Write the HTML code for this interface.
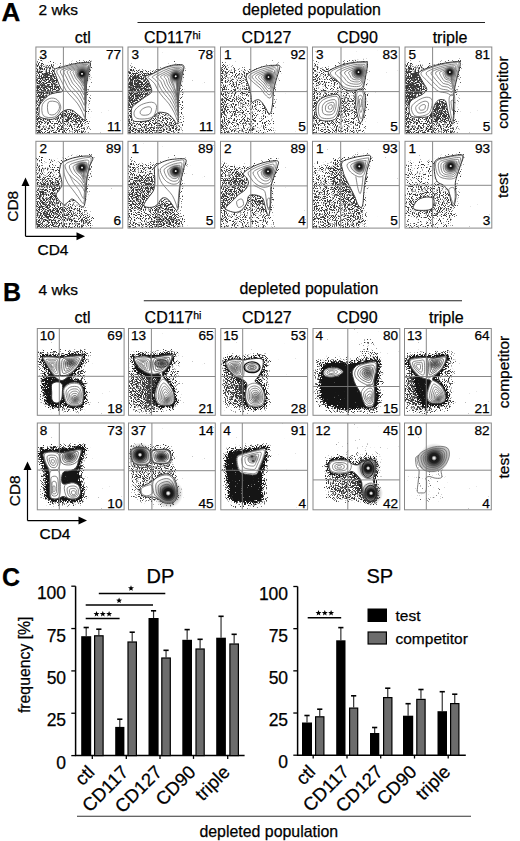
<!DOCTYPE html>
<html><head><meta charset="utf-8"><style>
html,body{margin:0;padding:0;background:#fff;width:520px;height:841px;overflow:hidden}
svg{display:block}
text{font-family:"Liberation Sans",sans-serif;stroke:#000;stroke-width:0.25px}
</style></head><body>
<svg width="520" height="841" viewBox="0 0 520 841">
<defs>
<filter id="st0" x="0" y="0" width="100%" height="100%" filterUnits="userSpaceOnUse" color-interpolation-filters="sRGB">
<feGaussianBlur in="SourceAlpha" stdDeviation="2.4" result="b0"/>
<feComponentTransfer in="b0" result="b"><feFuncA type="table" tableValues="0.05 0.35 0.42 0.49 0.53 0.58 0.63 0.69 0.76 0.86 1"/></feComponentTransfer>
<feTurbulence type="fractalNoise" baseFrequency="1.1" numOctaves="1" seed="3" result="n"/>
<feColorMatrix in="n" type="matrix" values="0 0 0 0 0  0 0 0 0 0  0 0 0 0 0  1.6 0 0 0 -0.3" result="na"/>
<feComposite in="b" in2="na" operator="arithmetic" k2="1" k3="-1" k4="0" result="d"/>
<feComponentTransfer in="d" result="t"><feFuncA type="linear" slope="6" intercept="0"/></feComponentTransfer>
<feFlood flood-color="#3a3a3a"/>
<feComposite in2="t" operator="in"/>
<feGaussianBlur stdDeviation="0.75"/>
</filter>
<filter id="sd0" x="0" y="0" width="100%" height="100%" filterUnits="userSpaceOnUse" color-interpolation-filters="sRGB">
<feGaussianBlur in="SourceAlpha" stdDeviation="1.4" result="b0"/>
<feComponentTransfer in="b0" result="b"><feFuncA type="table" tableValues="0.05 0.35 0.42 0.49 0.53 0.58 0.63 0.69 0.76 0.86 1"/></feComponentTransfer>
<feTurbulence type="fractalNoise" baseFrequency="1.3" numOctaves="1" seed="3" result="n"/>
<feColorMatrix in="n" type="matrix" values="0 0 0 0 0  0 0 0 0 0  0 0 0 0 0  1.6 0 0 0 -0.3" result="na"/>
<feComposite in="b" in2="na" operator="arithmetic" k2="1" k3="-1" k4="0" result="d"/>
<feComponentTransfer in="d" result="t"><feFuncA type="linear" slope="6" intercept="0"/></feComponentTransfer>
<feFlood flood-color="#151515"/>
<feComposite in2="t" operator="in"/>
<feGaussianBlur stdDeviation="0.4"/>
</filter>
<filter id="st1" x="0" y="0" width="100%" height="100%" filterUnits="userSpaceOnUse" color-interpolation-filters="sRGB">
<feGaussianBlur in="SourceAlpha" stdDeviation="2.4" result="b0"/>
<feComponentTransfer in="b0" result="b"><feFuncA type="table" tableValues="0.05 0.35 0.42 0.49 0.53 0.58 0.63 0.69 0.76 0.86 1"/></feComponentTransfer>
<feTurbulence type="fractalNoise" baseFrequency="1.1" numOctaves="1" seed="10" result="n"/>
<feColorMatrix in="n" type="matrix" values="0 0 0 0 0  0 0 0 0 0  0 0 0 0 0  1.6 0 0 0 -0.3" result="na"/>
<feComposite in="b" in2="na" operator="arithmetic" k2="1" k3="-1" k4="0" result="d"/>
<feComponentTransfer in="d" result="t"><feFuncA type="linear" slope="6" intercept="0"/></feComponentTransfer>
<feFlood flood-color="#3a3a3a"/>
<feComposite in2="t" operator="in"/>
<feGaussianBlur stdDeviation="0.75"/>
</filter>
<filter id="sd1" x="0" y="0" width="100%" height="100%" filterUnits="userSpaceOnUse" color-interpolation-filters="sRGB">
<feGaussianBlur in="SourceAlpha" stdDeviation="1.4" result="b0"/>
<feComponentTransfer in="b0" result="b"><feFuncA type="table" tableValues="0.05 0.35 0.42 0.49 0.53 0.58 0.63 0.69 0.76 0.86 1"/></feComponentTransfer>
<feTurbulence type="fractalNoise" baseFrequency="1.3" numOctaves="1" seed="10" result="n"/>
<feColorMatrix in="n" type="matrix" values="0 0 0 0 0  0 0 0 0 0  0 0 0 0 0  1.6 0 0 0 -0.3" result="na"/>
<feComposite in="b" in2="na" operator="arithmetic" k2="1" k3="-1" k4="0" result="d"/>
<feComponentTransfer in="d" result="t"><feFuncA type="linear" slope="6" intercept="0"/></feComponentTransfer>
<feFlood flood-color="#151515"/>
<feComposite in2="t" operator="in"/>
<feGaussianBlur stdDeviation="0.4"/>
</filter>
<filter id="st2" x="0" y="0" width="100%" height="100%" filterUnits="userSpaceOnUse" color-interpolation-filters="sRGB">
<feGaussianBlur in="SourceAlpha" stdDeviation="2.4" result="b0"/>
<feComponentTransfer in="b0" result="b"><feFuncA type="table" tableValues="0.05 0.35 0.42 0.49 0.53 0.58 0.63 0.69 0.76 0.86 1"/></feComponentTransfer>
<feTurbulence type="fractalNoise" baseFrequency="1.1" numOctaves="1" seed="17" result="n"/>
<feColorMatrix in="n" type="matrix" values="0 0 0 0 0  0 0 0 0 0  0 0 0 0 0  1.6 0 0 0 -0.3" result="na"/>
<feComposite in="b" in2="na" operator="arithmetic" k2="1" k3="-1" k4="0" result="d"/>
<feComponentTransfer in="d" result="t"><feFuncA type="linear" slope="6" intercept="0"/></feComponentTransfer>
<feFlood flood-color="#3a3a3a"/>
<feComposite in2="t" operator="in"/>
<feGaussianBlur stdDeviation="0.75"/>
</filter>
<filter id="sd2" x="0" y="0" width="100%" height="100%" filterUnits="userSpaceOnUse" color-interpolation-filters="sRGB">
<feGaussianBlur in="SourceAlpha" stdDeviation="1.4" result="b0"/>
<feComponentTransfer in="b0" result="b"><feFuncA type="table" tableValues="0.05 0.35 0.42 0.49 0.53 0.58 0.63 0.69 0.76 0.86 1"/></feComponentTransfer>
<feTurbulence type="fractalNoise" baseFrequency="1.3" numOctaves="1" seed="17" result="n"/>
<feColorMatrix in="n" type="matrix" values="0 0 0 0 0  0 0 0 0 0  0 0 0 0 0  1.6 0 0 0 -0.3" result="na"/>
<feComposite in="b" in2="na" operator="arithmetic" k2="1" k3="-1" k4="0" result="d"/>
<feComponentTransfer in="d" result="t"><feFuncA type="linear" slope="6" intercept="0"/></feComponentTransfer>
<feFlood flood-color="#151515"/>
<feComposite in2="t" operator="in"/>
<feGaussianBlur stdDeviation="0.4"/>
</filter>
<filter id="st3" x="0" y="0" width="100%" height="100%" filterUnits="userSpaceOnUse" color-interpolation-filters="sRGB">
<feGaussianBlur in="SourceAlpha" stdDeviation="2.4" result="b0"/>
<feComponentTransfer in="b0" result="b"><feFuncA type="table" tableValues="0.05 0.35 0.42 0.49 0.53 0.58 0.63 0.69 0.76 0.86 1"/></feComponentTransfer>
<feTurbulence type="fractalNoise" baseFrequency="1.1" numOctaves="1" seed="24" result="n"/>
<feColorMatrix in="n" type="matrix" values="0 0 0 0 0  0 0 0 0 0  0 0 0 0 0  1.6 0 0 0 -0.3" result="na"/>
<feComposite in="b" in2="na" operator="arithmetic" k2="1" k3="-1" k4="0" result="d"/>
<feComponentTransfer in="d" result="t"><feFuncA type="linear" slope="6" intercept="0"/></feComponentTransfer>
<feFlood flood-color="#3a3a3a"/>
<feComposite in2="t" operator="in"/>
<feGaussianBlur stdDeviation="0.75"/>
</filter>
<filter id="sd3" x="0" y="0" width="100%" height="100%" filterUnits="userSpaceOnUse" color-interpolation-filters="sRGB">
<feGaussianBlur in="SourceAlpha" stdDeviation="1.4" result="b0"/>
<feComponentTransfer in="b0" result="b"><feFuncA type="table" tableValues="0.05 0.35 0.42 0.49 0.53 0.58 0.63 0.69 0.76 0.86 1"/></feComponentTransfer>
<feTurbulence type="fractalNoise" baseFrequency="1.3" numOctaves="1" seed="24" result="n"/>
<feColorMatrix in="n" type="matrix" values="0 0 0 0 0  0 0 0 0 0  0 0 0 0 0  1.6 0 0 0 -0.3" result="na"/>
<feComposite in="b" in2="na" operator="arithmetic" k2="1" k3="-1" k4="0" result="d"/>
<feComponentTransfer in="d" result="t"><feFuncA type="linear" slope="6" intercept="0"/></feComponentTransfer>
<feFlood flood-color="#151515"/>
<feComposite in2="t" operator="in"/>
<feGaussianBlur stdDeviation="0.4"/>
</filter>
<radialGradient id="rg"><stop offset="0" stop-color="#111"/><stop offset="0.5" stop-color="#333" stop-opacity="0.8"/><stop offset="1" stop-color="#666" stop-opacity="0"/></radialGradient><radialGradient id="rw"><stop offset="0" stop-color="#fff"/><stop offset="0.07" stop-color="#ddd"/><stop offset="0.18" stop-color="#111"/><stop offset="0.32" stop-color="#1a1a1a"/><stop offset="0.5" stop-color="#444" stop-opacity="0.8"/><stop offset="0.75" stop-color="#777" stop-opacity="0.35"/><stop offset="1" stop-color="#999" stop-opacity="0"/></radialGradient>
<clipPath id="boxclip"><rect x="0" y="0" width="86.8" height="86.8"/></clipPath>
</defs>
<text x="1.5" y="21.1" font-size="26" text-anchor="start" font-weight="bold" fill="#000">A</text>
<text x="38.5" y="14.6" font-size="15.5" text-anchor="start" fill="#000">2 wks</text>
<text x="3" y="301.3" font-size="25" text-anchor="start" font-weight="bold" fill="#000">B</text>
<text x="38.5" y="294.5" font-size="15.5" text-anchor="start" fill="#000">4 wks</text>
<text x="2" y="586.3" font-size="25" text-anchor="start" font-weight="bold" fill="#000">C</text>
<line x1="137.5" y1="22.5" x2="485" y2="22.5" stroke="#222" stroke-width="1.1"/>
<text x="311.6" y="15.4" font-size="15.9" text-anchor="middle" fill="#000">depleted population</text>
<line x1="143.8" y1="300.8" x2="462" y2="300.8" stroke="#222" stroke-width="1.1"/>
<text x="308.9" y="294.3" font-size="15.9" text-anchor="middle" fill="#000">depleted population</text>
<text x="82.75" y="43.2" font-size="16" text-anchor="middle" fill="#000">ctl</text>
<text x="172.3" y="43.2" font-size="16" text-anchor="middle" fill="#000">CD117<tspan font-size="10.5" dy="-4.2">hi</tspan></text>
<text x="266.5" y="43.2" font-size="16" text-anchor="middle" fill="#000">CD127</text>
<text x="357.4" y="43.2" font-size="16" text-anchor="middle" fill="#000">CD90</text>
<text x="450" y="43.2" font-size="16" text-anchor="middle" fill="#000">triple</text>
<text x="82.5" y="322.7" font-size="16" text-anchor="middle" fill="#000">ctl</text>
<text x="173" y="322.7" font-size="16" text-anchor="middle" fill="#000">CD117<tspan font-size="10.5" dy="-4.2">hi</tspan></text>
<text x="266.8" y="322.7" font-size="16" text-anchor="middle" fill="#000">CD127</text>
<text x="357.1" y="322.7" font-size="16" text-anchor="middle" fill="#000">CD90</text>
<text x="446.3" y="322.7" font-size="16" text-anchor="middle" fill="#000">triple</text>
<text x="508.3" y="92.6" font-size="15.5" text-anchor="middle" fill="#000" transform="rotate(-90 508.3 92.6)">competitor</text>
<text x="508" y="185.4" font-size="15.5" text-anchor="middle" fill="#000" transform="rotate(-90 508 185.4)">test</text>
<text x="508.8" y="372" font-size="15.5" text-anchor="middle" fill="#000" transform="rotate(-90 508.8 372)">competitor</text>
<text x="508.8" y="466" font-size="15.5" text-anchor="middle" fill="#000" transform="rotate(-90 508.8 466)">test</text>
<line x1="25.5" y1="184.6" x2="25.5" y2="236.3" stroke="#000" stroke-width="1.2"/>
<line x1="25.5" y1="236.3" x2="78" y2="236.3" stroke="#000" stroke-width="1.2"/>
<path d="M25.5 177.6 L21.5 186.1 L29.5 186.1Z" fill="#000"/>
<path d="M85 236.3 L76.5 232.3 L76.5 240.3Z" fill="#000"/>
<text x="18.0" y="206.3" font-size="15.5" text-anchor="middle" fill="#000" transform="rotate(-90 18.0 206.3)">CD8</text>
<text x="53.0" y="254.6" font-size="15.5" text-anchor="middle" fill="#000">CD4</text>
<line x1="27.5" y1="468.4" x2="27.5" y2="520.6" stroke="#000" stroke-width="1.2"/>
<line x1="27.5" y1="520.6" x2="80" y2="520.6" stroke="#000" stroke-width="1.2"/>
<path d="M27.5 461.4 L23.5 469.9 L31.5 469.9Z" fill="#000"/>
<path d="M87 520.6 L78.5 516.6 L78.5 524.6Z" fill="#000"/>
<text x="20.0" y="490.8" font-size="15.5" text-anchor="middle" fill="#000" transform="rotate(-90 20.0 490.8)">CD8</text>
<text x="55.0" y="538.7" font-size="15.5" text-anchor="middle" fill="#000">CD4</text>
<g transform="translate(35.9,47)">
<g clip-path="url(#boxclip)"><g transform="translate(0.1,0)"><g filter="url(#st0)">
<path d="M0.0 17.6 C1.7 5.9 7.0 16.7 10.0 16.7 C13.1 16.7 15.9 17.2 18.4 17.6 C20.9 17.9 25.1 17.9 25.1 18.7 C25.1 19.6 19.3 21.0 18.4 22.6 C17.5 24.2 19.2 26.5 19.7 28.4 C20.3 30.4 21.0 32.3 21.8 34.3 C22.5 36.3 23.5 38.5 24.3 40.2 C25.0 41.8 27.2 43.4 26.4 44.3 C25.7 45.3 22.1 45.2 19.7 45.8 C17.4 46.5 15.0 46.4 12.4 48.4 C9.7 50.3 5.4 55.0 3.8 57.6 C2.3 60.1 3.3 61.5 3.3 63.6 C3.3 65.6 1.9 68.5 3.8 69.9 C5.8 71.4 12.0 72.4 14.9 72.4 C17.8 72.4 19.2 71.2 21.1 69.9 C22.9 68.7 24.1 66.1 25.9 64.9 C27.8 63.7 30.3 62.8 32.1 62.6 C34.0 62.4 35.1 62.7 37.0 63.7 C38.8 64.8 41.2 67.1 43.2 68.8 C45.1 70.4 47.3 72.0 48.5 73.6 C49.7 75.3 49.9 76.4 50.2 78.6 C50.5 80.9 58.6 85.6 50.2 87.0 C41.8 88.4 8.4 98.6 0.0 87.0 C-8.4 75.4 -1.7 29.3 0.0 17.6Z" fill="#000" fill-opacity="0.360"/>
<path d="M3.3 23.4 C5.6 18.1 14.0 22.6 16.7 23.4 C19.5 24.3 18.9 26.6 19.7 28.4 C20.6 30.3 21.0 32.3 21.8 34.3 C22.5 36.3 23.7 38.6 24.3 40.2 C24.8 41.7 26.4 42.7 25.1 43.8 C23.8 45.0 19.8 45.2 16.7 46.8 C13.7 48.5 8.9 52.1 6.7 53.5 C4.5 54.9 3.9 60.2 3.3 55.2 C2.8 50.2 1.1 28.7 3.3 23.4Z" fill="#000" fill-opacity="0.446"/>
<path d="M0.0 20.9 C0.6 9.9 3.1 9.9 3.7 20.9 C4.3 31.9 4.3 76.0 3.7 87.0 C3.1 98.0 0.6 98.0 0.0 87.0 C-0.6 76.0 -0.6 31.9 0.0 20.9Z" fill="#000" fill-opacity="0.590"/>
<path d="M26.8 64.4 C27.9 63.1 31.0 62.0 33.5 62.2 C36.0 62.5 39.3 64.3 41.8 66.1 C44.3 67.8 47.7 70.7 48.5 72.8 C49.4 74.9 49.4 78.5 46.8 78.6 C44.3 78.8 36.8 75.0 33.5 73.6 C30.1 72.2 27.9 71.8 26.8 70.3 C25.7 68.7 25.7 65.8 26.8 64.4Z" fill="#000" fill-opacity="0.396"/>
<path d="M49.4 41.8 C50.1 36.0 52.8 36.0 53.5 41.8 C54.2 47.7 54.2 71.1 53.5 77.0 C52.8 82.8 50.1 82.8 49.4 77.0 C48.7 71.1 48.7 47.7 49.4 41.8Z" fill="#000" fill-opacity="0.086"/>
<path d="M18.4 22.6 C19.6 21.1 23.4 20.7 26.8 19.7 C30.1 18.8 34.6 17.5 38.5 16.7 C42.4 16.0 47.5 15.4 50.2 15.4 C52.8 15.4 53.9 15.4 54.4 16.7 C54.9 18.1 53.8 20.6 53.2 23.4 C52.6 26.2 51.5 30.1 51.0 33.5 C50.5 36.8 50.4 39.9 50.2 43.5 C50.0 47.1 50.0 51.3 49.9 55.2 C49.7 59.1 49.6 64.0 49.4 66.9 C49.1 69.9 49.6 72.5 48.5 72.8 C47.5 73.1 45.1 70.3 43.2 68.8 C41.2 67.3 38.8 64.8 37.0 63.7 C35.1 62.7 34.0 62.4 32.1 62.6 C30.3 62.8 27.8 63.7 25.9 64.9 C24.1 66.1 22.9 68.7 21.1 69.9 C19.2 71.2 17.8 72.4 14.9 72.4 C12.0 72.4 5.8 71.4 3.8 69.9 C1.9 68.5 3.3 65.6 3.3 63.6 C3.3 61.5 2.3 60.1 3.8 57.6 C5.4 55.0 9.7 50.3 12.4 48.4 C15.0 46.4 17.4 46.5 19.7 45.8 C22.1 45.2 25.7 45.3 26.4 44.3 C27.2 43.4 25.0 41.8 24.3 40.2 C23.5 38.5 22.5 36.3 21.8 34.3 C21.0 32.3 20.3 30.4 19.7 28.4 C19.2 26.5 17.2 24.0 18.4 22.6Z" fill="none" stroke="#000" stroke-width="3.0" stroke-opacity="0.3"/>
</g>
<path d="M18.4 22.6 C19.6 21.1 23.4 20.7 26.8 19.7 C30.1 18.8 34.6 17.5 38.5 16.7 C42.4 16.0 47.5 15.4 50.2 15.4 C52.8 15.4 53.9 15.4 54.4 16.7 C54.9 18.1 53.8 20.6 53.2 23.4 C52.6 26.2 51.5 30.1 51.0 33.5 C50.5 36.8 50.4 39.9 50.2 43.5 C50.0 47.1 50.0 51.3 49.9 55.2 C49.7 59.1 49.6 64.0 49.4 66.9 C49.1 69.9 49.6 72.5 48.5 72.8 C47.5 73.1 45.1 70.3 43.2 68.8 C41.2 67.3 38.8 64.8 37.0 63.7 C35.1 62.7 34.0 62.4 32.1 62.6 C30.3 62.8 27.8 63.7 25.9 64.9 C24.1 66.1 22.9 68.7 21.1 69.9 C19.2 71.2 17.8 72.4 14.9 72.4 C12.0 72.4 5.8 71.4 3.8 69.9 C1.9 68.5 3.3 65.6 3.3 63.6 C3.3 61.5 2.3 60.1 3.8 57.6 C5.4 55.0 9.7 50.3 12.4 48.4 C15.0 46.4 17.4 46.5 19.7 45.8 C22.1 45.2 25.7 45.3 26.4 44.3 C27.2 43.4 25.0 41.8 24.3 40.2 C23.5 38.5 22.5 36.3 21.8 34.3 C21.0 32.3 20.3 30.4 19.7 28.4 C19.2 26.5 17.2 24.0 18.4 22.6Z" fill="#fff" stroke="#333" stroke-width="1.0"/>
<path d="M20.9 23.4 C22.0 21.7 26.9 20.7 30.1 19.7 C33.3 18.7 36.8 18.0 40.2 17.4 C43.5 16.8 48.0 16.1 50.2 16.1 C52.4 16.1 52.9 15.9 53.2 17.4 C53.5 18.9 52.6 22.1 52.2 25.1 C51.8 28.1 50.9 31.5 50.5 35.1 C50.1 38.8 50.0 42.9 49.9 46.8 C49.7 50.8 49.7 54.7 49.5 58.6 C49.4 62.5 49.6 69.3 49.0 70.3 C48.4 71.2 47.2 66.6 46.0 64.4 C44.8 62.2 43.5 59.3 41.8 56.9 C40.2 54.5 37.9 52.4 36.0 50.2 C34.0 48.0 31.6 45.7 30.1 43.5 C28.6 41.3 27.9 39.0 26.8 36.8 C25.7 34.6 24.4 32.3 23.4 30.1 C22.4 27.9 19.8 25.2 20.9 23.4Z" fill="none" stroke="#555" stroke-width="0.7"/>
<path d="M24.5 23.7 C25.5 22.2 29.8 21.3 32.6 20.4 C35.4 19.5 38.4 18.9 41.3 18.4 C44.2 17.9 48.1 17.4 50.0 17.4 C51.8 17.5 52.3 17.4 52.5 18.7 C52.8 20.1 52.0 22.8 51.6 25.4 C51.3 27.9 50.5 30.9 50.2 34.0 C49.8 37.1 49.7 40.7 49.6 44.1 C49.4 47.4 49.4 50.7 49.2 54.1 C49.1 57.4 49.3 63.3 48.8 64.1 C48.3 65.0 47.2 61.0 46.1 59.1 C45.1 57.2 44.0 54.6 42.5 52.6 C41.1 50.5 39.1 48.6 37.5 46.7 C35.8 44.8 33.7 42.8 32.4 40.9 C31.1 39.0 30.5 37.1 29.5 35.2 C28.6 33.3 27.5 31.4 26.7 29.4 C25.8 27.5 23.6 25.2 24.5 23.7Z" fill="none" stroke="#555" stroke-width="0.7"/>
<path d="M28.0 24.0 C28.9 22.7 32.5 21.8 34.9 21.1 C37.3 20.3 40.0 19.7 42.4 19.4 C44.9 19.0 48.2 18.6 49.8 18.7 C51.3 18.8 51.7 18.9 51.9 20.0 C52.1 21.2 51.4 23.5 51.1 25.6 C50.8 27.8 50.2 30.3 49.9 33.0 C49.6 35.6 49.5 38.6 49.3 41.4 C49.2 44.2 49.1 47.0 49.0 49.8 C48.8 52.6 49.0 57.6 48.5 58.3 C48.1 59.0 47.2 55.7 46.3 54.1 C45.4 52.4 44.4 50.2 43.2 48.4 C42.0 46.7 40.3 45.0 38.9 43.4 C37.4 41.7 35.7 40.1 34.6 38.5 C33.5 36.9 32.9 35.3 32.1 33.6 C31.3 32.0 30.4 30.4 29.7 28.8 C29.1 27.2 27.1 25.3 28.0 24.0Z" fill="none" stroke="#555" stroke-width="0.7"/>
<path d="M31.3 24.2 C32.0 23.1 35.1 22.3 37.1 21.7 C39.2 21.0 41.4 20.5 43.5 20.3 C45.6 20.0 48.3 19.8 49.6 20.0 C50.9 20.1 51.1 20.2 51.3 21.2 C51.5 22.2 50.9 24.1 50.6 25.9 C50.3 27.7 49.8 29.8 49.6 32.0 C49.3 34.1 49.2 36.6 49.1 38.9 C48.9 41.2 48.9 43.5 48.7 45.8 C48.6 48.1 48.7 52.2 48.3 52.8 C47.9 53.3 47.2 50.7 46.4 49.3 C45.7 47.9 44.9 46.1 43.8 44.6 C42.8 43.0 41.4 41.6 40.2 40.2 C39.0 38.9 37.6 37.5 36.6 36.2 C35.7 34.8 35.2 33.5 34.6 32.2 C33.9 30.9 33.2 29.5 32.7 28.2 C32.1 26.9 30.5 25.3 31.3 24.2Z" fill="none" stroke="#555" stroke-width="0.7"/>
<path d="M34.3 24.5 C34.9 23.5 37.5 22.8 39.2 22.2 C40.9 21.7 42.8 21.3 44.5 21.1 C46.2 20.9 48.3 20.9 49.4 21.1 C50.4 21.3 50.6 21.5 50.7 22.3 C50.9 23.2 50.4 24.7 50.1 26.1 C49.9 27.6 49.5 29.3 49.3 31.0 C49.1 32.8 49.0 34.7 48.8 36.6 C48.7 38.4 48.6 40.3 48.5 42.1 C48.4 44.0 48.4 47.2 48.1 47.7 C47.8 48.1 47.1 46.0 46.5 44.9 C45.9 43.8 45.2 42.2 44.4 41.0 C43.5 39.7 42.4 38.5 41.4 37.3 C40.4 36.2 39.3 35.1 38.5 34.0 C37.8 33.0 37.4 31.9 36.8 30.8 C36.3 29.8 35.8 28.7 35.3 27.6 C34.9 26.6 33.6 25.4 34.3 24.5Z" fill="none" stroke="#555" stroke-width="0.7"/>
<path d="M37.0 24.7 C37.5 23.9 39.6 23.2 41.0 22.7 C42.4 22.2 44.0 22.0 45.4 21.9 C46.7 21.8 48.4 21.9 49.2 22.1 C50.0 22.4 50.1 22.6 50.2 23.3 C50.3 24.0 49.9 25.2 49.7 26.3 C49.5 27.5 49.2 28.8 49.0 30.2 C48.9 31.5 48.7 33.0 48.6 34.5 C48.5 35.9 48.4 37.3 48.3 38.8 C48.2 40.2 48.2 42.7 47.9 43.1 C47.6 43.4 47.1 41.8 46.6 40.9 C46.1 40.0 45.6 38.7 44.9 37.7 C44.2 36.7 43.3 35.7 42.5 34.7 C41.8 33.8 40.9 33.0 40.3 32.1 C39.7 31.3 39.3 30.5 38.9 29.6 C38.5 28.8 38.1 28.0 37.8 27.1 C37.5 26.3 36.5 25.4 37.0 24.7Z" fill="none" stroke="#555" stroke-width="0.7"/>
<path d="M39.3 24.8 C39.8 24.2 41.5 23.5 42.6 23.1 C43.7 22.8 45.0 22.5 46.1 22.5 C47.2 22.5 48.4 22.7 49.1 23.0 C49.7 23.3 49.8 23.6 49.8 24.2 C49.9 24.8 49.5 25.6 49.4 26.5 C49.2 27.4 49.0 28.4 48.8 29.5 C48.7 30.5 48.6 31.6 48.4 32.7 C48.3 33.8 48.2 34.8 48.1 35.9 C48.0 37.0 48.0 38.8 47.7 39.1 C47.5 39.4 47.1 38.2 46.7 37.5 C46.3 36.8 45.9 35.8 45.4 34.9 C44.8 34.1 44.1 33.2 43.5 32.5 C42.9 31.7 42.2 31.1 41.7 30.5 C41.3 29.8 41.0 29.2 40.7 28.6 C40.3 28.0 40.1 27.3 39.9 26.7 C39.6 26.1 38.9 25.4 39.3 24.8Z" fill="none" stroke="#555" stroke-width="0.7"/>
<path d="M40.9 25.0 C41.3 24.5 42.7 23.8 43.7 23.4 C44.6 23.1 45.7 22.9 46.6 22.9 C47.5 23.0 48.5 23.3 49.0 23.6 C49.4 23.9 49.5 24.3 49.5 24.8 C49.5 25.3 49.3 25.9 49.1 26.6 C49.0 27.3 48.8 28.2 48.7 29.0 C48.5 29.8 48.4 30.6 48.3 31.5 C48.2 32.3 48.1 33.1 48.0 33.9 C47.9 34.8 47.8 36.2 47.6 36.4 C47.4 36.6 47.1 35.7 46.8 35.2 C46.5 34.6 46.1 33.7 45.7 33.0 C45.2 32.3 44.6 31.6 44.1 31.0 C43.6 30.3 43.1 29.9 42.7 29.3 C42.4 28.8 42.1 28.4 41.9 27.9 C41.6 27.4 41.4 26.9 41.3 26.4 C41.1 25.9 40.5 25.5 40.9 25.0Z" fill="none" stroke="#555" stroke-width="0.7"/>
<path d="M6.4 57.6 C7.4 54.7 11.1 52.3 13.6 51.5 C16.0 50.7 19.2 51.1 21.1 52.7 C22.9 54.3 25.2 58.4 24.8 61.2 C24.3 64.1 21.4 68.7 18.6 69.9 C15.7 71.2 9.6 70.8 7.5 68.8 C5.5 66.7 5.4 60.4 6.4 57.6Z" fill="none" stroke="#555" stroke-width="0.7"/>
<path d="M12.4 55.2 C13.8 53.4 19.2 54.2 21.1 55.2 C22.9 56.2 23.8 59.2 23.4 61.2 C23.0 63.3 20.4 66.6 18.6 67.4 C16.7 68.3 13.4 68.3 12.4 66.3 C11.3 64.2 10.9 57.1 12.4 55.2Z" fill="none" stroke="#555" stroke-width="0.7"/>
<ellipse cx="47.7" cy="27.6" rx="7.5" ry="11.7" fill="url(#rg)" fill-opacity="0.45"/>
<circle cx="46.0" cy="26.8" r="7.7" fill="url(#rw)" fill-opacity="1"/></g></g>
<line x1="27.5" y1="0" x2="27.5" y2="86.8" stroke="#7a7a7a" stroke-width="0.9"/>
<line x1="0" y1="44.4" x2="86.8" y2="44.4" stroke="#7a7a7a" stroke-width="0.9"/>
<rect x="0" y="0" width="86.8" height="86.8" fill="none" stroke="#888" stroke-width="1"/>
<text x="3.6" y="12.2" font-size="13.6" text-anchor="start" fill="#000">3</text>
<text x="85.2" y="12.2" font-size="13.6" text-anchor="end" fill="#000">77</text>
<text x="85.2" y="84.0" font-size="13.6" text-anchor="end" fill="#000">11</text>
</g>
<g transform="translate(128,47)">
<g clip-path="url(#boxclip)"><g transform="translate(0,0)"><g filter="url(#st1)">
<path d="M0.0 25.1 C1.7 14.5 6.7 23.4 10.0 23.4 C13.4 23.4 17.3 24.6 20.1 25.1 C22.9 25.6 26.8 25.3 26.8 26.4 C26.8 27.6 20.8 29.6 20.1 31.8 C19.4 33.9 22.0 37.1 22.6 39.3 C23.1 41.5 24.4 43.4 23.4 45.2 C22.4 47.0 19.0 48.5 16.7 50.2 C14.5 51.9 12.1 53.5 10.0 55.2 C7.9 56.9 5.3 58.3 4.2 60.2 C3.1 62.2 3.2 64.7 3.3 66.9 C3.5 69.2 3.6 72.4 5.0 73.6 C6.4 74.9 9.2 74.5 11.7 74.5 C14.2 74.5 17.8 74.3 20.1 73.6 C22.3 72.9 23.6 71.5 25.1 70.3 C26.6 69.0 27.9 66.9 29.3 66.1 C30.7 65.3 31.6 65.1 33.5 65.3 C35.3 65.4 38.2 65.8 40.2 66.9 C42.1 68.0 43.6 70.3 45.2 71.9 C46.7 73.6 48.5 74.5 49.4 77.0 C50.2 79.5 58.4 85.3 50.2 87.0 C42.0 88.7 8.4 97.3 0.0 87.0 C-8.4 76.7 -1.7 35.7 0.0 25.1Z" fill="#000" fill-opacity="0.432"/>
<path d="M0.0 27.6 C1.7 22.3 7.0 26.5 10.0 26.8 C13.1 27.0 16.5 27.3 18.4 29.3 C20.4 31.2 21.5 35.6 21.8 38.5 C22.0 41.4 22.0 44.3 20.1 46.8 C18.1 49.4 12.8 51.6 10.0 53.5 C7.3 55.5 5.0 57.7 3.3 58.6 C1.7 59.4 0.6 63.7 0.0 58.6 C-0.6 53.4 -1.7 32.9 0.0 27.6Z" fill="#000" fill-opacity="0.562"/>
<path d="M0.0 26.8 C0.5 16.7 2.5 16.7 3.0 26.8 C3.5 36.8 3.5 77.0 3.0 87.0 C2.5 97.0 0.5 97.0 0.0 87.0 C-0.5 77.0 -0.5 36.8 0.0 26.8Z" fill="#000" fill-opacity="0.590"/>
<path d="M49.4 43.5 C50.2 37.6 53.5 37.6 54.4 43.5 C55.2 49.4 55.2 72.8 54.4 78.6 C53.5 84.5 50.2 84.5 49.4 78.6 C48.5 72.8 48.5 49.4 49.4 43.5Z" fill="#000" fill-opacity="0.108"/>
<path d="M17.6 29.3 C18.4 28.1 22.4 27.7 25.1 26.4 C27.7 25.2 30.4 23.1 33.5 21.8 C36.5 20.4 40.3 19.1 43.5 18.4 C46.7 17.7 50.6 17.3 52.7 17.6 C54.8 17.8 55.8 18.2 56.0 19.7 C56.3 21.3 54.9 24.2 54.4 26.8 C53.8 29.3 53.3 32.1 52.7 35.1 C52.1 38.2 51.4 41.8 51.0 45.2 C50.6 48.5 50.3 51.6 50.2 55.2 C50.1 58.8 50.3 63.3 50.2 66.9 C50.1 70.5 50.2 76.1 49.4 77.0 C48.5 77.8 46.7 73.6 45.2 71.9 C43.6 70.3 42.1 68.0 40.2 66.9 C38.2 65.8 35.3 65.4 33.5 65.3 C31.6 65.1 30.7 65.3 29.3 66.1 C27.9 66.9 26.6 69.0 25.1 70.3 C23.6 71.5 22.3 72.9 20.1 73.6 C17.8 74.3 14.2 74.5 11.7 74.5 C9.2 74.5 6.4 74.9 5.0 73.6 C3.6 72.4 3.5 69.2 3.3 66.9 C3.2 64.7 3.1 62.2 4.2 60.2 C5.3 58.3 7.9 56.9 10.0 55.2 C12.1 53.5 14.5 51.9 16.7 50.2 C19.0 48.5 22.4 47.0 23.4 45.2 C24.4 43.4 23.1 41.3 22.6 39.3 C22.0 37.4 20.9 35.1 20.1 33.5 C19.2 31.8 16.7 30.5 17.6 29.3Z" fill="none" stroke="#000" stroke-width="3.0" stroke-opacity="0.3"/>
</g>
<path d="M17.6 29.3 C18.4 28.1 22.4 27.7 25.1 26.4 C27.7 25.2 30.4 23.1 33.5 21.8 C36.5 20.4 40.3 19.1 43.5 18.4 C46.7 17.7 50.6 17.3 52.7 17.6 C54.8 17.8 55.8 18.2 56.0 19.7 C56.3 21.3 54.9 24.2 54.4 26.8 C53.8 29.3 53.3 32.1 52.7 35.1 C52.1 38.2 51.4 41.8 51.0 45.2 C50.6 48.5 50.3 51.6 50.2 55.2 C50.1 58.8 50.3 63.3 50.2 66.9 C50.1 70.5 50.2 76.1 49.4 77.0 C48.5 77.8 46.7 73.6 45.2 71.9 C43.6 70.3 42.1 68.0 40.2 66.9 C38.2 65.8 35.3 65.4 33.5 65.3 C31.6 65.1 30.7 65.3 29.3 66.1 C27.9 66.9 26.6 69.0 25.1 70.3 C23.6 71.5 22.3 72.9 20.1 73.6 C17.8 74.3 14.2 74.5 11.7 74.5 C9.2 74.5 6.4 74.9 5.0 73.6 C3.6 72.4 3.5 69.2 3.3 66.9 C3.2 64.7 3.1 62.2 4.2 60.2 C5.3 58.3 7.9 56.9 10.0 55.2 C12.1 53.5 14.5 51.9 16.7 50.2 C19.0 48.5 22.4 47.0 23.4 45.2 C24.4 43.4 23.1 41.3 22.6 39.3 C22.0 37.4 20.9 35.1 20.1 33.5 C19.2 31.8 16.7 30.5 17.6 29.3Z" fill="#fff" stroke="#333" stroke-width="1.0"/>
<path d="M20.1 29.8 C21.1 28.5 25.4 26.7 28.4 25.1 C31.5 23.5 34.9 21.5 38.5 20.4 C42.1 19.3 47.4 18.5 50.2 18.4 C53.0 18.3 54.7 18.4 55.2 20.1 C55.8 21.8 54.1 25.4 53.5 28.4 C53.0 31.5 52.3 34.9 51.9 38.5 C51.4 42.1 51.0 46.3 50.7 50.2 C50.4 54.1 50.3 58.0 50.2 61.9 C50.1 65.8 50.6 73.1 49.9 73.6 C49.2 74.2 47.5 68.0 46.0 65.3 C44.5 62.5 42.8 59.4 41.0 56.9 C39.2 54.4 36.9 52.4 35.1 50.2 C33.3 48.0 31.5 45.7 30.1 43.5 C28.7 41.3 28.0 38.6 26.8 36.8 C25.5 35.0 23.7 33.8 22.6 32.6 C21.5 31.5 19.1 31.0 20.1 29.8Z" fill="none" stroke="#555" stroke-width="0.7"/>
<path d="M24.4 29.7 C25.3 28.6 28.9 27.1 31.5 25.7 C34.1 24.4 36.9 22.7 40.0 21.8 C43.0 20.8 47.5 20.1 49.9 20.1 C52.2 20.0 53.6 20.1 54.1 21.5 C54.6 22.9 53.2 26.0 52.7 28.6 C52.2 31.2 51.7 34.0 51.3 37.2 C50.9 40.3 50.6 44.0 50.4 47.5 C50.1 50.9 50.1 54.5 50.0 58.1 C49.8 61.7 50.3 68.5 49.7 69.0 C49.1 69.5 47.6 63.8 46.3 61.2 C45.0 58.6 43.4 55.8 41.9 53.5 C40.3 51.2 38.4 49.4 36.8 47.5 C35.3 45.5 33.8 43.5 32.6 41.5 C31.5 39.6 30.9 37.3 29.9 35.7 C28.9 34.1 27.4 33.1 26.5 32.1 C25.5 31.1 23.6 30.8 24.4 29.7Z" fill="none" stroke="#555" stroke-width="0.7"/>
<path d="M28.6 29.6 C29.3 28.8 32.3 27.5 34.4 26.4 C36.6 25.3 38.9 23.9 41.4 23.1 C43.9 22.3 47.6 21.7 49.6 21.7 C51.5 21.7 52.7 21.7 53.1 22.9 C53.5 24.0 52.3 26.5 51.9 28.7 C51.5 30.9 51.1 33.2 50.8 35.9 C50.5 38.6 50.2 41.8 50.1 44.9 C49.9 47.9 49.8 51.1 49.7 54.4 C49.6 57.7 50.1 64.2 49.5 64.7 C49.0 65.1 47.6 59.7 46.5 57.3 C45.4 54.9 44.1 52.3 42.7 50.3 C41.4 48.2 39.8 46.6 38.5 44.9 C37.2 43.1 35.9 41.4 35.0 39.7 C34.1 38.0 33.7 36.0 32.9 34.7 C32.1 33.3 30.9 32.5 30.1 31.6 C29.4 30.8 27.8 30.5 28.6 29.6Z" fill="none" stroke="#555" stroke-width="0.7"/>
<path d="M32.5 29.6 C33.0 28.9 35.4 27.8 37.2 26.9 C38.9 26.1 40.7 25.0 42.8 24.3 C44.8 23.7 47.7 23.2 49.3 23.2 C50.9 23.2 51.8 23.2 52.1 24.1 C52.4 25.1 51.5 27.1 51.2 28.8 C50.9 30.6 50.6 32.4 50.4 34.7 C50.1 37.0 49.9 39.7 49.8 42.4 C49.6 45.1 49.6 48.0 49.5 51.0 C49.5 54.0 49.8 60.1 49.4 60.6 C48.9 61.0 47.7 55.9 46.7 53.7 C45.7 51.4 44.6 49.1 43.5 47.2 C42.4 45.3 41.0 44.0 40.0 42.4 C39.0 40.8 38.0 39.3 37.2 37.9 C36.5 36.4 36.3 34.8 35.7 33.7 C35.1 32.6 34.2 31.9 33.6 31.2 C33.1 30.5 31.9 30.3 32.5 29.6Z" fill="none" stroke="#555" stroke-width="0.7"/>
<path d="M36.1 29.5 C36.5 28.9 38.4 28.2 39.7 27.5 C41.0 26.8 42.5 26.0 44.0 25.5 C45.6 25.0 47.8 24.6 49.0 24.6 C50.2 24.6 51.0 24.6 51.2 25.3 C51.4 26.0 50.7 27.5 50.5 28.9 C50.3 30.3 50.1 31.7 49.9 33.6 C49.7 35.5 49.6 37.8 49.5 40.1 C49.4 42.5 49.4 45.1 49.3 47.8 C49.3 50.6 49.6 56.3 49.2 56.7 C48.8 57.1 47.7 52.3 46.9 50.3 C46.1 48.2 45.2 46.1 44.2 44.4 C43.3 42.7 42.2 41.5 41.4 40.1 C40.6 38.8 39.8 37.5 39.3 36.3 C38.8 35.0 38.7 33.7 38.3 32.8 C37.9 31.8 37.2 31.3 36.8 30.8 C36.5 30.2 35.6 30.0 36.1 29.5Z" fill="none" stroke="#555" stroke-width="0.7"/>
<path d="M39.3 29.4 C39.7 29.0 41.0 28.5 42.0 28.0 C43.0 27.5 44.0 26.9 45.1 26.5 C46.3 26.2 47.9 25.9 48.8 25.9 C49.7 25.9 50.2 25.9 50.4 26.4 C50.6 26.9 50.0 28.0 49.9 29.0 C49.7 30.0 49.6 31.1 49.5 32.6 C49.4 34.1 49.3 36.0 49.2 38.1 C49.2 40.1 49.2 42.4 49.2 45.0 C49.1 47.5 49.4 52.9 49.1 53.3 C48.7 53.7 47.8 49.1 47.1 47.2 C46.4 45.3 45.6 43.4 44.9 41.9 C44.2 40.3 43.3 39.3 42.7 38.1 C42.1 36.9 41.5 35.8 41.2 34.8 C40.9 33.7 40.9 32.7 40.7 31.9 C40.4 31.2 40.0 30.8 39.7 30.4 C39.5 30.0 38.9 29.8 39.3 29.4Z" fill="none" stroke="#555" stroke-width="0.7"/>
<path d="M42.1 29.4 C42.4 29.1 43.3 28.7 44.0 28.4 C44.6 28.1 45.3 27.6 46.1 27.4 C46.9 27.2 48.0 27.0 48.6 27.0 C49.2 26.9 49.6 27.0 49.7 27.3 C49.8 27.7 49.4 28.4 49.3 29.1 C49.2 29.8 49.2 30.5 49.2 31.7 C49.1 32.9 49.1 34.5 49.0 36.3 C49.0 38.1 49.0 40.2 49.0 42.5 C49.0 44.9 49.3 50.0 49.0 50.4 C48.7 50.7 47.8 46.4 47.3 44.6 C46.7 42.8 46.1 41.1 45.5 39.7 C44.9 38.3 44.2 37.4 43.8 36.3 C43.3 35.3 43.0 34.4 42.8 33.5 C42.6 32.7 42.8 31.8 42.7 31.2 C42.6 30.6 42.3 30.4 42.2 30.1 C42.1 29.8 41.8 29.7 42.1 29.4Z" fill="none" stroke="#555" stroke-width="0.7"/>
<path d="M44.0 29.4 C44.3 29.2 44.9 28.9 45.3 28.7 C45.8 28.4 46.3 28.2 46.8 28.0 C47.3 27.8 48.1 27.7 48.5 27.7 C48.9 27.7 49.1 27.7 49.2 27.9 C49.3 28.2 49.0 28.6 49.0 29.2 C48.9 29.7 48.9 30.2 48.9 31.2 C48.9 32.2 48.9 33.5 48.9 35.1 C48.9 36.7 48.9 38.6 48.9 40.9 C48.9 43.1 49.2 48.0 48.9 48.3 C48.6 48.7 47.9 44.5 47.4 42.8 C46.9 41.1 46.3 39.5 45.9 38.2 C45.4 36.9 44.9 36.0 44.5 35.1 C44.2 34.2 44.0 33.4 43.9 32.6 C43.8 31.9 44.0 31.2 44.0 30.7 C44.0 30.3 43.9 30.1 43.9 29.8 C43.9 29.6 43.8 29.5 44.0 29.4Z" fill="none" stroke="#555" stroke-width="0.7"/>
<path d="M6.7 63.6 C7.8 61.6 10.6 59.1 13.4 57.7 C16.2 56.3 20.9 55.1 23.4 55.2 C25.9 55.4 27.9 56.6 28.4 58.6 C29.0 60.5 27.9 64.8 26.8 66.9 C25.7 69.0 24.3 70.3 21.8 71.1 C19.2 71.9 14.2 72.2 11.7 71.9 C9.2 71.7 7.5 70.8 6.7 69.4 C5.9 68.0 5.6 65.5 6.7 63.6Z" fill="none" stroke="#555" stroke-width="0.7"/>
<path d="M12.5 64.0 C13.1 63.0 14.5 61.8 15.9 61.1 C17.3 60.4 19.7 59.7 20.9 59.8 C22.2 59.9 23.1 60.5 23.4 61.5 C23.7 62.5 23.1 64.6 22.6 65.7 C22.0 66.7 21.3 67.3 20.1 67.8 C18.8 68.2 16.3 68.3 15.1 68.2 C13.8 68.0 13.0 67.6 12.5 66.9 C12.1 66.2 12.0 65.0 12.5 64.0Z" fill="none" stroke="#555" stroke-width="0.7"/>
<ellipse cx="48.9" cy="30.1" rx="7.5" ry="11.7" fill="url(#rg)" fill-opacity="0.45"/>
<circle cx="47.7" cy="29.3" r="7.7" fill="url(#rw)" fill-opacity="1"/></g></g>
<line x1="29.8" y1="0" x2="29.8" y2="86.8" stroke="#7a7a7a" stroke-width="0.9"/>
<line x1="0" y1="44.8" x2="86.8" y2="44.8" stroke="#7a7a7a" stroke-width="0.9"/>
<rect x="0" y="0" width="86.8" height="86.8" fill="none" stroke="#888" stroke-width="1"/>
<text x="3.6" y="12.2" font-size="13.6" text-anchor="start" fill="#000">3</text>
<text x="85.2" y="12.2" font-size="13.6" text-anchor="end" fill="#000">78</text>
<text x="85.2" y="84.0" font-size="13.6" text-anchor="end" fill="#000">11</text>
</g>
<g transform="translate(220.5,47)">
<g clip-path="url(#boxclip)"><g transform="translate(-0.5,0)"><g filter="url(#st2)">
<path d="M0.0 21.8 C2.2 10.6 8.9 19.8 13.4 20.1 C17.8 20.4 23.7 22.2 26.8 23.4 C29.8 24.7 31.2 25.4 31.8 27.6 C32.3 29.8 30.1 33.3 30.1 36.8 C30.1 40.3 31.5 45.5 31.8 48.5 C32.1 51.6 32.6 52.1 31.8 55.2 C31.0 58.3 26.8 63.3 26.8 66.9 C26.8 70.5 31.2 73.6 31.8 77.0 C32.3 80.3 35.4 85.3 30.1 87.0 C24.8 88.7 5.0 97.9 0.0 87.0 C-5.0 76.1 -2.2 32.9 0.0 21.8Z" fill="#000" fill-opacity="0.302"/>
<path d="M0.0 23.4 C0.5 12.8 2.5 12.8 3.0 23.4 C3.5 34.0 3.5 76.4 3.0 87.0 C2.5 97.6 0.5 97.6 0.0 87.0 C-0.5 76.4 -0.5 34.0 0.0 23.4Z" fill="#000" fill-opacity="0.432"/>
<path d="M31.0 55.2 C32.3 49.5 36.4 52.7 38.5 52.7 C40.6 52.7 41.8 53.1 43.5 55.2 C45.2 57.3 47.1 62.7 48.5 65.3 C49.9 67.8 51.3 66.6 51.9 70.3 C52.4 73.9 55.5 84.2 51.9 87.0 C48.2 89.8 33.6 92.3 30.1 87.0 C26.6 81.7 29.6 60.9 31.0 55.2Z" fill="#000" fill-opacity="0.216"/>
<path d="M26.8 27.6 C28.2 25.8 32.1 24.0 35.1 22.6 C38.2 21.2 41.3 19.9 45.2 19.2 C49.1 18.5 56.2 18.0 58.6 18.4 C60.9 18.8 59.8 19.2 59.4 21.8 C59.0 24.3 57.0 29.8 56.0 33.5 C55.1 37.1 54.1 39.9 53.5 43.5 C53.0 47.1 53.1 51.6 52.7 55.2 C52.3 58.8 51.7 63.4 51.0 65.3 C50.3 67.1 49.5 66.9 48.5 66.1 C47.5 65.3 46.3 62.0 45.2 60.2 C44.1 58.4 42.9 56.5 41.8 55.2 C40.7 54.0 39.6 53.0 38.5 52.7 C37.4 52.4 36.3 53.1 35.1 53.5 C34.0 54.0 32.5 56.0 31.8 55.2 C31.1 54.4 31.4 51.0 31.0 48.5 C30.5 46.0 30.0 42.7 29.3 40.2 C28.6 37.6 27.2 35.6 26.8 33.5 C26.4 31.4 25.4 29.4 26.8 27.6Z" fill="none" stroke="#000" stroke-width="3.0" stroke-opacity="0.3"/>
</g>
<path d="M26.8 27.6 C28.2 25.8 32.1 24.0 35.1 22.6 C38.2 21.2 41.3 19.9 45.2 19.2 C49.1 18.5 56.2 18.0 58.6 18.4 C60.9 18.8 59.8 19.2 59.4 21.8 C59.0 24.3 57.0 29.8 56.0 33.5 C55.1 37.1 54.1 39.9 53.5 43.5 C53.0 47.1 53.1 51.6 52.7 55.2 C52.3 58.8 51.7 63.4 51.0 65.3 C50.3 67.1 49.5 66.9 48.5 66.1 C47.5 65.3 46.3 62.0 45.2 60.2 C44.1 58.4 42.9 56.5 41.8 55.2 C40.7 54.0 39.6 53.0 38.5 52.7 C37.4 52.4 36.3 53.1 35.1 53.5 C34.0 54.0 32.5 56.0 31.8 55.2 C31.1 54.4 31.4 51.0 31.0 48.5 C30.5 46.0 30.0 42.7 29.3 40.2 C28.6 37.6 27.2 35.6 26.8 33.5 C26.4 31.4 25.4 29.4 26.8 27.6Z" fill="#fff" stroke="#333" stroke-width="1.0"/>
<path d="M28.8 29.1 C29.6 27.1 34.9 24.9 38.5 23.4 C42.1 21.9 47.0 20.7 50.2 20.1 C53.4 19.5 56.9 17.5 57.7 19.7 C58.6 22.0 56.0 29.5 55.2 33.5 C54.5 37.4 54.0 40.6 53.2 43.5 C52.4 46.4 51.5 50.3 50.2 51.0 C48.9 51.7 46.8 49.4 45.2 47.7 C43.5 46.0 42.1 43.0 40.2 41.0 C38.2 39.0 35.4 37.4 33.5 35.5 C31.6 33.5 27.9 31.1 28.8 29.1Z" fill="none" stroke="#555" stroke-width="0.7"/>
<path d="M32.3 29.3 C33.0 27.6 37.3 25.8 40.3 24.6 C43.2 23.4 47.3 22.4 49.9 21.8 C52.5 21.3 55.4 19.7 56.1 21.6 C56.8 23.4 54.7 29.6 54.1 32.9 C53.4 36.2 53.1 38.8 52.4 41.3 C51.8 43.8 51.1 47.2 49.9 47.8 C48.8 48.4 47.1 46.3 45.7 44.9 C44.3 43.5 43.2 40.9 41.5 39.2 C39.9 37.5 37.6 36.2 36.0 34.6 C34.5 32.9 31.6 30.9 32.3 29.3Z" fill="none" stroke="#555" stroke-width="0.7"/>
<path d="M35.5 29.5 C36.1 28.1 39.6 26.7 41.9 25.7 C44.3 24.7 47.5 23.9 49.6 23.5 C51.7 23.1 54.0 21.8 54.6 23.3 C55.1 24.8 53.4 29.7 53.0 32.3 C52.5 35.0 52.3 37.2 51.7 39.2 C51.2 41.3 50.6 44.2 49.7 44.7 C48.8 45.2 47.3 43.4 46.2 42.2 C45.1 41.0 44.1 38.9 42.8 37.5 C41.6 36.1 39.7 35.0 38.5 33.7 C37.3 32.4 35.0 30.8 35.5 29.5Z" fill="none" stroke="#555" stroke-width="0.7"/>
<path d="M38.6 29.6 C39.0 28.6 41.7 27.5 43.5 26.7 C45.3 26.0 47.7 25.4 49.4 25.1 C51.0 24.8 52.7 23.8 53.2 24.9 C53.6 26.0 52.3 29.8 51.9 31.8 C51.6 33.9 51.5 35.7 51.0 37.3 C50.6 39.0 50.2 41.4 49.5 41.8 C48.7 42.2 47.6 40.8 46.7 39.8 C45.8 38.8 45.1 37.1 44.1 35.9 C43.1 34.8 41.6 33.9 40.7 32.9 C39.8 31.8 38.1 30.6 38.6 29.6Z" fill="none" stroke="#555" stroke-width="0.7"/>
<path d="M41.3 29.7 C41.7 29.0 43.6 28.2 44.9 27.7 C46.2 27.1 48.0 26.7 49.1 26.5 C50.3 26.2 51.6 25.5 51.9 26.3 C52.2 27.2 51.3 29.8 51.0 31.4 C50.8 32.9 50.7 34.3 50.4 35.6 C50.1 36.9 49.8 38.9 49.2 39.2 C48.7 39.6 47.8 38.4 47.1 37.6 C46.4 36.8 45.9 35.4 45.2 34.5 C44.4 33.6 43.4 33.0 42.8 32.2 C42.1 31.4 41.0 30.5 41.3 29.7Z" fill="none" stroke="#555" stroke-width="0.7"/>
<path d="M43.7 29.9 C43.9 29.4 45.2 28.8 46.1 28.5 C46.9 28.1 48.1 27.8 48.9 27.7 C49.7 27.5 50.6 27.0 50.8 27.6 C51.0 28.1 50.4 29.9 50.3 31.0 C50.1 32.1 50.1 33.1 49.9 34.1 C49.7 35.1 49.5 36.8 49.1 37.0 C48.7 37.3 48.0 36.3 47.5 35.7 C47.0 35.1 46.6 34.0 46.1 33.3 C45.6 32.6 44.9 32.1 44.5 31.5 C44.1 31.0 43.4 30.4 43.7 29.9Z" fill="none" stroke="#555" stroke-width="0.7"/>
<path d="M45.3 30.0 C45.5 29.6 46.3 29.3 46.9 29.0 C47.5 28.8 48.3 28.6 48.8 28.5 C49.3 28.4 49.9 28.0 50.0 28.4 C50.2 28.8 49.8 29.9 49.7 30.7 C49.6 31.5 49.7 32.3 49.6 33.1 C49.4 33.9 49.3 35.3 49.0 35.5 C48.6 35.7 48.1 34.9 47.7 34.4 C47.3 33.9 47.1 33.0 46.7 32.4 C46.4 31.9 45.9 31.5 45.7 31.1 C45.4 30.7 45.1 30.3 45.3 30.0Z" fill="none" stroke="#555" stroke-width="0.7"/>
<ellipse cx="49.4" cy="31.0" rx="6.7" ry="8.4" fill="url(#rg)" fill-opacity="0.4"/>
<circle cx="48.5" cy="30.1" r="7.2" fill="url(#rw)" fill-opacity="1"/></g></g>
<line x1="30.3" y1="0" x2="30.3" y2="86.8" stroke="#7a7a7a" stroke-width="0.9"/>
<line x1="0" y1="44.6" x2="86.8" y2="44.6" stroke="#7a7a7a" stroke-width="0.9"/>
<rect x="0" y="0" width="86.8" height="86.8" fill="none" stroke="#888" stroke-width="1"/>
<text x="3.6" y="12.2" font-size="13.6" text-anchor="start" fill="#000">1</text>
<text x="85.2" y="12.2" font-size="13.6" text-anchor="end" fill="#000">92</text>
<text x="85.2" y="84.0" font-size="13.6" text-anchor="end" fill="#000">5</text>
</g>
<g transform="translate(312.5,47)">
<g clip-path="url(#boxclip)"><g transform="translate(-0.5,0)"><g filter="url(#st3)">
<path d="M1.7 18.4 C3.3 18.4 7.3 17.6 10.0 18.4 C12.8 19.2 15.9 21.2 18.4 23.4 C20.9 25.7 23.3 29.3 25.1 31.8 C26.9 34.3 28.6 36.0 29.3 38.5 C30.0 41.0 26.9 45.5 29.3 46.8 C31.6 48.2 40.9 45.5 43.5 46.8 C46.1 48.2 44.3 51.3 45.2 55.2 C46.0 59.1 47.7 65.0 48.5 70.3 C49.4 75.6 58.3 84.2 50.2 87.0 C42.1 89.8 8.4 98.4 0.0 87.0 C-8.4 75.6 -0.3 29.8 0.0 18.4 C0.3 7.0 0.0 18.4 1.7 18.4Z" fill="#000" fill-opacity="0.274"/>
<path d="M0.0 21.8 C0.6 10.9 2.8 10.9 3.3 21.8 C3.9 32.6 3.9 76.1 3.3 87.0 C2.8 97.9 0.6 97.9 0.0 87.0 C-0.6 76.1 -0.6 32.6 0.0 21.8Z" fill="#000" fill-opacity="0.432"/>
<path d="M16.7 24.3 C17.8 22.7 21.8 21.1 25.1 19.7 C28.4 18.4 32.3 17.1 36.8 16.2 C41.3 15.4 48.7 14.6 51.9 14.7 C55.0 14.8 55.2 14.6 55.5 16.7 C55.9 18.9 54.5 24.0 53.9 27.6 C53.3 31.2 52.5 36.1 51.9 38.5 C51.3 40.9 51.4 41.0 50.2 41.8 C48.9 42.7 46.3 43.2 44.3 43.5 C42.4 43.8 40.6 44.1 38.5 43.8 C36.4 43.6 33.5 43.0 31.8 41.8 C30.1 40.7 29.8 38.3 28.4 36.8 C27.0 35.3 25.1 33.9 23.4 32.6 C21.8 31.4 19.5 30.7 18.4 29.3 C17.3 27.9 15.6 25.8 16.7 24.3Z" fill="none" stroke="#000" stroke-width="3.0" stroke-opacity="0.3"/>
<path d="M43.8 44.3 C45.0 42.2 48.6 41.7 50.2 42.7 C51.8 43.6 53.1 46.7 53.5 50.2 C54.0 53.7 53.3 59.7 52.7 63.6 C52.1 67.5 51.0 71.7 50.2 73.6 C49.4 75.6 48.5 76.4 47.7 75.3 C46.8 74.2 45.9 70.3 45.2 66.9 C44.5 63.6 43.7 59.0 43.5 55.2 C43.3 51.4 42.7 46.4 43.8 44.3Z" fill="none" stroke="#000" stroke-width="3.0" stroke-opacity="0.3"/>
<path d="M4.7 56.9 C5.6 54.2 7.8 52.5 10.0 51.0 C12.3 49.6 15.8 48.7 18.4 48.2 C21.1 47.6 24.3 46.8 25.9 47.7 C27.6 48.6 28.2 50.9 28.4 53.5 C28.6 56.2 27.9 60.6 27.1 63.6 C26.3 66.6 25.5 69.9 23.8 71.6 C22.0 73.3 19.3 73.7 16.7 74.0 C14.2 74.2 10.4 74.1 8.4 72.9 C6.3 71.8 5.0 69.6 4.4 66.9 C3.7 64.2 3.7 59.5 4.7 56.9Z" fill="none" stroke="#000" stroke-width="3.0" stroke-opacity="0.3"/>
<path d="M33.5 50.2 C34.0 49.8 35.7 51.0 36.0 51.9 C36.3 52.7 35.7 54.8 35.1 55.2 C34.6 55.6 32.9 55.2 32.6 54.4 C32.3 53.5 32.9 50.6 33.5 50.2Z" fill="none" stroke="#000" stroke-width="3.0" stroke-opacity="0.3"/>
<path d="M33.5 60.2 C33.9 60.0 35.2 61.0 35.5 61.6 C35.7 62.1 35.2 63.4 34.8 63.6 C34.4 63.8 33.0 63.3 32.8 62.7 C32.6 62.2 33.0 60.4 33.5 60.2Z" fill="none" stroke="#000" stroke-width="3.0" stroke-opacity="0.3"/>
</g>
<path d="M16.7 24.3 C17.8 22.7 21.8 21.1 25.1 19.7 C28.4 18.4 32.3 17.1 36.8 16.2 C41.3 15.4 48.7 14.6 51.9 14.7 C55.0 14.8 55.2 14.6 55.5 16.7 C55.9 18.9 54.5 24.0 53.9 27.6 C53.3 31.2 52.5 36.1 51.9 38.5 C51.3 40.9 51.4 41.0 50.2 41.8 C48.9 42.7 46.3 43.2 44.3 43.5 C42.4 43.8 40.6 44.1 38.5 43.8 C36.4 43.6 33.5 43.0 31.8 41.8 C30.1 40.7 29.8 38.3 28.4 36.8 C27.0 35.3 25.1 33.9 23.4 32.6 C21.8 31.4 19.5 30.7 18.4 29.3 C17.3 27.9 15.6 25.8 16.7 24.3Z" fill="#fff" stroke="#333" stroke-width="1.0"/>
<path d="M18.7 25.1 C20.7 22.4 31.3 18.7 36.8 17.1 C42.3 15.5 48.9 15.5 51.9 15.6 C54.8 15.6 54.2 15.4 54.4 17.6 C54.5 19.7 53.4 24.7 52.7 28.4 C52.0 32.2 52.0 37.9 50.2 40.2 C48.4 42.4 44.9 42.2 41.8 42.2 C38.8 42.1 34.6 41.3 31.8 39.8 C29.0 38.3 27.3 35.6 25.1 33.1 C22.9 30.7 16.8 27.8 18.7 25.1Z" fill="none" stroke="#555" stroke-width="0.7"/>
<path d="M23.7 25.1 C25.4 22.9 34.0 19.8 38.6 18.5 C43.1 17.2 48.5 17.2 50.9 17.3 C53.3 17.3 52.8 17.2 53.0 18.9 C53.1 20.7 52.2 24.7 51.6 27.9 C51.1 31.0 51.1 35.9 49.6 37.8 C48.1 39.8 45.1 39.6 42.5 39.6 C39.9 39.5 36.4 38.8 34.1 37.5 C31.8 36.2 30.4 33.9 28.7 31.8 C26.9 29.7 22.1 27.3 23.7 25.1Z" fill="none" stroke="#555" stroke-width="0.7"/>
<path d="M28.5 25.1 C29.8 23.3 36.6 20.9 40.2 19.9 C43.8 18.8 48.1 18.8 50.0 18.9 C51.9 19.0 51.5 18.8 51.6 20.2 C51.7 21.6 51.0 24.7 50.6 27.3 C50.2 29.9 50.3 34.0 49.1 35.7 C47.9 37.3 45.3 37.2 43.2 37.2 C41.0 37.1 38.1 36.5 36.2 35.4 C34.3 34.3 33.3 32.3 32.0 30.5 C30.7 28.8 27.1 26.9 28.5 25.1Z" fill="none" stroke="#555" stroke-width="0.7"/>
<path d="M32.8 25.1 C33.9 23.7 39.0 21.9 41.7 21.1 C44.5 20.4 47.7 20.4 49.1 20.4 C50.6 20.4 50.3 20.3 50.4 21.4 C50.5 22.5 50.0 24.8 49.7 26.8 C49.4 28.8 49.6 32.3 48.6 33.6 C47.6 35.0 45.5 35.0 43.8 34.9 C42.1 34.9 39.6 34.3 38.2 33.4 C36.7 32.5 36.0 30.8 35.1 29.4 C34.2 28.0 31.7 26.5 32.8 25.1Z" fill="none" stroke="#555" stroke-width="0.7"/>
<path d="M36.8 25.1 C37.7 24.1 41.2 22.8 43.1 22.3 C45.0 21.7 47.4 21.7 48.4 21.8 C49.4 21.8 49.2 21.7 49.3 22.5 C49.3 23.2 49.0 24.8 48.8 26.3 C48.6 27.9 48.9 30.7 48.2 31.8 C47.4 32.9 45.7 32.9 44.4 32.9 C43.0 32.9 41.1 32.4 40.0 31.6 C38.9 30.9 38.5 29.4 37.9 28.3 C37.4 27.2 35.9 26.1 36.8 25.1Z" fill="none" stroke="#555" stroke-width="0.7"/>
<path d="M40.2 25.1 C40.8 24.4 43.0 23.6 44.3 23.3 C45.6 22.9 47.1 22.9 47.7 22.9 C48.4 22.9 48.2 22.9 48.3 23.4 C48.4 23.9 48.2 24.8 48.1 25.9 C48.0 27.1 48.3 29.4 47.8 30.2 C47.2 31.1 45.9 31.2 44.8 31.2 C43.8 31.2 42.3 30.7 41.5 30.1 C40.8 29.5 40.6 28.2 40.3 27.4 C40.1 26.6 39.5 25.8 40.2 25.1Z" fill="none" stroke="#555" stroke-width="0.7"/>
<path d="M42.5 25.1 C43.0 24.6 44.3 24.2 45.1 23.9 C45.9 23.7 46.9 23.7 47.3 23.7 C47.7 23.7 47.6 23.7 47.7 24.0 C47.7 24.3 47.6 24.8 47.6 25.7 C47.6 26.5 47.9 28.5 47.5 29.2 C47.1 29.9 46.0 30.0 45.2 30.0 C44.3 30.0 43.1 29.6 42.6 29.0 C42.0 28.5 42.0 27.5 42.0 26.8 C42.0 26.1 42.0 25.6 42.5 25.1Z" fill="none" stroke="#555" stroke-width="0.7"/>
<ellipse cx="46.8" cy="25.1" rx="9.2" ry="8.0" fill="url(#rg)" fill-opacity="0.55"/>
<circle cx="46.5" cy="25.1" r="7.2" fill="url(#rw)" fill-opacity="1"/>
<path d="M43.8 44.3 C45.0 42.2 48.6 41.7 50.2 42.7 C51.8 43.6 53.1 46.7 53.5 50.2 C54.0 53.7 53.3 59.7 52.7 63.6 C52.1 67.5 51.0 71.7 50.2 73.6 C49.4 75.6 48.5 76.4 47.7 75.3 C46.8 74.2 45.9 70.3 45.2 66.9 C44.5 63.6 43.7 59.0 43.5 55.2 C43.3 51.4 42.7 46.4 43.8 44.3Z" fill="#fff" stroke="#333" stroke-width="1.0"/>
<path d="M44.8 46.8 C45.5 43.6 49.0 43.2 50.2 44.3 C51.4 45.5 52.1 49.8 52.2 53.5 C52.3 57.3 51.6 63.9 51.0 66.9 C50.5 70.0 49.6 72.5 48.9 71.9 C48.1 71.4 47.2 67.8 46.5 63.6 C45.8 59.4 44.2 50.1 44.8 46.8Z" fill="none" stroke="#555" stroke-width="0.7"/>
<path d="M46.3 50.1 C46.6 48.1 48.8 47.9 49.5 48.6 C50.3 49.2 50.7 51.9 50.8 54.2 C50.9 56.5 50.4 60.5 50.1 62.4 C49.7 64.3 49.2 65.8 48.7 65.4 C48.3 65.1 47.7 62.9 47.3 60.3 C46.9 57.8 45.9 52.1 46.3 50.1Z" fill="none" stroke="#555" stroke-width="0.7"/>
<path d="M47.4 52.7 C47.6 51.7 48.7 51.6 49.0 51.9 C49.4 52.3 49.6 53.6 49.6 54.7 C49.7 55.8 49.4 57.8 49.3 58.7 C49.1 59.6 48.8 60.4 48.6 60.2 C48.4 60.1 48.1 59.0 47.9 57.7 C47.7 56.5 47.2 53.7 47.4 52.7Z" fill="none" stroke="#555" stroke-width="0.7"/>
<path d="M4.7 56.9 C5.6 54.2 7.8 52.5 10.0 51.0 C12.3 49.6 15.8 48.7 18.4 48.2 C21.1 47.6 24.3 46.8 25.9 47.7 C27.6 48.6 28.2 50.9 28.4 53.5 C28.6 56.2 27.9 60.6 27.1 63.6 C26.3 66.6 25.5 69.9 23.8 71.6 C22.0 73.3 19.3 73.7 16.7 74.0 C14.2 74.2 10.4 74.1 8.4 72.9 C6.3 71.8 5.0 69.6 4.4 66.9 C3.7 64.2 3.7 59.5 4.7 56.9Z" fill="#fff" stroke="#333" stroke-width="1.0"/>
<path d="M7.0 57.7 C7.9 55.4 9.8 53.8 11.7 52.5 C13.7 51.2 16.5 50.3 18.7 49.9 C21.0 49.4 23.8 48.9 25.1 49.7 C26.4 50.5 26.7 52.5 26.8 54.9 C26.8 57.2 26.2 61.4 25.4 63.9 C24.7 66.4 23.6 68.7 22.1 69.9 C20.5 71.2 18.2 71.5 16.1 71.6 C13.9 71.7 10.9 71.5 9.4 70.6 C7.8 69.7 7.1 68.4 6.7 66.3 C6.3 64.1 6.2 60.0 7.0 57.7Z" fill="none" stroke="#555" stroke-width="0.7"/>
<path d="M10.7 58.4 C11.3 56.8 12.6 55.7 13.9 54.8 C15.3 54.0 17.2 53.3 18.7 53.0 C20.3 52.7 22.2 52.3 23.1 52.9 C24.0 53.5 24.2 54.8 24.2 56.5 C24.3 58.1 23.9 60.9 23.3 62.6 C22.8 64.4 22.1 65.9 21.0 66.8 C20.0 67.7 18.4 67.8 16.9 67.9 C15.5 68.0 13.4 67.8 12.3 67.2 C11.2 66.6 10.7 65.7 10.5 64.3 C10.2 62.8 10.1 60.0 10.7 58.4Z" fill="none" stroke="#555" stroke-width="0.7"/>
<path d="M13.7 59.0 C14.0 58.0 14.8 57.3 15.7 56.7 C16.5 56.1 17.8 55.8 18.7 55.5 C19.7 55.3 20.9 55.1 21.5 55.5 C22.1 55.8 22.2 56.7 22.2 57.7 C22.2 58.7 22.0 60.5 21.6 61.6 C21.3 62.7 20.9 63.7 20.2 64.2 C19.5 64.8 18.5 64.9 17.6 65.0 C16.7 65.0 15.4 64.9 14.7 64.5 C14.0 64.1 13.7 63.6 13.5 62.7 C13.4 61.7 13.3 59.9 13.7 59.0Z" fill="none" stroke="#555" stroke-width="0.7"/>
<path d="M16.4 59.5 C16.6 59.0 16.9 58.7 17.3 58.4 C17.7 58.2 18.3 58.0 18.7 57.9 C19.2 57.8 19.7 57.7 20.0 57.9 C20.3 58.0 20.3 58.4 20.3 58.9 C20.4 59.4 20.2 60.2 20.1 60.7 C19.9 61.2 19.7 61.6 19.4 61.9 C19.1 62.2 18.6 62.2 18.2 62.2 C17.8 62.3 17.2 62.2 16.9 62.0 C16.6 61.9 16.4 61.6 16.3 61.2 C16.3 60.7 16.2 59.9 16.4 59.5Z" fill="none" stroke="#555" stroke-width="0.7"/>
<path d="M33.5 50.2 C34.0 49.8 35.7 51.0 36.0 51.9 C36.3 52.7 35.7 54.8 35.1 55.2 C34.6 55.6 32.9 55.2 32.6 54.4 C32.3 53.5 32.9 50.6 33.5 50.2Z" fill="#fff" stroke="#333" stroke-width="1.0"/>
<path d="M33.5 60.2 C33.9 60.0 35.2 61.0 35.5 61.6 C35.7 62.1 35.2 63.4 34.8 63.6 C34.4 63.8 33.0 63.3 32.8 62.7 C32.6 62.2 33.0 60.4 33.5 60.2Z" fill="#fff" stroke="#333" stroke-width="1.0"/></g></g>
<line x1="28.5" y1="0" x2="28.5" y2="86.8" stroke="#7a7a7a" stroke-width="0.9"/>
<line x1="0" y1="44.6" x2="86.8" y2="44.6" stroke="#7a7a7a" stroke-width="0.9"/>
<rect x="0" y="0" width="86.8" height="86.8" fill="none" stroke="#888" stroke-width="1"/>
<text x="3.6" y="12.2" font-size="13.6" text-anchor="start" fill="#000">3</text>
<text x="85.2" y="12.2" font-size="13.6" text-anchor="end" fill="#000">83</text>
<text x="85.2" y="84.0" font-size="13.6" text-anchor="end" fill="#000">5</text>
</g>
<g transform="translate(405,47)">
<g clip-path="url(#boxclip)"><g transform="translate(0,0)"><g filter="url(#st0)">
<path d="M0.0 20.9 C2.2 9.7 9.5 20.1 13.4 19.7 C17.3 19.4 20.1 19.0 23.4 18.7 C26.8 18.5 34.0 17.0 33.5 18.1 C32.9 19.1 22.6 22.0 20.1 25.1 C17.6 28.2 18.1 33.7 18.4 36.8 C18.7 39.9 22.3 41.5 21.8 43.5 C21.2 45.5 17.6 46.8 15.1 48.5 C12.5 50.2 8.5 51.0 6.7 53.5 C4.9 56.0 4.2 60.8 4.2 63.6 C4.2 66.4 3.5 69.3 6.7 70.3 C9.9 71.2 19.5 71.7 23.4 69.4 C27.3 67.2 28.2 59.6 30.1 56.9 C32.1 54.2 33.3 53.5 35.1 53.2 C36.9 52.9 39.6 52.9 41.0 55.2 C42.4 57.5 42.4 63.3 43.5 66.9 C44.6 70.5 46.6 73.6 47.7 77.0 C48.8 80.3 58.1 85.3 50.2 87.0 C42.2 88.7 8.4 98.0 0.0 87.0 C-8.4 76.0 -2.2 32.1 0.0 20.9Z" fill="#000" fill-opacity="0.432"/>
<path d="M0.0 23.4 C2.5 18.4 12.0 22.9 15.1 25.1 C18.1 27.3 17.4 33.7 18.4 36.8 C19.4 39.9 22.3 41.3 20.9 43.5 C19.5 45.7 13.0 48.2 10.0 50.2 C7.1 52.1 5.0 54.4 3.3 55.2 C1.7 56.0 0.6 60.5 0.0 55.2 C-0.6 49.9 -2.5 28.4 0.0 23.4Z" fill="#000" fill-opacity="0.590"/>
<path d="M0.0 22.6 C0.6 11.9 2.8 11.9 3.3 22.6 C3.9 33.3 3.9 76.3 3.3 87.0 C2.8 97.7 0.6 97.7 0.0 87.0 C-0.6 76.3 -0.6 33.3 0.0 22.6Z" fill="#000" fill-opacity="0.605"/>
<path d="M29.3 55.2 C30.5 52.6 33.2 53.2 35.1 53.2 C37.1 53.2 39.5 52.4 41.0 55.2 C42.4 58.1 45.1 67.2 43.8 70.3 C42.6 73.3 36.2 73.9 33.5 73.6 C30.8 73.3 28.3 71.7 27.6 68.6 C26.9 65.5 28.0 57.8 29.3 55.2Z" fill="#000" fill-opacity="0.576"/>
<path d="M49.4 41.8 C50.1 36.0 52.8 36.0 53.5 41.8 C54.2 47.7 54.2 71.1 53.5 77.0 C52.8 82.8 50.1 82.8 49.4 77.0 C48.7 71.1 48.7 47.7 49.4 41.8Z" fill="#000" fill-opacity="0.086"/>
<path d="M14.2 25.1 C15.9 23.4 21.3 21.5 25.1 20.1 C28.9 18.7 32.6 17.6 36.8 16.7 C41.0 15.8 47.1 14.9 50.2 14.7 C53.3 14.6 54.7 14.2 55.2 15.9 C55.8 17.6 54.2 21.9 53.5 25.1 C52.8 28.3 51.7 32.1 51.0 35.1 C50.3 38.2 49.8 40.2 49.4 43.5 C48.9 46.8 48.7 51.3 48.5 55.2 C48.4 59.1 48.7 63.3 48.5 66.9 C48.4 70.5 48.2 76.1 47.7 77.0 C47.1 77.8 46.0 74.2 45.2 71.9 C44.3 69.7 43.4 66.4 42.7 63.6 C42.0 60.8 41.7 57.0 41.0 55.2 C40.3 53.4 39.7 53.0 38.5 52.7 C37.2 52.4 34.9 52.5 33.5 53.2 C32.1 53.9 31.1 55.2 30.1 56.9 C29.1 58.6 28.7 61.5 27.6 63.6 C26.5 65.7 25.5 68.3 23.4 69.4 C21.3 70.5 17.8 70.3 15.1 70.3 C12.3 70.3 8.5 70.5 6.7 69.4 C4.9 68.3 4.5 65.9 4.2 63.6 C3.9 61.2 4.0 57.3 5.0 55.2 C6.0 53.1 8.1 52.3 10.0 51.0 C12.0 49.8 14.8 49.1 16.7 47.7 C18.7 46.3 21.5 44.6 21.8 42.7 C22.0 40.7 19.5 38.1 18.4 36.0 C17.3 33.9 15.8 31.9 15.1 30.1 C14.4 28.3 12.5 26.8 14.2 25.1Z" fill="none" stroke="#000" stroke-width="3.0" stroke-opacity="0.3"/>
</g>
<path d="M14.2 25.1 C15.9 23.4 21.3 21.5 25.1 20.1 C28.9 18.7 32.6 17.6 36.8 16.7 C41.0 15.8 47.1 14.9 50.2 14.7 C53.3 14.6 54.7 14.2 55.2 15.9 C55.8 17.6 54.2 21.9 53.5 25.1 C52.8 28.3 51.7 32.1 51.0 35.1 C50.3 38.2 49.8 40.2 49.4 43.5 C48.9 46.8 48.7 51.3 48.5 55.2 C48.4 59.1 48.7 63.3 48.5 66.9 C48.4 70.5 48.2 76.1 47.7 77.0 C47.1 77.8 46.0 74.2 45.2 71.9 C44.3 69.7 43.4 66.4 42.7 63.6 C42.0 60.8 41.7 57.0 41.0 55.2 C40.3 53.4 39.7 53.0 38.5 52.7 C37.2 52.4 34.9 52.5 33.5 53.2 C32.1 53.9 31.1 55.2 30.1 56.9 C29.1 58.6 28.7 61.5 27.6 63.6 C26.5 65.7 25.5 68.3 23.4 69.4 C21.3 70.5 17.8 70.3 15.1 70.3 C12.3 70.3 8.5 70.5 6.7 69.4 C4.9 68.3 4.5 65.9 4.2 63.6 C3.9 61.2 4.0 57.3 5.0 55.2 C6.0 53.1 8.1 52.3 10.0 51.0 C12.0 49.8 14.8 49.1 16.7 47.7 C18.7 46.3 21.5 44.6 21.8 42.7 C22.0 40.7 19.5 38.1 18.4 36.0 C17.3 33.9 15.8 31.9 15.1 30.1 C14.4 28.3 12.5 26.8 14.2 25.1Z" fill="#fff" stroke="#333" stroke-width="1.0"/>
<path d="M16.4 25.4 C18.3 22.9 27.8 20.1 33.5 18.4 C39.1 16.7 46.8 15.7 50.2 15.4 C53.6 15.1 53.6 14.6 53.9 16.7 C54.2 18.9 52.6 24.5 51.9 28.4 C51.1 32.3 50.1 36.8 49.4 40.2 C48.7 43.5 48.9 47.5 47.7 48.5 C46.4 49.5 44.2 46.7 41.8 46.0 C39.5 45.3 36.0 45.6 33.5 44.3 C31.0 43.1 28.7 40.3 26.8 38.5 C24.8 36.7 23.5 35.6 21.8 33.5 C20.0 31.3 14.4 27.9 16.4 25.4Z" fill="none" stroke="#555" stroke-width="0.7"/>
<path d="M21.5 25.4 C23.2 23.3 30.9 21.0 35.5 19.6 C40.1 18.2 46.4 17.4 49.2 17.1 C52.0 16.9 52.0 16.5 52.2 18.2 C52.5 20.0 51.2 24.6 50.6 27.9 C50.0 31.1 49.2 34.9 48.7 37.8 C48.1 40.7 48.3 44.4 47.3 45.2 C46.2 46.1 44.3 43.6 42.3 43.0 C40.2 42.4 37.2 42.6 35.1 41.5 C33.0 40.4 31.2 37.9 29.6 36.4 C28.0 34.8 26.9 33.9 25.6 32.1 C24.2 30.2 19.9 27.4 21.5 25.4Z" fill="none" stroke="#555" stroke-width="0.7"/>
<path d="M26.3 25.3 C27.7 23.6 33.8 21.8 37.4 20.7 C41.1 19.7 46.1 19.0 48.3 18.8 C50.5 18.6 50.5 18.2 50.7 19.7 C50.9 21.1 49.9 24.6 49.5 27.3 C49.0 30.0 48.4 33.2 48.0 35.6 C47.6 38.1 47.8 41.4 46.9 42.1 C46.0 42.9 44.4 40.7 42.7 40.1 C41.0 39.6 38.4 39.8 36.7 38.8 C35.0 37.9 33.5 35.7 32.3 34.4 C31.0 33.0 30.2 32.3 29.2 30.8 C28.2 29.3 25.0 27.0 26.3 25.3Z" fill="none" stroke="#555" stroke-width="0.7"/>
<path d="M30.8 25.3 C31.9 24.0 36.5 22.6 39.2 21.8 C42.0 21.0 45.8 20.5 47.5 20.3 C49.1 20.2 49.1 19.9 49.3 21.0 C49.4 22.1 48.7 24.7 48.4 26.8 C48.1 28.9 47.7 31.5 47.4 33.6 C47.1 35.7 47.3 38.6 46.6 39.3 C45.8 39.9 44.4 38.0 43.1 37.5 C41.7 37.0 39.6 37.2 38.2 36.4 C36.8 35.5 35.7 33.7 34.8 32.5 C33.8 31.4 33.2 30.8 32.5 29.6 C31.9 28.3 29.7 26.6 30.8 25.3Z" fill="none" stroke="#555" stroke-width="0.7"/>
<path d="M34.8 25.2 C35.7 24.3 38.9 23.3 40.9 22.8 C42.8 22.2 45.5 21.8 46.7 21.7 C47.9 21.6 47.9 21.4 48.0 22.2 C48.1 22.9 47.6 24.7 47.4 26.3 C47.2 27.9 47.0 30.0 46.8 31.8 C46.6 33.5 46.8 36.1 46.2 36.7 C45.7 37.2 44.5 35.5 43.4 35.1 C42.3 34.7 40.6 34.8 39.5 34.1 C38.4 33.4 37.7 31.8 37.0 30.9 C36.4 29.9 35.9 29.4 35.6 28.5 C35.2 27.5 33.9 26.2 34.8 25.2Z" fill="none" stroke="#555" stroke-width="0.7"/>
<path d="M38.3 25.2 C39.0 24.5 40.9 24.0 42.2 23.6 C43.5 23.2 45.3 22.9 46.1 22.9 C46.8 22.8 46.8 22.7 46.9 23.2 C47.0 23.7 46.7 24.8 46.6 25.9 C46.5 27.1 46.5 28.8 46.4 30.2 C46.3 31.6 46.4 34.0 46.0 34.5 C45.5 34.9 44.6 33.4 43.7 33.1 C42.8 32.7 41.4 32.8 40.6 32.2 C39.8 31.6 39.4 30.2 38.9 29.5 C38.5 28.7 38.3 28.2 38.2 27.5 C38.0 26.8 37.6 25.8 38.3 25.2Z" fill="none" stroke="#555" stroke-width="0.7"/>
<path d="M40.6 25.1 C41.2 24.7 42.4 24.4 43.2 24.1 C44.0 23.9 45.1 23.7 45.6 23.7 C46.1 23.6 46.1 23.6 46.1 23.9 C46.2 24.2 46.1 24.8 46.0 25.7 C46.0 26.5 46.1 27.9 46.0 29.1 C46.0 30.3 46.2 32.5 45.8 32.9 C45.4 33.4 44.6 32.0 43.9 31.7 C43.2 31.3 42.0 31.4 41.4 30.9 C40.8 30.4 40.5 29.2 40.3 28.5 C40.0 27.8 39.9 27.4 39.9 26.9 C40.0 26.3 40.1 25.6 40.6 25.1Z" fill="none" stroke="#555" stroke-width="0.7"/>
<path d="M6.4 60.2 C6.9 57.6 10.8 54.9 13.4 53.2 C16.0 51.5 19.5 50.2 21.8 50.2 C24.0 50.2 26.5 50.9 27.1 53.2 C27.7 55.5 26.6 61.4 25.4 63.9 C24.3 66.4 22.6 67.4 20.1 68.3 C17.5 69.1 12.3 70.3 10.0 68.9 C7.8 67.6 5.8 62.9 6.4 60.2Z" fill="none" stroke="#555" stroke-width="0.7"/>
<path d="M10.7 60.4 C11.1 58.8 13.4 57.1 15.0 56.1 C16.6 55.0 18.7 54.2 20.1 54.2 C21.5 54.2 23.0 54.7 23.4 56.1 C23.8 57.5 23.1 61.1 22.4 62.6 C21.7 64.1 20.7 64.8 19.1 65.3 C17.5 65.8 14.4 66.5 13.0 65.7 C11.6 64.9 10.4 62.0 10.7 60.4Z" fill="none" stroke="#555" stroke-width="0.7"/>
<path d="M14.2 60.5 C14.4 59.7 15.5 58.9 16.3 58.4 C17.1 57.9 18.1 57.5 18.8 57.5 C19.5 57.5 20.2 57.7 20.4 58.4 C20.6 59.0 20.3 60.8 19.9 61.6 C19.6 62.3 19.1 62.6 18.3 62.9 C17.6 63.1 16.0 63.5 15.3 63.1 C14.6 62.7 14.0 61.3 14.2 60.5Z" fill="none" stroke="#555" stroke-width="0.7"/>
<path d="M44.3 50.2 C45.0 47.7 48.5 45.7 49.4 48.5 C50.2 51.3 49.6 62.7 49.4 66.9 C49.1 71.1 48.4 74.2 47.7 73.6 C47.0 73.1 45.7 67.5 45.2 63.6 C44.6 59.7 43.6 52.7 44.3 50.2Z" fill="none" stroke="#555" stroke-width="0.7"/>
<path d="M46.1 54.2 C46.4 53.2 47.8 52.4 48.2 53.5 C48.5 54.7 48.3 59.2 48.2 60.9 C48.0 62.6 47.8 63.8 47.5 63.6 C47.2 63.4 46.7 61.1 46.5 59.6 C46.3 58.0 45.9 55.2 46.1 54.2Z" fill="none" stroke="#555" stroke-width="0.7"/>
<ellipse cx="46.0" cy="25.9" rx="7.5" ry="7.5" fill="url(#rg)" fill-opacity="0.4"/>
<circle cx="44.8" cy="25.1" r="7.2" fill="url(#rw)" fill-opacity="1"/></g></g>
<line x1="27.6" y1="0" x2="27.6" y2="86.8" stroke="#7a7a7a" stroke-width="0.9"/>
<line x1="0" y1="44.6" x2="86.8" y2="44.6" stroke="#7a7a7a" stroke-width="0.9"/>
<rect x="0" y="0" width="86.8" height="86.8" fill="none" stroke="#888" stroke-width="1"/>
<text x="3.6" y="12.2" font-size="13.6" text-anchor="start" fill="#000">5</text>
<text x="85.2" y="12.2" font-size="13.6" text-anchor="end" fill="#000">81</text>
<text x="85.2" y="84.0" font-size="13.6" text-anchor="end" fill="#000">5</text>
</g>
<g transform="translate(35.9,141.3)">
<g clip-path="url(#boxclip)"><g transform="translate(0.1,0)"><g filter="url(#st0)">
<path d="M0.0 19.2 C2.2 7.9 8.9 18.6 13.4 18.7 C17.8 18.9 25.0 19.0 26.8 20.1 C28.6 21.1 24.8 23.3 24.3 25.1 C23.7 26.9 23.3 29.0 23.4 31.0 C23.6 32.9 24.7 34.7 25.1 36.8 C25.5 38.9 26.2 41.5 25.9 43.5 C25.7 45.5 24.4 46.8 23.4 48.5 C22.4 50.2 20.2 51.9 20.1 53.5 C19.9 55.2 21.5 57.0 22.6 58.6 C23.7 60.1 25.8 61.9 26.8 62.7 C27.7 63.6 27.5 64.0 28.4 63.6 C29.4 63.2 31.4 61.2 32.6 60.2 C33.9 59.3 34.7 57.7 36.0 57.7 C37.2 57.7 38.9 59.3 40.2 60.2 C41.4 61.2 42.2 62.7 43.5 63.6 C44.8 64.4 46.6 63.9 47.7 65.3 C48.8 66.6 49.8 68.3 50.2 71.9 C50.6 75.6 58.6 84.5 50.2 87.0 C41.8 89.5 8.4 98.3 0.0 87.0 C-8.4 75.7 -2.2 30.6 0.0 19.2Z" fill="#000" fill-opacity="0.216"/>
<path d="M3.3 38.5 C7.0 32.9 21.8 38.2 25.1 40.2 C28.4 42.1 24.1 47.7 23.4 50.2 C22.7 52.7 20.9 53.0 20.9 55.2 C20.9 57.4 22.4 61.9 23.4 63.6 C24.4 65.3 27.0 63.6 26.8 65.3 C26.5 66.9 25.7 72.2 21.8 73.6 C17.8 75.0 6.4 79.5 3.3 73.6 C0.3 67.8 -0.3 44.1 3.3 38.5Z" fill="#000" fill-opacity="0.432"/>
<path d="M0.0 70.3 C8.4 67.5 41.8 67.5 50.2 70.3 C58.6 73.1 58.6 84.2 50.2 87.0 C41.8 89.8 8.4 89.8 0.0 87.0 C-8.4 84.2 -8.4 73.1 0.0 70.3Z" fill="#000" fill-opacity="0.302"/>
<path d="M0.0 23.4 C0.4 12.8 2.1 12.8 2.5 23.4 C2.9 34.0 2.9 76.4 2.5 87.0 C2.1 97.6 0.4 97.6 0.0 87.0 C-0.4 76.4 -0.4 34.0 0.0 23.4Z" fill="#000" fill-opacity="0.360"/>
<path d="M26.8 20.9 C28.9 19.5 32.9 17.8 36.8 16.7 C40.7 15.7 46.8 14.7 50.2 14.7 C53.5 14.7 56.3 15.0 56.9 16.7 C57.4 18.5 54.5 21.8 53.5 25.1 C52.6 28.4 51.6 32.9 51.0 36.8 C50.5 40.7 50.5 44.9 50.2 48.5 C49.9 52.1 49.8 55.8 49.4 58.6 C48.9 61.3 48.7 64.4 47.7 65.3 C46.7 66.1 44.8 64.4 43.5 63.6 C42.2 62.7 41.4 61.2 40.2 60.2 C38.9 59.3 37.2 57.7 36.0 57.7 C34.7 57.7 33.9 59.3 32.6 60.2 C31.4 61.2 29.4 63.2 28.4 63.6 C27.5 64.0 27.7 63.6 26.8 62.7 C25.8 61.9 23.7 60.1 22.6 58.6 C21.5 57.0 19.9 55.2 20.1 53.5 C20.2 51.9 22.4 50.2 23.4 48.5 C24.4 46.8 25.7 45.5 25.9 43.5 C26.2 41.5 25.5 38.9 25.1 36.8 C24.7 34.7 23.6 32.9 23.4 31.0 C23.3 29.0 23.7 26.8 24.3 25.1 C24.8 23.4 24.7 22.3 26.8 20.9Z" fill="none" stroke="#000" stroke-width="3.0" stroke-opacity="0.3"/>
</g>
<path d="M26.8 20.9 C28.9 19.5 32.9 17.8 36.8 16.7 C40.7 15.7 46.8 14.7 50.2 14.7 C53.5 14.7 56.3 15.0 56.9 16.7 C57.4 18.5 54.5 21.8 53.5 25.1 C52.6 28.4 51.6 32.9 51.0 36.8 C50.5 40.7 50.5 44.9 50.2 48.5 C49.9 52.1 49.8 55.8 49.4 58.6 C48.9 61.3 48.7 64.4 47.7 65.3 C46.7 66.1 44.8 64.4 43.5 63.6 C42.2 62.7 41.4 61.2 40.2 60.2 C38.9 59.3 37.2 57.7 36.0 57.7 C34.7 57.7 33.9 59.3 32.6 60.2 C31.4 61.2 29.4 63.2 28.4 63.6 C27.5 64.0 27.7 63.6 26.8 62.7 C25.8 61.9 23.7 60.1 22.6 58.6 C21.5 57.0 19.9 55.2 20.1 53.5 C20.2 51.9 22.4 50.2 23.4 48.5 C24.4 46.8 25.7 45.5 25.9 43.5 C26.2 41.5 25.5 38.9 25.1 36.8 C24.7 34.7 23.6 32.9 23.4 31.0 C23.3 29.0 23.7 26.8 24.3 25.1 C24.8 23.4 24.7 22.3 26.8 20.9Z" fill="#fff" stroke="#333" stroke-width="1.0"/>
<path d="M29.3 23.4 C30.4 21.1 35.6 19.9 39.3 18.7 C43.1 17.5 49.2 16.3 51.9 16.2 C54.5 16.2 55.1 16.4 55.2 18.4 C55.4 20.4 53.5 24.8 52.7 28.4 C51.9 32.1 50.8 36.5 50.2 40.2 C49.6 43.8 49.4 49.1 48.9 50.2 C48.3 51.3 47.9 48.2 46.8 46.8 C45.8 45.5 44.2 43.4 42.7 41.8 C41.1 40.3 39.3 39.2 37.6 37.6 C36.0 36.1 34.0 35.0 32.6 32.6 C31.2 30.3 28.2 25.7 29.3 23.4Z" fill="none" stroke="#555" stroke-width="0.7"/>
<path d="M33.5 24.2 C34.4 22.4 38.2 21.6 41.0 20.7 C43.8 19.8 48.4 18.8 50.4 18.8 C52.4 18.8 52.8 18.9 52.9 20.4 C53.0 22.0 51.7 25.2 51.0 27.9 C50.4 30.7 49.7 34.2 49.3 37.2 C48.8 40.1 48.7 44.7 48.3 45.6 C47.9 46.5 47.5 43.9 46.7 42.7 C45.9 41.6 44.6 39.8 43.4 38.5 C42.2 37.3 40.8 36.4 39.5 35.1 C38.3 33.9 36.8 33.0 35.8 31.2 C34.8 29.3 32.6 25.9 33.5 24.2Z" fill="none" stroke="#555" stroke-width="0.7"/>
<path d="M37.3 24.9 C37.9 23.6 40.6 23.1 42.5 22.4 C44.5 21.8 47.7 21.2 49.1 21.1 C50.4 21.1 50.7 21.2 50.8 22.3 C50.9 23.3 49.9 25.5 49.6 27.5 C49.2 29.5 48.8 32.1 48.5 34.5 C48.2 36.8 48.1 40.7 47.8 41.5 C47.5 42.2 47.2 40.0 46.5 39.0 C45.9 38.1 44.9 36.6 44.0 35.6 C43.1 34.5 42.1 33.8 41.2 32.9 C40.3 31.9 39.3 31.2 38.7 29.8 C38.0 28.5 36.7 26.1 37.3 24.9Z" fill="none" stroke="#555" stroke-width="0.7"/>
<path d="M40.6 25.5 C41.0 24.7 42.6 24.3 43.8 23.9 C45.1 23.5 47.1 23.1 47.9 23.1 C48.8 23.1 48.9 23.2 49.0 23.8 C49.1 24.5 48.5 25.7 48.3 27.1 C48.1 28.5 47.9 30.4 47.8 32.2 C47.6 34.0 47.6 37.3 47.4 37.9 C47.2 38.6 46.9 36.7 46.4 35.9 C45.9 35.0 45.2 33.9 44.6 33.0 C44.0 32.2 43.2 31.6 42.7 30.9 C42.1 30.2 41.4 29.6 41.1 28.7 C40.7 27.8 40.1 26.3 40.6 25.5Z" fill="none" stroke="#555" stroke-width="0.7"/>
<path d="M42.8 25.9 C43.1 25.4 44.0 25.2 44.7 25.0 C45.4 24.7 46.6 24.5 47.1 24.5 C47.6 24.5 47.7 24.5 47.8 24.9 C47.8 25.3 47.5 25.9 47.4 26.9 C47.3 27.8 47.3 29.1 47.3 30.6 C47.2 32.0 47.3 35.0 47.1 35.5 C46.9 36.0 46.7 34.4 46.3 33.7 C45.9 33.0 45.4 32.0 45.0 31.3 C44.5 30.6 44.0 30.2 43.6 29.6 C43.3 29.0 42.9 28.6 42.8 27.9 C42.6 27.3 42.5 26.4 42.8 25.9Z" fill="none" stroke="#555" stroke-width="0.7"/>
<path d="M27.6 23.4 C27.7 25.1 27.7 30.4 28.4 33.5 C29.1 36.5 30.4 39.3 31.8 41.8 C33.2 44.3 35.1 46.3 36.8 48.5 C38.5 50.8 40.3 53.1 41.8 55.2 C43.4 57.3 45.0 60.0 46.0 61.1 C47.0 62.2 47.2 63.2 47.7 61.9 C48.2 60.6 48.5 56.6 48.9 53.5 C49.2 50.5 49.5 46.8 49.9 43.5 C50.2 40.2 51.0 35.1 51.2 33.5" fill="none" stroke="#555" stroke-width="0.7"/>
<path d="M33.5 33.5 C34.2 34.9 36.1 39.3 37.6 41.8 C39.2 44.3 41.3 46.3 42.7 48.5 C44.1 50.8 45.2 53.8 46.0 55.2 C46.8 56.6 47.3 57.7 47.7 56.9 C48.1 56.0 48.2 52.7 48.5 50.2 C48.8 47.7 49.2 43.2 49.4 41.8" fill="none" stroke="#666" stroke-width="0.7"/>
<ellipse cx="46.0" cy="26.4" rx="8.4" ry="7.5" fill="url(#rg)" fill-opacity="0.55"/>
<circle cx="46.0" cy="26.3" r="7.7" fill="url(#rw)" fill-opacity="1"/></g></g>
<line x1="27.4" y1="0" x2="27.4" y2="86.8" stroke="#7a7a7a" stroke-width="0.9"/>
<line x1="0" y1="44.6" x2="86.8" y2="44.6" stroke="#7a7a7a" stroke-width="0.9"/>
<rect x="0" y="0" width="86.8" height="86.8" fill="none" stroke="#888" stroke-width="1"/>
<text x="3.6" y="12.2" font-size="13.6" text-anchor="start" fill="#000">2</text>
<text x="85.2" y="12.2" font-size="13.6" text-anchor="end" fill="#000">89</text>
<text x="85.2" y="84.0" font-size="13.6" text-anchor="end" fill="#000">6</text>
</g>
<g transform="translate(128,141.3)">
<g clip-path="url(#boxclip)"><g transform="translate(0,-0.3)"><g filter="url(#st1)">
<path d="M0.0 25.1 C2.2 14.5 8.8 23.6 13.4 23.4 C18.0 23.2 25.4 22.6 27.6 23.8 C29.8 24.9 26.6 27.9 26.4 30.1 C26.3 32.3 26.7 34.6 26.8 36.8 C26.8 39.0 27.0 41.3 26.8 43.5 C26.5 45.7 26.2 48.0 25.1 50.2 C24.0 52.4 21.6 54.7 20.1 56.9 C18.5 59.1 16.2 62.0 15.9 63.6 C15.6 65.1 16.9 65.7 18.4 66.1 C19.9 66.5 23.1 66.6 25.1 66.1 C27.0 65.5 28.7 64.1 30.1 62.7 C31.5 61.3 32.2 58.7 33.5 57.7 C34.7 56.7 36.3 56.5 37.6 56.9 C39.0 57.3 40.6 58.8 41.8 60.2 C43.1 61.6 44.1 63.7 45.2 65.3 C46.3 66.8 47.4 68.0 48.5 69.4 C49.6 70.8 51.0 70.7 51.9 73.6 C52.7 76.5 62.2 84.8 53.5 87.0 C44.9 89.2 8.9 97.3 0.0 87.0 C-8.9 76.7 -2.2 35.7 0.0 25.1Z" fill="#000" fill-opacity="0.288"/>
<path d="M5.0 38.5 C8.6 33.5 23.3 34.9 26.8 36.8 C30.3 38.8 27.3 46.3 25.9 50.2 C24.5 54.1 21.1 57.4 18.4 60.2 C15.8 63.0 12.3 65.8 10.0 66.9 C7.8 68.0 5.9 71.7 5.0 66.9 C4.2 62.2 1.4 43.5 5.0 38.5Z" fill="#000" fill-opacity="0.432"/>
<path d="M26.8 63.6 C28.2 58.8 31.2 59.1 33.5 58.6 C35.7 58.0 37.9 58.6 40.2 60.2 C42.4 61.9 45.2 66.1 46.8 68.6 C48.5 71.1 49.6 72.2 50.2 75.3 C50.8 78.4 54.4 85.0 50.2 87.0 C46.0 89.0 29.0 90.9 25.1 87.0 C21.2 83.1 25.4 68.3 26.8 63.6Z" fill="#000" fill-opacity="0.360"/>
<path d="M0.0 23.4 C0.4 12.8 2.1 12.8 2.5 23.4 C2.9 34.0 2.9 76.4 2.5 87.0 C2.1 97.6 0.4 97.6 0.0 87.0 C-0.4 76.4 -0.4 34.0 0.0 23.4Z" fill="#000" fill-opacity="0.396"/>
<path d="M27.6 25.1 C29.3 23.4 33.6 21.2 36.8 20.1 C40.0 18.9 43.4 18.3 46.8 18.1 C50.3 17.8 56.2 17.0 57.7 18.4 C59.3 19.9 56.7 23.7 56.0 26.8 C55.4 29.8 54.2 33.5 53.5 36.8 C52.8 40.2 52.3 43.5 51.9 46.8 C51.4 50.2 51.3 53.5 51.0 56.9 C50.8 60.2 50.6 64.8 50.2 66.9 C49.8 69.0 49.4 69.7 48.5 69.4 C47.7 69.2 46.3 66.8 45.2 65.3 C44.1 63.7 43.1 61.6 41.8 60.2 C40.6 58.8 39.0 57.3 37.6 56.9 C36.3 56.5 34.7 56.7 33.5 57.7 C32.2 58.7 31.5 61.3 30.1 62.7 C28.7 64.1 27.0 65.5 25.1 66.1 C23.1 66.6 19.9 66.5 18.4 66.1 C16.9 65.7 15.6 65.1 15.9 63.6 C16.2 62.0 18.5 59.1 20.1 56.9 C21.6 54.7 24.0 52.4 25.1 50.2 C26.2 48.0 26.5 45.7 26.8 43.5 C27.0 41.3 26.8 39.0 26.8 36.8 C26.7 34.6 26.3 32.1 26.4 30.1 C26.6 28.2 25.9 26.8 27.6 25.1Z" fill="none" stroke="#000" stroke-width="3.0" stroke-opacity="0.3"/>
</g>
<path d="M27.6 25.1 C29.3 23.4 33.6 21.2 36.8 20.1 C40.0 18.9 43.4 18.3 46.8 18.1 C50.3 17.8 56.2 17.0 57.7 18.4 C59.3 19.9 56.7 23.7 56.0 26.8 C55.4 29.8 54.2 33.5 53.5 36.8 C52.8 40.2 52.3 43.5 51.9 46.8 C51.4 50.2 51.3 53.5 51.0 56.9 C50.8 60.2 50.6 64.8 50.2 66.9 C49.8 69.0 49.4 69.7 48.5 69.4 C47.7 69.2 46.3 66.8 45.2 65.3 C44.1 63.7 43.1 61.6 41.8 60.2 C40.6 58.8 39.0 57.3 37.6 56.9 C36.3 56.5 34.7 56.7 33.5 57.7 C32.2 58.7 31.5 61.3 30.1 62.7 C28.7 64.1 27.0 65.5 25.1 66.1 C23.1 66.6 19.9 66.5 18.4 66.1 C16.9 65.7 15.6 65.1 15.9 63.6 C16.2 62.0 18.5 59.1 20.1 56.9 C21.6 54.7 24.0 52.4 25.1 50.2 C26.2 48.0 26.5 45.7 26.8 43.5 C27.0 41.3 26.8 39.0 26.8 36.8 C26.7 34.6 26.3 32.1 26.4 30.1 C26.6 28.2 25.9 26.8 27.6 25.1Z" fill="#fff" stroke="#333" stroke-width="1.0"/>
<path d="M32.6 27.6 C33.9 25.4 38.6 23.1 41.8 21.8 C45.0 20.4 49.5 19.5 51.9 19.2 C54.2 19.0 55.7 18.1 56.0 20.1 C56.4 22.0 54.7 27.5 53.9 31.0 C53.0 34.4 52.5 39.0 51.0 41.0 C49.6 43.0 47.3 43.2 45.2 43.2 C43.1 43.1 40.3 41.8 38.5 40.5 C36.7 39.2 35.3 37.3 34.3 35.1 C33.3 33.0 31.4 29.8 32.6 27.6Z" fill="none" stroke="#555" stroke-width="0.7"/>
<path d="M36.4 28.2 C37.4 26.6 40.9 24.9 43.3 23.9 C45.7 22.8 49.0 22.2 50.8 22.0 C52.6 21.8 53.7 21.1 53.9 22.6 C54.2 24.1 52.9 28.1 52.3 30.7 C51.7 33.4 51.4 36.9 50.3 38.5 C49.2 40.1 47.3 40.3 45.7 40.3 C44.1 40.2 42.0 39.2 40.6 38.1 C39.2 37.1 38.2 35.6 37.5 33.9 C36.8 32.3 35.5 29.9 36.4 28.2Z" fill="none" stroke="#555" stroke-width="0.7"/>
<path d="M39.8 28.8 C40.5 27.6 43.0 26.5 44.6 25.8 C46.3 25.0 48.6 24.6 49.9 24.5 C51.1 24.3 51.9 23.9 52.0 24.9 C52.2 25.9 51.3 28.7 50.9 30.6 C50.5 32.5 50.4 35.1 49.6 36.3 C48.8 37.5 47.4 37.7 46.2 37.6 C45.1 37.6 43.4 36.8 42.5 36.0 C41.5 35.2 40.9 34.0 40.4 32.8 C40.0 31.6 39.1 30.0 39.8 28.8Z" fill="none" stroke="#555" stroke-width="0.7"/>
<path d="M42.8 29.3 C43.3 28.5 44.7 27.8 45.8 27.4 C46.8 26.9 48.3 26.7 49.0 26.6 C49.8 26.5 50.3 26.2 50.4 26.8 C50.5 27.5 50.0 29.1 49.7 30.4 C49.5 31.6 49.5 33.5 49.0 34.4 C48.5 35.2 47.5 35.4 46.7 35.4 C45.9 35.4 44.7 34.7 44.1 34.1 C43.5 33.6 43.1 32.7 42.9 31.9 C42.7 31.1 42.3 30.1 42.8 29.3Z" fill="none" stroke="#555" stroke-width="0.7"/>
<path d="M44.8 29.6 C45.1 29.2 45.9 28.8 46.6 28.5 C47.2 28.2 48.0 28.1 48.5 28.0 C48.9 28.0 49.2 27.8 49.3 28.2 C49.4 28.6 49.0 29.5 48.9 30.3 C48.8 31.1 48.9 32.5 48.6 33.1 C48.3 33.7 47.5 33.9 47.0 33.9 C46.4 33.8 45.6 33.3 45.2 32.9 C44.8 32.5 44.7 31.8 44.6 31.3 C44.5 30.7 44.5 30.1 44.8 29.6Z" fill="none" stroke="#555" stroke-width="0.7"/>
<path d="M30.5 27.6 C30.6 29.0 30.5 33.5 31.1 36.0 C31.8 38.5 32.9 40.6 34.3 42.7 C35.7 44.8 37.6 46.6 39.3 48.5 C41.0 50.5 42.9 52.1 44.3 54.4 C45.7 56.6 46.8 59.8 47.7 61.9 C48.5 64.0 48.9 67.2 49.4 66.9 C49.8 66.6 49.9 63.0 50.2 60.2 C50.5 57.4 50.7 53.5 51.0 50.2 C51.4 46.8 52.0 41.8 52.2 40.2" fill="none" stroke="#555" stroke-width="0.7"/>
<ellipse cx="47.7" cy="30.5" rx="8.4" ry="7.5" fill="url(#rg)" fill-opacity="0.55"/>
<circle cx="47.7" cy="30.1" r="7.7" fill="url(#rw)" fill-opacity="1"/></g></g>
<line x1="29.8" y1="0" x2="29.8" y2="86.8" stroke="#7a7a7a" stroke-width="0.9"/>
<line x1="0" y1="44.5" x2="86.8" y2="44.5" stroke="#7a7a7a" stroke-width="0.9"/>
<rect x="0" y="0" width="86.8" height="86.8" fill="none" stroke="#888" stroke-width="1"/>
<text x="3.6" y="12.2" font-size="13.6" text-anchor="start" fill="#000">1</text>
<text x="85.2" y="12.2" font-size="13.6" text-anchor="end" fill="#000">89</text>
<text x="85.2" y="84.0" font-size="13.6" text-anchor="end" fill="#000">5</text>
</g>
<g transform="translate(220.5,141.3)">
<g clip-path="url(#boxclip)"><g transform="translate(-0.5,0)"><g filter="url(#st2)">
<path d="M0.0 27.6 C2.2 17.3 9.2 25.5 13.4 25.1 C17.6 24.7 22.3 24.5 25.1 25.1 C27.9 25.7 30.4 27.3 30.1 28.4 C29.8 29.6 24.0 30.4 23.4 31.8 C22.9 33.2 25.9 35.1 26.8 36.8 C27.6 38.5 28.7 39.9 28.4 41.8 C28.2 43.8 26.8 46.6 25.1 48.5 C23.4 50.5 20.6 51.6 18.4 53.5 C16.2 55.5 13.8 58.1 11.7 60.2 C9.6 62.3 6.7 64.7 5.9 66.1 C5.0 67.5 5.2 67.8 6.7 68.6 C8.2 69.4 12.5 71.1 15.1 71.1 C17.6 71.1 19.8 70.1 21.8 68.6 C23.7 67.1 25.7 64.1 26.8 61.9 C27.9 59.7 27.6 56.6 28.4 55.2 C29.3 53.8 30.1 53.7 31.8 53.5 C33.5 53.4 36.7 53.8 38.5 54.4 C40.3 54.9 41.7 55.6 42.7 56.9 C43.6 58.1 43.8 60.0 44.3 61.9 C44.9 63.9 45.3 66.5 46.0 68.6 C46.7 70.7 47.5 72.5 48.5 74.5 C49.5 76.4 51.6 78.2 51.9 80.3 C52.1 82.4 58.8 85.9 50.2 87.0 C41.5 88.1 8.4 96.9 0.0 87.0 C-8.4 77.1 -2.2 37.9 0.0 27.6Z" fill="#000" fill-opacity="0.252"/>
<path d="M10.0 31.8 C13.4 28.4 20.5 29.0 23.4 30.1 C26.4 31.2 27.3 35.4 27.6 38.5 C27.9 41.5 26.9 45.7 25.1 48.5 C23.3 51.3 19.5 52.7 16.7 55.2 C13.9 57.7 10.6 62.2 8.4 63.6 C6.1 65.0 4.2 65.8 3.3 63.6 C2.5 61.3 2.2 55.5 3.3 50.2 C4.5 44.9 6.7 35.1 10.0 31.8Z" fill="#000" fill-opacity="0.432"/>
<path d="M28.4 51.9 C30.1 50.6 37.5 51.3 40.2 52.7 C42.8 54.1 43.2 57.3 44.3 60.2 C45.5 63.2 47.8 69.2 46.8 70.3 C45.9 71.4 41.3 68.6 38.5 66.9 C35.7 65.3 31.8 62.7 30.1 60.2 C28.4 57.7 26.8 53.1 28.4 51.9Z" fill="#000" fill-opacity="0.432"/>
<path d="M0.0 28.4 C0.4 18.7 2.1 18.7 2.5 28.4 C2.9 38.2 2.9 77.2 2.5 87.0 C2.1 96.8 0.4 96.8 0.0 87.0 C-0.4 77.2 -0.4 38.2 0.0 28.4Z" fill="#000" fill-opacity="0.432"/>
<path d="M23.4 31.8 C24.5 29.8 29.8 26.9 33.5 25.1 C37.1 23.3 41.1 21.8 45.2 20.9 C49.2 20.0 55.8 18.8 57.7 19.7 C59.7 20.7 57.6 23.9 56.9 26.8 C56.2 29.6 54.5 33.7 53.5 36.8 C52.6 39.9 51.4 42.1 51.0 45.2 C50.6 48.2 51.2 51.6 51.0 55.2 C50.9 58.8 50.6 63.7 50.2 66.9 C49.8 70.1 49.2 74.2 48.5 74.5 C47.8 74.7 46.7 70.7 46.0 68.6 C45.3 66.5 44.9 63.9 44.3 61.9 C43.8 60.0 43.6 58.1 42.7 56.9 C41.7 55.6 40.3 54.9 38.5 54.4 C36.7 53.8 33.5 53.4 31.8 53.5 C30.1 53.7 29.3 53.8 28.4 55.2 C27.6 56.6 27.9 59.7 26.8 61.9 C25.7 64.1 23.7 67.1 21.8 68.6 C19.8 70.1 17.6 71.1 15.1 71.1 C12.5 71.1 8.2 69.4 6.7 68.6 C5.2 67.8 5.0 67.5 5.9 66.1 C6.7 64.7 9.6 62.3 11.7 60.2 C13.8 58.1 16.2 55.5 18.4 53.5 C20.6 51.6 23.4 50.5 25.1 48.5 C26.8 46.6 28.2 43.8 28.4 41.8 C28.7 39.9 27.6 38.5 26.8 36.8 C25.9 35.1 22.3 33.7 23.4 31.8Z" fill="none" stroke="#000" stroke-width="3.0" stroke-opacity="0.3"/>
</g>
<path d="M23.4 31.8 C24.5 29.8 29.8 26.9 33.5 25.1 C37.1 23.3 41.1 21.8 45.2 20.9 C49.2 20.0 55.8 18.8 57.7 19.7 C59.7 20.7 57.6 23.9 56.9 26.8 C56.2 29.6 54.5 33.7 53.5 36.8 C52.6 39.9 51.4 42.1 51.0 45.2 C50.6 48.2 51.2 51.6 51.0 55.2 C50.9 58.8 50.6 63.7 50.2 66.9 C49.8 70.1 49.2 74.2 48.5 74.5 C47.8 74.7 46.7 70.7 46.0 68.6 C45.3 66.5 44.9 63.9 44.3 61.9 C43.8 60.0 43.6 58.1 42.7 56.9 C41.7 55.6 40.3 54.9 38.5 54.4 C36.7 53.8 33.5 53.4 31.8 53.5 C30.1 53.7 29.3 53.8 28.4 55.2 C27.6 56.6 27.9 59.7 26.8 61.9 C25.7 64.1 23.7 67.1 21.8 68.6 C19.8 70.1 17.6 71.1 15.1 71.1 C12.5 71.1 8.2 69.4 6.7 68.6 C5.2 67.8 5.0 67.5 5.9 66.1 C6.7 64.7 9.6 62.3 11.7 60.2 C13.8 58.1 16.2 55.5 18.4 53.5 C20.6 51.6 23.4 50.5 25.1 48.5 C26.8 46.6 28.2 43.8 28.4 41.8 C28.7 39.9 27.6 38.5 26.8 36.8 C25.9 35.1 22.3 33.7 23.4 31.8Z" fill="#fff" stroke="#333" stroke-width="1.0"/>
<path d="M28.4 31.0 C29.6 29.0 34.0 27.0 37.6 25.4 C41.3 23.8 47.1 22.1 50.2 21.4 C53.3 20.7 55.7 19.4 56.2 21.4 C56.8 23.4 54.4 29.8 53.5 33.5 C52.7 37.1 52.6 41.1 51.0 43.2 C49.4 45.3 46.3 46.1 43.8 46.0 C41.3 45.9 38.1 44.1 36.0 42.7 C33.8 41.2 32.2 39.1 31.0 37.1 C29.7 35.2 27.3 32.9 28.4 31.0Z" fill="none" stroke="#555" stroke-width="0.7"/>
<path d="M33.3 30.7 C34.2 29.3 37.5 27.8 40.3 26.6 C43.0 25.4 47.3 24.1 49.6 23.6 C52.0 23.1 53.7 22.1 54.1 23.6 C54.6 25.1 52.8 29.9 52.2 32.6 C51.6 35.4 51.6 38.7 50.4 40.4 C49.1 42.0 46.7 42.8 44.7 42.7 C42.7 42.6 40.2 41.1 38.6 39.9 C37.0 38.7 35.8 37.0 34.9 35.5 C34.0 34.0 32.4 32.2 33.3 30.7Z" fill="none" stroke="#555" stroke-width="0.7"/>
<path d="M37.7 30.6 C38.4 29.5 40.7 28.5 42.6 27.7 C44.5 26.8 47.5 25.9 49.1 25.6 C50.8 25.2 52.0 24.5 52.3 25.6 C52.6 26.6 51.4 29.9 51.0 31.9 C50.6 34.0 50.7 36.5 49.8 37.8 C48.9 39.1 47.0 39.8 45.5 39.7 C44.0 39.7 42.1 38.4 40.9 37.5 C39.8 36.5 39.0 35.2 38.5 34.0 C38.0 32.9 37.1 31.6 37.7 30.6Z" fill="none" stroke="#555" stroke-width="0.7"/>
<path d="M41.5 30.4 C42.0 29.7 43.4 29.1 44.6 28.6 C45.8 28.1 47.7 27.5 48.7 27.3 C49.7 27.1 50.5 26.6 50.7 27.3 C50.9 27.9 50.2 29.9 50.0 31.3 C49.7 32.7 49.9 34.7 49.3 35.6 C48.7 36.6 47.2 37.2 46.2 37.2 C45.1 37.1 43.7 36.1 43.0 35.4 C42.2 34.6 41.8 33.6 41.6 32.8 C41.3 31.9 41.0 31.1 41.5 30.4Z" fill="none" stroke="#555" stroke-width="0.7"/>
<path d="M44.1 30.3 C44.5 29.8 45.3 29.5 46.0 29.2 C46.7 28.9 47.8 28.6 48.4 28.4 C49.0 28.3 49.5 28.0 49.6 28.4 C49.7 28.8 49.4 29.9 49.2 30.9 C49.1 31.8 49.4 33.4 48.9 34.2 C48.5 34.9 47.4 35.5 46.6 35.4 C45.8 35.4 44.8 34.5 44.3 33.9 C43.9 33.4 43.7 32.5 43.7 31.9 C43.6 31.3 43.7 30.7 44.1 30.3Z" fill="none" stroke="#555" stroke-width="0.7"/>
<path d="M33.5 43.8 C34.6 44.4 38.3 46.1 40.2 47.2 C42.1 48.2 43.8 48.0 44.8 50.2 C45.9 52.4 45.9 57.2 46.5 60.2 C47.1 63.3 48.0 68.0 48.5 68.6 C49.1 69.2 49.5 65.8 49.9 63.6 C50.2 61.3 50.3 58.0 50.5 55.2 C50.7 52.4 50.9 48.2 51.0 46.8" fill="none" stroke="#555" stroke-width="0.7"/>
<path d="M47.2 58.6 C47.6 57.3 49.0 56.0 49.5 56.9 C50.1 57.7 50.6 61.9 50.5 63.6 C50.4 65.3 49.4 66.8 48.9 66.9 C48.3 67.1 47.5 65.8 47.2 64.4 C46.9 63.0 46.8 59.8 47.2 58.6Z" fill="none" stroke="#555" stroke-width="0.7"/>
<path d="M16.7 60.2 C17.3 58.8 20.6 57.2 21.8 57.7 C22.9 58.3 24.0 62.2 23.4 63.6 C22.9 65.0 19.5 66.6 18.4 66.1 C17.3 65.5 16.2 61.6 16.7 60.2Z" fill="none" stroke="#555" stroke-width="0.7"/>
<ellipse cx="48.0" cy="30.5" rx="8.0" ry="7.0" fill="url(#rg)" fill-opacity="0.55"/>
<circle cx="48.0" cy="30.1" r="7.2" fill="url(#rw)" fill-opacity="1"/></g></g>
<line x1="30.3" y1="0" x2="30.3" y2="86.8" stroke="#7a7a7a" stroke-width="0.9"/>
<line x1="0" y1="44.6" x2="86.8" y2="44.6" stroke="#7a7a7a" stroke-width="0.9"/>
<rect x="0" y="0" width="86.8" height="86.8" fill="none" stroke="#888" stroke-width="1"/>
<text x="3.6" y="12.2" font-size="13.6" text-anchor="start" fill="#000">2</text>
<text x="85.2" y="12.2" font-size="13.6" text-anchor="end" fill="#000">89</text>
<text x="85.2" y="84.0" font-size="13.6" text-anchor="end" fill="#000">4</text>
</g>
<g transform="translate(312.5,141.3)">
<g clip-path="url(#boxclip)"><g transform="translate(-0.5,0)"><g filter="url(#st3)">
<path d="M0.0 26.8 C2.8 15.8 11.7 22.3 16.7 20.9 C21.8 19.5 27.6 16.9 30.1 18.4 C32.6 19.9 30.7 25.9 31.8 30.1 C32.9 34.3 34.9 39.3 36.8 43.5 C38.8 47.7 41.5 51.9 43.5 55.2 C45.5 58.6 47.1 60.2 48.5 63.6 C49.9 66.9 51.6 71.4 51.9 75.3 C52.1 79.2 58.8 85.0 50.2 87.0 C41.5 89.0 8.4 97.0 0.0 87.0 C-8.4 77.0 -2.8 37.8 0.0 26.8Z" fill="#000" fill-opacity="0.216"/>
<path d="M18.4 21.8 C20.6 19.4 27.6 17.6 30.1 19.2 C32.6 20.9 32.1 27.5 33.5 31.8 C34.9 36.1 36.5 41.0 38.5 45.2 C40.4 49.4 43.2 53.3 45.2 56.9 C47.1 60.5 49.1 63.6 50.2 66.9 C51.3 70.3 52.1 74.7 51.9 77.0 C51.6 79.2 50.5 81.4 48.5 80.3 C46.6 79.2 43.2 73.9 40.2 70.3 C37.1 66.6 33.2 62.5 30.1 58.6 C27.0 54.7 24.0 51.0 21.8 46.8 C19.5 42.7 17.3 37.6 16.7 33.5 C16.2 29.3 16.2 24.1 18.4 21.8Z" fill="#000" fill-opacity="0.396"/>
<path d="M0.0 41.8 C3.9 34.6 17.8 40.4 23.4 43.5 C29.0 46.6 30.1 55.5 33.5 60.2 C36.8 65.0 41.3 67.5 43.5 71.9 C45.7 76.4 54.1 84.5 46.8 87.0 C39.6 89.5 7.8 94.5 0.0 87.0 C-7.8 79.5 -3.9 49.1 0.0 41.8Z" fill="#000" fill-opacity="0.216"/>
<path d="M30.1 20.9 C31.6 18.7 36.8 17.8 40.2 16.7 C43.5 15.7 47.1 15.1 50.2 14.7 C53.3 14.4 57.6 13.0 58.6 14.7 C59.5 16.5 56.9 21.4 56.0 25.1 C55.2 28.8 54.2 32.6 53.5 36.8 C52.8 41.0 52.3 46.0 51.9 50.2 C51.4 54.4 51.4 59.3 51.0 61.9 C50.6 64.6 50.2 65.8 49.4 66.1 C48.5 66.4 47.1 65.4 46.0 63.6 C44.9 61.8 43.9 58.0 42.7 55.2 C41.4 52.4 39.9 49.6 38.5 46.8 C37.1 44.1 35.6 41.3 34.3 38.5 C33.0 35.7 31.6 33.0 31.0 30.1 C30.3 27.2 28.6 23.1 30.1 20.9Z" fill="none" stroke="#000" stroke-width="3.0" stroke-opacity="0.3"/>
</g>
<path d="M30.1 20.9 C31.6 18.7 36.8 17.8 40.2 16.7 C43.5 15.7 47.1 15.1 50.2 14.7 C53.3 14.4 57.6 13.0 58.6 14.7 C59.5 16.5 56.9 21.4 56.0 25.1 C55.2 28.8 54.2 32.6 53.5 36.8 C52.8 41.0 52.3 46.0 51.9 50.2 C51.4 54.4 51.4 59.3 51.0 61.9 C50.6 64.6 50.2 65.8 49.4 66.1 C48.5 66.4 47.1 65.4 46.0 63.6 C44.9 61.8 43.9 58.0 42.7 55.2 C41.4 52.4 39.9 49.6 38.5 46.8 C37.1 44.1 35.6 41.3 34.3 38.5 C33.0 35.7 31.6 33.0 31.0 30.1 C30.3 27.2 28.6 23.1 30.1 20.9Z" fill="#fff" stroke="#333" stroke-width="1.0"/>
<path d="M43.8 35.1 C44.1 36.5 44.7 41.0 45.2 43.5 C45.7 46.0 46.3 48.8 46.8 50.2 C47.4 51.6 48.0 53.0 48.5 51.9 C49.1 50.8 49.8 46.3 50.2 43.5 C50.6 40.7 50.9 36.5 51.0 35.1" fill="none" stroke="#555" stroke-width="0.7"/>
<path d="M35.5 22.6 C36.7 21.0 41.0 19.7 44.3 18.7 C47.6 17.8 53.2 16.9 55.2 16.7 C57.2 16.6 56.8 15.9 56.6 17.7 C56.3 19.5 54.8 24.8 53.9 27.6 C53.0 30.4 52.4 33.0 51.2 34.3 C50.0 35.6 48.5 35.7 46.8 35.5 C45.1 35.2 42.7 33.8 41.0 32.6 C39.3 31.5 37.7 30.1 36.8 28.4 C35.9 26.8 34.2 24.2 35.5 22.6Z" fill="none" stroke="#555" stroke-width="0.7"/>
<path d="M39.0 23.4 C39.9 22.3 43.0 21.4 45.3 20.7 C47.6 20.0 51.6 19.4 53.0 19.3 C54.5 19.2 54.1 18.7 54.0 20.0 C53.8 21.3 52.7 25.0 52.1 27.0 C51.5 29.0 51.1 30.9 50.2 31.9 C49.4 32.8 48.3 32.9 47.1 32.7 C45.8 32.5 44.0 31.5 42.9 30.6 C41.7 29.8 40.6 28.8 39.9 27.6 C39.3 26.4 38.1 24.6 39.0 23.4Z" fill="none" stroke="#555" stroke-width="0.7"/>
<path d="M42.1 24.1 C42.7 23.4 44.6 22.8 46.1 22.4 C47.7 21.9 50.2 21.5 51.1 21.4 C52.1 21.4 51.8 21.1 51.7 21.9 C51.7 22.7 51.0 25.1 50.6 26.4 C50.2 27.8 50.0 29.1 49.4 29.8 C48.9 30.4 48.1 30.5 47.3 30.4 C46.4 30.3 45.2 29.5 44.4 28.9 C43.7 28.3 43.0 27.6 42.6 26.8 C42.2 26.0 41.5 24.9 42.1 24.1Z" fill="none" stroke="#555" stroke-width="0.7"/>
<path d="M44.2 24.6 C44.6 24.1 45.8 23.8 46.7 23.5 C47.7 23.2 49.3 23.0 49.8 22.9 C50.4 22.9 50.3 22.7 50.2 23.2 C50.2 23.7 49.8 25.2 49.5 26.1 C49.3 26.9 49.2 27.9 48.8 28.4 C48.5 28.8 48.0 28.9 47.4 28.8 C46.9 28.7 46.0 28.2 45.5 27.7 C45.0 27.3 44.6 26.9 44.4 26.3 C44.2 25.8 43.8 25.1 44.2 24.6Z" fill="none" stroke="#555" stroke-width="0.7"/>
<ellipse cx="47.7" cy="25.4" rx="8.0" ry="7.5" fill="url(#rg)" fill-opacity="0.55"/>
<circle cx="47.3" cy="25.1" r="7.7" fill="url(#rw)" fill-opacity="1"/></g></g>
<line x1="28.2" y1="0" x2="28.2" y2="86.8" stroke="#7a7a7a" stroke-width="0.9"/>
<line x1="0" y1="44.3" x2="86.8" y2="44.3" stroke="#7a7a7a" stroke-width="0.9"/>
<rect x="0" y="0" width="86.8" height="86.8" fill="none" stroke="#888" stroke-width="1"/>
<text x="3.6" y="12.2" font-size="13.6" text-anchor="start" fill="#000">1</text>
<text x="85.2" y="12.2" font-size="13.6" text-anchor="end" fill="#000">93</text>
<text x="85.2" y="84.0" font-size="13.6" text-anchor="end" fill="#000">5</text>
</g>
<g transform="translate(405,141.3)">
<g clip-path="url(#boxclip)"><g transform="translate(0,-0.3)"><g filter="url(#st0)">
<path d="M0.0 25.1 C2.2 13.9 8.6 21.2 13.4 20.1 C18.1 19.0 25.7 16.2 28.4 18.4 C31.2 20.6 29.3 28.7 30.1 33.5 C31.0 38.2 31.2 44.3 33.5 46.8 C35.7 49.4 40.7 45.7 43.5 48.5 C46.3 51.3 49.1 58.6 50.2 63.6 C51.3 68.6 51.6 74.7 50.2 78.6 C48.8 82.5 50.2 85.6 41.8 87.0 C33.5 88.4 7.0 97.3 0.0 87.0 C-7.0 76.7 -2.2 36.3 0.0 25.1Z" fill="#000" fill-opacity="0.158"/>
<path d="M3.3 45.2 C7.8 41.0 23.7 44.3 30.1 45.2 C36.5 46.0 38.8 47.1 41.8 50.2 C44.9 53.3 48.5 59.7 48.5 63.6 C48.5 67.5 47.1 71.9 41.8 73.6 C36.5 75.3 23.1 74.2 16.7 73.6 C10.3 73.1 5.6 75.0 3.3 70.3 C1.1 65.5 -1.1 49.4 3.3 45.2Z" fill="#000" fill-opacity="0.216"/>
<path d="M30.1 20.1 C32.1 17.1 37.6 17.0 41.8 15.9 C46.0 14.8 52.5 13.7 55.2 13.7 C57.9 13.7 58.2 14.0 58.2 15.9 C58.2 17.8 56.3 21.9 55.2 25.1 C54.2 28.3 52.7 32.1 51.9 35.1 C51.0 38.2 50.3 40.2 50.2 43.5 C50.1 46.8 51.3 51.6 51.0 55.2 C50.8 58.8 49.4 64.4 48.5 65.3 C47.7 66.1 46.8 62.7 46.0 60.2 C45.2 57.7 44.8 52.8 43.5 50.2 C42.2 47.5 40.3 45.9 38.5 44.3 C36.7 42.8 34.1 42.8 32.6 41.0 C31.2 39.2 30.2 36.9 29.8 33.5 C29.4 30.0 28.1 23.0 30.1 20.1Z" fill="none" stroke="#000" stroke-width="3.0" stroke-opacity="0.3"/>
<path d="M8.4 65.3 C8.9 63.6 11.2 60.1 13.4 58.6 C15.6 57.0 19.2 56.2 21.8 56.0 C24.3 55.9 27.3 56.3 28.4 57.7 C29.6 59.1 29.0 62.6 28.4 64.4 C27.9 66.2 27.0 67.8 25.1 68.6 C23.1 69.4 19.2 69.4 16.7 69.4 C14.2 69.4 11.4 69.3 10.0 68.6 C8.6 67.9 7.8 66.9 8.4 65.3Z" fill="none" stroke="#000" stroke-width="3.0" stroke-opacity="0.3"/>
</g>
<path d="M30.1 20.1 C32.1 17.1 37.6 17.0 41.8 15.9 C46.0 14.8 52.5 13.7 55.2 13.7 C57.9 13.7 58.2 14.0 58.2 15.9 C58.2 17.8 56.3 21.9 55.2 25.1 C54.2 28.3 52.7 32.1 51.9 35.1 C51.0 38.2 50.3 40.2 50.2 43.5 C50.1 46.8 51.3 51.6 51.0 55.2 C50.8 58.8 49.4 64.4 48.5 65.3 C47.7 66.1 46.8 62.7 46.0 60.2 C45.2 57.7 44.8 52.8 43.5 50.2 C42.2 47.5 40.3 45.9 38.5 44.3 C36.7 42.8 34.1 42.8 32.6 41.0 C31.2 39.2 30.2 36.9 29.8 33.5 C29.4 30.0 28.1 23.0 30.1 20.1Z" fill="#fff" stroke="#333" stroke-width="1.0"/>
<path d="M31.1 20.9 C32.7 18.0 38.6 17.5 42.7 16.4 C46.7 15.3 52.7 14.6 55.2 14.6 C57.7 14.6 57.7 14.4 57.6 16.4 C57.4 18.4 55.7 23.4 54.5 26.8 C53.4 30.1 52.6 34.6 50.5 36.5 C48.4 38.3 44.7 38.2 41.8 37.8 C38.9 37.4 34.9 36.9 33.1 34.1 C31.3 31.3 29.5 23.9 31.1 20.9Z" fill="none" stroke="#555" stroke-width="0.7"/>
<path d="M33.8 21.7 C35.1 19.3 40.0 18.9 43.3 18.0 C46.6 17.2 51.5 16.5 53.6 16.5 C55.6 16.5 55.6 16.4 55.5 18.0 C55.4 19.7 54.0 23.8 53.0 26.5 C52.1 29.3 51.5 33.1 49.8 34.7 C48.0 36.2 44.9 36.2 42.5 35.8 C40.1 35.5 36.7 35.0 35.3 32.7 C33.8 30.3 32.5 24.2 33.8 21.7Z" fill="none" stroke="#555" stroke-width="0.7"/>
<path d="M36.3 22.5 C37.4 20.5 41.2 20.2 43.8 19.6 C46.4 18.9 50.4 18.4 52.0 18.4 C53.6 18.4 53.6 18.2 53.5 19.6 C53.4 20.9 52.3 24.1 51.6 26.3 C50.9 28.5 50.5 31.7 49.1 33.0 C47.7 34.3 45.1 34.2 43.1 34.0 C41.2 33.7 38.4 33.2 37.3 31.3 C36.2 29.4 35.2 24.5 36.3 22.5Z" fill="none" stroke="#555" stroke-width="0.7"/>
<path d="M38.7 23.2 C39.5 21.7 42.4 21.5 44.4 21.0 C46.3 20.5 49.3 20.1 50.5 20.1 C51.8 20.1 51.7 20.0 51.7 21.0 C51.6 22.0 50.8 24.4 50.3 26.1 C49.7 27.8 49.6 30.4 48.5 31.4 C47.4 32.4 45.3 32.5 43.7 32.2 C42.2 32.0 40.0 31.6 39.2 30.1 C38.3 28.6 37.8 24.7 38.7 23.2Z" fill="none" stroke="#555" stroke-width="0.7"/>
<path d="M40.8 23.8 C41.5 22.7 43.4 22.6 44.8 22.3 C46.2 21.9 48.4 21.6 49.2 21.6 C50.1 21.6 50.1 21.6 50.0 22.3 C50.0 23.0 49.4 24.6 49.1 25.9 C48.7 27.2 48.7 29.2 47.9 30.0 C47.1 30.8 45.4 30.8 44.2 30.7 C43.1 30.5 41.4 30.1 40.8 28.9 C40.3 27.8 40.1 25.0 40.8 23.8Z" fill="none" stroke="#555" stroke-width="0.7"/>
<path d="M42.6 24.4 C43.1 23.6 44.3 23.6 45.2 23.4 C46.2 23.1 47.5 22.9 48.1 22.9 C48.7 22.9 48.7 22.9 48.6 23.4 C48.6 23.8 48.2 24.8 48.0 25.7 C47.8 26.7 47.9 28.2 47.4 28.8 C46.8 29.4 45.5 29.5 44.7 29.3 C43.8 29.2 42.6 28.8 42.3 27.9 C41.9 27.1 42.1 25.2 42.6 24.4Z" fill="none" stroke="#555" stroke-width="0.7"/>
<path d="M43.9 24.8 C44.2 24.3 44.9 24.3 45.5 24.1 C46.1 24.0 47.0 23.9 47.3 23.9 C47.7 23.9 47.7 23.8 47.7 24.1 C47.7 24.4 47.4 25.0 47.3 25.6 C47.2 26.3 47.4 27.5 47.0 28.0 C46.7 28.4 45.6 28.5 45.0 28.4 C44.4 28.3 43.5 27.9 43.3 27.3 C43.1 26.7 43.5 25.3 43.9 24.8Z" fill="none" stroke="#555" stroke-width="0.7"/>
<path d="M43.8 48.5 C44.3 46.8 47.8 45.7 48.9 46.8 C49.9 48.0 50.2 52.6 50.2 55.2 C50.1 57.9 49.2 62.5 48.5 62.7 C47.8 63.0 46.8 59.3 46.0 56.9 C45.2 54.5 43.4 50.2 43.8 48.5Z" fill="none" stroke="#555" stroke-width="0.7"/>
<path d="M8.4 65.3 C8.9 63.6 11.2 60.1 13.4 58.6 C15.6 57.0 19.2 56.2 21.8 56.0 C24.3 55.9 27.3 56.3 28.4 57.7 C29.6 59.1 29.0 62.6 28.4 64.4 C27.9 66.2 27.0 67.8 25.1 68.6 C23.1 69.4 19.2 69.4 16.7 69.4 C14.2 69.4 11.4 69.3 10.0 68.6 C8.6 67.9 7.8 66.9 8.4 65.3Z" fill="#fff" stroke="#333" stroke-width="1.0"/>
<ellipse cx="46.0" cy="25.4" rx="8.4" ry="7.5" fill="url(#rg)" fill-opacity="0.5"/>
<circle cx="45.7" cy="25.1" r="8.0" fill="url(#rw)" fill-opacity="1"/></g></g>
<line x1="27.6" y1="0" x2="27.6" y2="86.8" stroke="#7a7a7a" stroke-width="0.9"/>
<line x1="0" y1="44.0" x2="86.8" y2="44.0" stroke="#7a7a7a" stroke-width="0.9"/>
<rect x="0" y="0" width="86.8" height="86.8" fill="none" stroke="#888" stroke-width="1"/>
<text x="3.6" y="12.2" font-size="13.6" text-anchor="start" fill="#000">1</text>
<text x="85.2" y="12.2" font-size="13.6" text-anchor="end" fill="#000">93</text>
<text x="85.2" y="84.0" font-size="13.6" text-anchor="end" fill="#000">3</text>
</g>
<g transform="translate(37.3,328.5)">
<g clip-path="url(#boxclip)"><g transform="translate(-0.3,-0.5)"><g filter="url(#st0)">
<path d="M1.7 24.3 C4.3 22.6 12.0 23.5 16.7 23.4 C21.5 23.3 24.5 23.9 30.1 23.8 C35.7 23.6 46.7 21.5 50.2 22.6 C53.7 23.6 51.6 26.6 51.0 30.1 C50.5 33.6 47.1 39.3 46.8 43.5 C46.6 47.7 48.7 50.5 49.4 55.2 C50.1 60.0 51.2 67.6 51.0 71.9 C50.9 76.3 50.9 79.3 48.5 81.1 C46.1 83.0 40.7 82.7 36.8 82.8 C32.9 82.9 28.7 82.1 25.1 81.6 C21.5 81.2 18.1 81.1 15.1 80.3 C12.0 79.5 8.5 79.8 6.7 77.0 C4.9 74.2 4.5 68.0 4.2 63.6 C3.9 59.1 5.2 54.1 5.0 50.2 C4.9 46.3 4.0 42.9 3.3 40.2 C2.6 37.4 1.1 36.1 0.8 33.5 C0.6 30.8 -1.0 25.9 1.7 24.3Z" fill="#000" fill-opacity="0.357"/>
</g>
<g filter="url(#sd0)">
<path d="M22.6 48.9 C24.4 48.0 32.5 46.8 34.3 48.2 C36.1 49.5 34.4 54.5 33.5 56.9 C32.5 59.3 30.2 62.1 28.8 62.7 C27.4 63.4 26.0 62.1 25.1 60.6 C24.2 59.0 23.8 55.5 23.4 53.5 C23.0 51.6 20.8 49.7 22.6 48.9Z" fill="#000" fill-opacity="0.970"/>
<path d="M5.9 48.5 C7.4 46.0 14.3 44.2 15.9 48.5 C17.5 52.8 15.0 69.7 15.4 74.5 C15.8 79.2 17.1 76.8 18.4 77.0 C19.7 77.1 22.3 75.0 23.4 75.3 C24.5 75.6 26.2 77.9 25.1 78.6 C24.0 79.4 19.4 80.3 16.7 80.0 C14.1 79.7 10.9 79.7 9.2 77.0 C7.5 74.2 7.3 68.3 6.7 63.6 C6.1 58.8 4.3 51.0 5.9 48.5Z" fill="#000" fill-opacity="0.850"/>
<path d="M6.0 29.1 C7.3 27.9 14.0 28.7 16.7 28.8 C19.5 28.9 19.8 29.9 22.6 29.8 C25.4 29.7 29.6 28.4 33.5 28.1 C37.3 27.8 43.8 26.9 45.5 27.8 C47.2 28.7 44.6 31.7 43.8 33.5 C43.1 35.2 42.5 36.4 41.2 38.1 C39.8 39.9 37.7 42.3 36.0 43.8 C34.3 45.4 32.8 46.7 31.0 47.5 C29.1 48.3 27.3 48.5 25.1 48.5 C22.9 48.5 19.5 48.7 17.6 47.7 C15.6 46.7 14.8 44.6 13.4 42.7 C12.0 40.7 10.4 38.2 9.2 36.0 C8.0 33.7 4.8 30.3 6.0 29.1Z" fill="none" stroke="#000" stroke-width="4.5" stroke-opacity="0.97"/>
<path d="M18.1 47.9 C19.6 47.3 28.7 47.4 30.5 47.9 C32.2 48.3 29.7 49.7 28.8 50.5 C27.9 51.3 26.4 52.4 25.1 52.5 C23.8 52.6 22.3 52.0 21.1 51.2 C19.9 50.4 16.5 48.4 18.1 47.9Z" fill="none" stroke="#000" stroke-width="4.5" stroke-opacity="0.97"/>
<path d="M14.7 56.6 C15.6 54.8 18.0 54.0 19.7 53.9 C21.5 53.8 24.1 54.4 25.1 56.0 C26.0 57.7 25.6 60.9 25.4 63.6 C25.3 66.2 25.3 70.0 24.3 71.9 C23.2 73.8 20.8 75.0 19.2 75.0 C17.7 75.0 15.8 73.7 15.1 71.9 C14.3 70.2 14.8 67.0 14.7 64.4 C14.7 61.8 13.9 58.3 14.7 56.6Z" fill="none" stroke="#000" stroke-width="4.5" stroke-opacity="0.97"/>
<path d="M26.4 60.6 C27.4 58.3 30.1 55.8 32.6 54.9 C35.2 53.9 39.6 53.8 41.8 54.9 C44.1 55.9 45.4 58.5 46.2 61.1 C47.0 63.6 46.8 67.7 46.5 70.3 C46.2 72.9 46.0 75.3 44.3 76.6 C42.7 78.0 39.2 78.4 36.8 78.3 C34.4 78.2 31.5 77.7 29.8 76.1 C28.1 74.5 27.3 71.2 26.8 68.6 C26.2 66.0 25.5 62.9 26.4 60.6Z" fill="none" stroke="#000" stroke-width="4.5" stroke-opacity="0.97"/>
</g>
<path d="M6.0 29.1 C7.3 27.9 14.0 28.7 16.7 28.8 C19.5 28.9 19.8 29.9 22.6 29.8 C25.4 29.7 29.6 28.4 33.5 28.1 C37.3 27.8 43.8 26.9 45.5 27.8 C47.2 28.7 44.6 31.7 43.8 33.5 C43.1 35.2 42.5 36.4 41.2 38.1 C39.8 39.9 37.7 42.3 36.0 43.8 C34.3 45.4 32.8 46.7 31.0 47.5 C29.1 48.3 27.3 48.5 25.1 48.5 C22.9 48.5 19.5 48.7 17.6 47.7 C15.6 46.7 14.8 44.6 13.4 42.7 C12.0 40.7 10.4 38.2 9.2 36.0 C8.0 33.7 4.8 30.3 6.0 29.1Z" fill="#fff" stroke="#333" stroke-width="1.0"/>
<path d="M18.1 47.9 C19.6 47.3 28.7 47.4 30.5 47.9 C32.2 48.3 29.7 49.7 28.8 50.5 C27.9 51.3 26.4 52.4 25.1 52.5 C23.8 52.6 22.3 52.0 21.1 51.2 C19.9 50.4 16.5 48.4 18.1 47.9Z" fill="#fff" stroke="#333" stroke-width="1.0"/>
<path d="M23.1 30.5 C24.8 27.4 29.9 29.1 33.5 28.8 C37.0 28.4 42.9 27.6 44.5 28.4 C46.1 29.3 43.7 32.2 43.0 33.8 C42.3 35.4 41.7 36.6 40.5 38.1 C39.2 39.7 37.1 41.8 35.5 43.2 C33.8 44.6 32.5 45.8 30.5 46.5 C28.4 47.2 24.7 49.9 23.4 47.2 C22.2 44.5 21.4 33.5 23.1 30.5Z" fill="none" stroke="#333" stroke-width="0.7"/>
<path d="M25.4 31.6 C26.7 29.2 30.7 30.5 33.5 30.3 C36.2 30.0 40.8 29.4 42.0 30.0 C43.3 30.7 41.4 32.9 40.9 34.2 C40.3 35.4 39.9 36.3 38.9 37.5 C37.9 38.8 36.3 40.4 35.0 41.4 C33.7 42.5 32.7 43.5 31.1 44.0 C29.6 44.6 26.6 46.6 25.7 44.6 C24.7 42.5 24.1 34.0 25.4 31.6Z" fill="none" stroke="#333" stroke-width="0.7"/>
<path d="M27.3 32.5 C28.3 30.6 31.3 31.7 33.5 31.5 C35.6 31.3 39.1 30.8 40.0 31.3 C41.0 31.8 39.5 33.5 39.1 34.5 C38.7 35.4 38.4 36.1 37.7 37.1 C36.9 38.0 35.7 39.2 34.7 40.1 C33.7 40.9 32.9 41.7 31.7 42.1 C30.5 42.5 28.2 44.0 27.5 42.5 C26.7 40.9 26.3 34.3 27.3 32.5Z" fill="none" stroke="#333" stroke-width="0.7"/>
<path d="M29.0 33.3 C29.7 32.0 31.9 32.7 33.5 32.6 C35.0 32.4 37.5 32.1 38.2 32.4 C38.9 32.8 37.8 34.1 37.6 34.7 C37.3 35.4 37.0 35.9 36.5 36.6 C35.9 37.3 35.0 38.2 34.3 38.8 C33.6 39.4 33.0 39.9 32.2 40.2 C31.3 40.5 29.7 41.7 29.1 40.5 C28.6 39.4 28.3 34.6 29.0 33.3Z" fill="none" stroke="#333" stroke-width="0.7"/>
<path d="M30.6 34.1 C31.1 33.3 32.5 33.7 33.5 33.6 C34.4 33.6 36.0 33.3 36.5 33.6 C36.9 33.8 36.2 34.6 36.1 35.0 C35.9 35.5 35.7 35.8 35.4 36.2 C35.0 36.6 34.5 37.2 34.0 37.6 C33.6 37.9 33.2 38.3 32.6 38.5 C32.1 38.7 31.1 39.4 30.7 38.7 C30.4 37.9 30.2 34.9 30.6 34.1Z" fill="none" stroke="#333" stroke-width="0.7"/>
<path d="M32.2 34.9 C32.4 34.5 33.0 34.7 33.5 34.7 C33.9 34.6 34.6 34.5 34.8 34.6 C35.0 34.7 34.7 35.1 34.6 35.3 C34.5 35.5 34.5 35.6 34.3 35.8 C34.2 36.0 33.9 36.2 33.7 36.4 C33.5 36.6 33.3 36.7 33.1 36.8 C32.9 36.9 32.4 37.2 32.3 36.9 C32.1 36.6 32.0 35.2 32.2 34.9Z" fill="none" stroke="#333" stroke-width="0.7"/>
<path d="M7.0 29.8 C8.2 28.7 14.2 29.3 16.7 29.4 C19.3 29.6 21.3 27.5 22.3 30.5 C23.2 33.4 23.3 44.4 22.6 47.2 C21.8 49.9 19.2 47.7 17.7 46.8 C16.3 46.0 15.1 44.0 13.7 42.2 C12.4 40.3 10.8 37.9 9.7 35.8 C8.6 33.7 5.9 30.8 7.0 29.8Z" fill="none" stroke="#555" stroke-width="0.7"/>
<path d="M9.1 31.6 C10.0 30.8 14.5 31.3 16.4 31.3 C18.3 31.4 19.8 29.9 20.6 32.1 C21.3 34.3 21.4 42.6 20.8 44.7 C20.2 46.8 18.3 45.1 17.2 44.5 C16.0 43.8 15.1 42.3 14.1 40.9 C13.1 39.5 11.9 37.7 11.1 36.1 C10.3 34.6 8.2 32.4 9.1 31.6Z" fill="none" stroke="#555" stroke-width="0.7"/>
<path d="M10.7 33.0 C11.4 32.5 14.7 32.8 16.1 32.9 C17.5 32.9 18.7 31.8 19.2 33.4 C19.8 35.1 19.8 41.2 19.4 42.7 C19.0 44.2 17.5 43.0 16.7 42.5 C15.9 42.1 15.2 41.0 14.5 39.9 C13.7 38.9 12.8 37.5 12.2 36.4 C11.6 35.3 10.1 33.6 10.7 33.0Z" fill="none" stroke="#555" stroke-width="0.7"/>
<path d="M12.3 34.4 C12.7 34.0 14.9 34.2 15.9 34.3 C16.8 34.3 17.6 33.5 18.0 34.6 C18.3 35.7 18.4 39.9 18.1 40.9 C17.8 41.9 16.8 41.1 16.3 40.8 C15.7 40.5 15.3 39.7 14.8 39.0 C14.3 38.3 13.7 37.4 13.3 36.6 C12.9 35.9 11.8 34.8 12.3 34.4Z" fill="none" stroke="#555" stroke-width="0.7"/>
<path d="M13.7 35.7 C14.0 35.5 15.2 35.6 15.7 35.6 C16.2 35.6 16.6 35.2 16.8 35.8 C17.0 36.4 17.0 38.6 16.8 39.2 C16.7 39.7 16.2 39.3 15.9 39.1 C15.6 38.9 15.3 38.5 15.1 38.1 C14.8 37.8 14.5 37.3 14.3 36.9 C14.0 36.5 13.5 35.9 13.7 35.7Z" fill="none" stroke="#555" stroke-width="0.7"/>
<ellipse cx="33.5" cy="35.1" rx="8.4" ry="4.7" fill="url(#rg)" fill-opacity="0.6"/>
<path d="M14.7 56.6 C15.6 54.8 18.0 54.0 19.7 53.9 C21.5 53.8 24.1 54.4 25.1 56.0 C26.0 57.7 25.6 60.9 25.4 63.6 C25.3 66.2 25.3 70.0 24.3 71.9 C23.2 73.8 20.8 75.0 19.2 75.0 C17.7 75.0 15.8 73.7 15.1 71.9 C14.3 70.2 14.8 67.0 14.7 64.4 C14.7 61.8 13.9 58.3 14.7 56.6Z" fill="#fff" stroke="#333" stroke-width="1.0"/>
<path d="M26.4 60.6 C27.4 58.3 30.1 55.8 32.6 54.9 C35.2 53.9 39.6 53.8 41.8 54.9 C44.1 55.9 45.4 58.5 46.2 61.1 C47.0 63.6 46.8 67.7 46.5 70.3 C46.2 72.9 46.0 75.3 44.3 76.6 C42.7 78.0 39.2 78.4 36.8 78.3 C34.4 78.2 31.5 77.7 29.8 76.1 C28.1 74.5 27.3 71.2 26.8 68.6 C26.2 66.0 25.5 62.9 26.4 60.6Z" fill="#fff" stroke="#333" stroke-width="1.0"/>
<path d="M27.1 60.9 C28.0 58.8 30.4 56.7 32.8 55.9 C35.2 55.0 39.4 55.0 41.5 55.9 C43.6 56.8 44.6 58.8 45.3 61.2 C46.0 63.6 46.0 67.8 45.7 70.3 C45.4 72.7 45.0 74.6 43.5 75.8 C42.0 77.0 39.0 77.4 36.8 77.3 C34.6 77.2 32.0 76.7 30.5 75.3 C28.9 73.8 28.2 71.0 27.6 68.6 C27.0 66.2 26.2 63.0 27.1 60.9Z" fill="none" stroke="#555" stroke-width="0.7"/>
<path d="M29.3 62.9 C30.0 61.2 31.9 59.5 33.8 58.9 C35.8 58.2 39.2 58.2 40.8 58.9 C42.5 59.6 43.4 61.2 43.9 63.2 C44.5 65.1 44.4 68.5 44.2 70.4 C44.0 72.4 43.6 73.9 42.4 74.9 C41.3 75.8 38.8 76.1 37.1 76.1 C35.3 76.0 33.2 75.6 32.0 74.5 C30.7 73.3 30.1 71.0 29.7 69.1 C29.2 67.2 28.6 64.6 29.3 62.9Z" fill="none" stroke="#555" stroke-width="0.7"/>
<path d="M31.0 64.5 C31.6 63.1 33.1 61.8 34.7 61.3 C36.2 60.7 39.0 60.7 40.3 61.3 C41.7 61.8 42.3 63.2 42.8 64.7 C43.2 66.3 43.2 69.0 43.0 70.6 C42.8 72.1 42.6 73.4 41.6 74.1 C40.7 74.9 38.7 75.2 37.3 75.1 C35.9 75.1 34.2 74.7 33.2 73.8 C32.2 72.9 31.7 71.0 31.3 69.5 C31.0 67.9 30.5 65.9 31.0 64.5Z" fill="none" stroke="#555" stroke-width="0.7"/>
<path d="M32.6 66.0 C33.1 64.9 34.3 63.9 35.5 63.5 C36.7 63.1 38.8 63.0 39.8 63.5 C40.9 63.9 41.4 65.0 41.7 66.2 C42.1 67.4 42.1 69.5 41.9 70.7 C41.8 71.9 41.6 72.9 40.8 73.5 C40.1 74.0 38.6 74.2 37.5 74.2 C36.4 74.2 35.1 73.9 34.3 73.2 C33.5 72.5 33.1 71.1 32.9 69.8 C32.6 68.6 32.2 67.1 32.6 66.0Z" fill="none" stroke="#555" stroke-width="0.7"/>
<path d="M34.1 67.4 C34.5 66.6 35.3 65.9 36.2 65.6 C37.1 65.3 38.6 65.3 39.4 65.6 C40.1 65.9 40.5 66.7 40.8 67.5 C41.0 68.4 41.0 69.9 40.9 70.8 C40.8 71.7 40.6 72.4 40.1 72.8 C39.6 73.2 38.4 73.4 37.7 73.3 C36.9 73.3 35.9 73.1 35.4 72.6 C34.8 72.1 34.5 71.1 34.3 70.2 C34.1 69.3 33.8 68.2 34.1 67.4Z" fill="none" stroke="#555" stroke-width="0.7"/>
<path d="M35.6 68.8 C35.8 68.3 36.4 67.8 36.9 67.6 C37.5 67.4 38.4 67.4 38.9 67.6 C39.4 67.8 39.6 68.3 39.8 68.8 C40.0 69.4 39.9 70.4 39.9 70.9 C39.8 71.5 39.7 71.9 39.4 72.2 C39.0 72.4 38.3 72.5 37.8 72.5 C37.3 72.5 36.7 72.4 36.4 72.1 C36.0 71.7 35.9 71.1 35.7 70.5 C35.6 70.0 35.4 69.3 35.6 68.8Z" fill="none" stroke="#555" stroke-width="0.7"/>
<path d="M37.0 70.1 C37.1 69.9 37.4 69.7 37.6 69.6 C37.9 69.5 38.3 69.5 38.5 69.6 C38.7 69.7 38.8 69.9 38.9 70.1 C38.9 70.4 38.9 70.8 38.9 71.0 C38.9 71.3 38.8 71.5 38.7 71.6 C38.5 71.7 38.2 71.7 38.0 71.7 C37.8 71.7 37.5 71.7 37.4 71.5 C37.2 71.4 37.1 71.1 37.1 70.9 C37.0 70.6 37.0 70.3 37.0 70.1Z" fill="none" stroke="#555" stroke-width="0.7"/>
<ellipse cx="38.1" cy="71.1" rx="5.0" ry="5.0" fill="url(#rg)" fill-opacity="0.4"/></g></g>
<line x1="22" y1="0" x2="22" y2="86.8" stroke="#7a7a7a" stroke-width="0.9"/>
<line x1="0" y1="47.8" x2="86.8" y2="47.8" stroke="#7a7a7a" stroke-width="0.9"/>
<rect x="0" y="0" width="86.8" height="86.8" fill="none" stroke="#888" stroke-width="1"/>
<text x="2.4" y="11.6" font-size="13.6" text-anchor="start" fill="#000">10</text>
<text x="85.2" y="11.6" font-size="13.6" text-anchor="end" fill="#000">69</text>
<text x="85.2" y="84.8" font-size="13.6" text-anchor="end" fill="#000">18</text>
</g>
<g transform="translate(128.5,328.5)">
<g clip-path="url(#boxclip)"><g transform="translate(-0.5,-0.5)"><g filter="url(#st1)">
<path d="M2.5 25.1 C6.1 21.9 15.8 24.5 23.4 24.3 C31.1 24.0 44.1 20.2 48.5 23.4 C53.0 26.6 49.9 37.6 50.2 43.5 C50.5 49.4 50.1 52.7 50.2 58.6 C50.3 64.4 53.0 74.7 51.0 78.6 C49.1 82.6 44.2 81.7 38.5 82.3 C32.8 82.9 22.7 82.7 16.7 82.3 C10.7 82.0 5.2 83.4 2.5 80.3 C-0.1 77.2 1.0 69.7 0.8 63.6 C0.7 57.4 1.4 49.9 1.7 43.5 C2.0 37.1 -1.1 28.3 2.5 25.1Z" fill="#000" fill-opacity="0.255"/>
<path d="M2.5 45.2 C6.1 42.2 19.1 45.2 23.4 46.0 C27.7 46.8 27.7 44.5 28.4 50.2 C29.1 55.9 31.2 75.3 27.6 80.3 C24.0 85.3 11.0 82.8 6.7 80.0 C2.4 77.2 2.4 69.4 1.7 63.6 C1.0 57.8 -1.1 48.1 2.5 45.2Z" fill="#000" fill-opacity="0.425"/>
<path d="M16.7 47.7 C19.5 46.4 31.1 46.1 33.5 47.7 C35.8 49.2 31.8 53.7 31.0 56.9 C30.1 60.1 28.3 63.5 28.1 66.9 C27.9 70.3 30.8 75.3 29.8 77.3 C28.7 79.3 23.6 80.7 21.8 79.0 C19.9 77.2 19.2 70.9 18.4 66.9 C17.6 63.0 17.0 58.4 16.7 55.2 C16.5 52.0 13.9 48.9 16.7 47.7Z" fill="#000" fill-opacity="0.680"/>
</g>
<g filter="url(#sd1)">
<path d="M6.7 38.5 C7.9 38.9 10.9 41.3 13.4 42.7 C15.9 44.0 18.7 45.8 21.8 46.5 C24.8 47.3 30.0 46.6 31.8 47.2 C33.6 47.8 34.3 49.8 32.6 50.2 C31.0 50.6 25.2 50.1 21.8 49.4 C18.3 48.7 14.4 47.5 11.7 46.0 C9.1 44.5 6.7 41.4 5.9 40.2 C5.0 38.9 5.4 38.1 6.7 38.5Z" fill="#000" fill-opacity="0.970"/>
<path d="M6.4 29.8 C7.7 28.4 13.9 28.1 16.7 28.1 C19.6 28.1 20.6 29.8 23.4 29.8 C26.2 29.7 30.0 28.2 33.5 27.8 C36.9 27.3 42.9 25.9 44.3 27.1 C45.8 28.3 43.2 32.7 42.2 35.1 C41.1 37.6 39.1 40.2 37.8 41.8 C36.5 43.4 34.6 43.5 34.3 44.8 C34.0 46.2 35.1 48.4 36.0 49.9 C36.8 51.3 38.0 51.8 39.3 53.5 C40.6 55.3 42.6 57.7 43.8 60.2 C45.0 62.7 46.3 66.0 46.5 68.6 C46.7 71.2 46.4 74.1 44.8 75.6 C43.3 77.2 39.7 77.8 37.1 77.8 C34.6 77.8 31.5 77.3 29.8 75.6 C28.1 74.0 26.9 70.7 26.8 67.8 C26.6 64.8 27.8 60.6 28.8 57.7 C29.8 54.8 32.1 52.1 32.6 50.2 C33.1 48.2 33.0 46.6 31.8 46.0 C30.5 45.4 27.2 46.7 25.1 46.5 C23.0 46.4 21.2 46.0 19.2 45.2 C17.2 44.3 14.8 42.9 13.1 41.5 C11.3 40.0 9.8 38.4 8.7 36.5 C7.6 34.5 5.0 31.2 6.4 29.8Z" fill="none" stroke="#000" stroke-width="4.5" stroke-opacity="0.97"/>
</g>
<path d="M6.4 29.8 C7.7 28.4 13.9 28.1 16.7 28.1 C19.6 28.1 20.6 29.8 23.4 29.8 C26.2 29.7 30.0 28.2 33.5 27.8 C36.9 27.3 42.9 25.9 44.3 27.1 C45.8 28.3 43.2 32.7 42.2 35.1 C41.1 37.6 39.1 40.2 37.8 41.8 C36.5 43.4 34.6 43.5 34.3 44.8 C34.0 46.2 35.1 48.4 36.0 49.9 C36.8 51.3 38.0 51.8 39.3 53.5 C40.6 55.3 42.6 57.7 43.8 60.2 C45.0 62.7 46.3 66.0 46.5 68.6 C46.7 71.2 46.4 74.1 44.8 75.6 C43.3 77.2 39.7 77.8 37.1 77.8 C34.6 77.8 31.5 77.3 29.8 75.6 C28.1 74.0 26.9 70.7 26.8 67.8 C26.6 64.8 27.8 60.6 28.8 57.7 C29.8 54.8 32.1 52.1 32.6 50.2 C33.1 48.2 33.0 46.6 31.8 46.0 C30.5 45.4 27.2 46.7 25.1 46.5 C23.0 46.4 21.2 46.0 19.2 45.2 C17.2 44.3 14.8 42.9 13.1 41.5 C11.3 40.0 9.8 38.4 8.7 36.5 C7.6 34.5 5.0 31.2 6.4 29.8Z" fill="#fff" stroke="#333" stroke-width="1.0"/>
<path d="M7.4 30.5 C9.6 29.5 19.9 28.1 22.6 30.5 C25.3 32.8 24.0 42.0 23.4 44.3 C22.9 46.7 20.9 44.9 19.2 44.3 C17.6 43.8 15.1 42.4 13.4 41.0 C11.7 39.6 10.2 37.7 9.2 36.0 C8.2 34.2 5.1 31.4 7.4 30.5Z" fill="none" stroke="#555" stroke-width="0.7"/>
<path d="M9.3 31.8 C10.9 31.1 18.7 30.1 20.7 31.8 C22.8 33.6 21.8 40.5 21.4 42.3 C20.9 44.0 19.5 42.7 18.2 42.3 C16.9 41.9 15.1 40.8 13.8 39.8 C12.5 38.7 11.4 37.3 10.6 36.0 C9.9 34.6 7.6 32.5 9.3 31.8Z" fill="none" stroke="#555" stroke-width="0.7"/>
<path d="M10.8 32.9 C12.0 32.4 17.8 31.6 19.2 32.9 C20.7 34.2 20.0 39.3 19.7 40.6 C19.4 41.9 18.3 40.9 17.4 40.6 C16.5 40.3 15.1 39.5 14.1 38.8 C13.2 38.0 12.4 36.9 11.8 36.0 C11.2 35.0 9.5 33.4 10.8 32.9Z" fill="none" stroke="#555" stroke-width="0.7"/>
<path d="M12.2 33.9 C13.0 33.6 16.9 33.0 17.9 33.9 C18.9 34.8 18.4 38.2 18.2 39.1 C18.0 40.0 17.2 39.3 16.6 39.1 C16.0 38.9 15.1 38.4 14.4 37.8 C13.8 37.3 13.2 36.6 12.9 36.0 C12.5 35.3 11.3 34.3 12.2 33.9Z" fill="none" stroke="#555" stroke-width="0.7"/>
<path d="M13.5 34.9 C14.0 34.7 16.0 34.4 16.6 34.9 C17.1 35.3 16.8 37.2 16.7 37.6 C16.6 38.1 16.2 37.8 15.9 37.6 C15.6 37.5 15.1 37.3 14.7 37.0 C14.4 36.7 14.1 36.3 13.9 36.0 C13.7 35.6 13.1 35.1 13.5 34.9Z" fill="none" stroke="#555" stroke-width="0.7"/>
<path d="M23.4 30.5 C25.0 27.7 30.1 28.9 33.5 28.4 C36.8 28.0 42.2 26.7 43.5 27.8 C44.8 28.8 42.5 32.6 41.5 34.8 C40.5 37.0 39.0 39.6 37.5 41.2 C36.0 42.7 34.8 43.5 32.6 44.2 C30.4 44.8 25.8 47.5 24.3 45.2 C22.7 42.9 21.9 33.2 23.4 30.5Z" fill="none" stroke="#333" stroke-width="0.7"/>
<path d="M25.7 31.6 C26.9 29.4 30.9 30.4 33.5 30.0 C36.1 29.7 40.2 28.7 41.3 29.5 C42.3 30.3 40.5 33.2 39.7 35.0 C38.9 36.7 37.7 38.7 36.6 39.9 C35.4 41.1 34.5 41.7 32.8 42.2 C31.1 42.7 27.5 44.8 26.3 43.0 C25.1 41.2 24.5 33.7 25.7 31.6Z" fill="none" stroke="#333" stroke-width="0.7"/>
<path d="M27.5 32.5 C28.4 30.8 31.5 31.5 33.5 31.3 C35.5 31.0 38.6 30.2 39.4 30.9 C40.2 31.5 38.8 33.7 38.2 35.1 C37.7 36.4 36.7 37.9 35.9 38.9 C35.0 39.8 34.3 40.3 33.0 40.7 C31.6 41.1 28.9 42.6 28.0 41.3 C27.1 39.9 26.6 34.1 27.5 32.5Z" fill="none" stroke="#333" stroke-width="0.7"/>
<path d="M29.1 33.3 C29.8 32.1 32.0 32.6 33.5 32.4 C34.9 32.3 37.2 31.7 37.8 32.2 C38.4 32.6 37.3 34.2 36.9 35.2 C36.5 36.1 35.8 37.2 35.2 37.9 C34.6 38.6 34.0 38.9 33.1 39.2 C32.2 39.5 30.2 40.6 29.5 39.6 C28.8 38.7 28.5 34.5 29.1 33.3Z" fill="none" stroke="#333" stroke-width="0.7"/>
<path d="M30.7 34.1 C31.1 33.3 32.6 33.7 33.5 33.6 C34.4 33.4 35.8 33.1 36.2 33.4 C36.6 33.7 35.9 34.7 35.6 35.3 C35.4 35.9 35.0 36.6 34.6 37.0 C34.2 37.4 33.8 37.7 33.2 37.8 C32.6 38.0 31.4 38.7 31.0 38.1 C30.5 37.5 30.3 34.9 30.7 34.1Z" fill="none" stroke="#333" stroke-width="0.7"/>
<path d="M32.3 34.9 C32.4 34.5 33.1 34.7 33.5 34.6 C33.9 34.6 34.5 34.4 34.7 34.5 C34.8 34.7 34.5 35.1 34.4 35.4 C34.3 35.7 34.1 36.0 33.9 36.2 C33.8 36.3 33.6 36.4 33.4 36.5 C33.1 36.6 32.5 36.9 32.4 36.6 C32.2 36.4 32.1 35.2 32.3 34.9Z" fill="none" stroke="#333" stroke-width="0.7"/>
<ellipse cx="33.5" cy="35.5" rx="8.0" ry="4.2" fill="url(#rg)" fill-opacity="0.7"/>
<ellipse cx="33.5" cy="35.5" rx="6.7" ry="3.7" fill="none" stroke="#222" stroke-width="0.84"/>
<path d="M28.1 67.8 C28.0 65.1 28.9 61.2 29.8 58.6 C30.7 55.9 32.3 53.0 33.5 51.9 C34.6 50.8 35.6 51.2 36.8 51.9 C38.0 52.6 39.3 54.3 40.7 56.0 C42.0 57.8 44.0 60.1 44.8 62.2 C45.7 64.4 45.8 66.8 45.7 68.9 C45.5 71.0 45.3 73.5 43.8 74.8 C42.4 76.1 39.4 76.7 37.1 76.6 C34.9 76.6 32.0 76.1 30.5 74.6 C28.9 73.1 28.2 70.4 28.1 67.8Z" fill="none" stroke="#555" stroke-width="0.7"/>
<path d="M30.2 68.4 C30.1 66.3 30.8 63.1 31.6 61.0 C32.3 58.9 33.6 56.5 34.5 55.6 C35.5 54.7 36.2 55.1 37.2 55.6 C38.2 56.2 39.2 57.6 40.3 59.0 C41.4 60.4 43.0 62.3 43.7 64.0 C44.3 65.7 44.5 67.7 44.3 69.4 C44.2 71.0 44.0 73.0 42.8 74.1 C41.7 75.1 39.3 75.6 37.5 75.5 C35.7 75.5 33.3 75.1 32.1 73.9 C30.9 72.7 30.3 70.6 30.2 68.4Z" fill="none" stroke="#555" stroke-width="0.7"/>
<path d="M31.9 68.9 C31.8 67.2 32.4 64.7 33.0 63.0 C33.6 61.3 34.6 59.4 35.4 58.7 C36.1 58.0 36.7 58.2 37.5 58.7 C38.3 59.1 39.1 60.3 40.0 61.4 C40.9 62.5 42.2 64.0 42.7 65.4 C43.2 66.8 43.4 68.3 43.2 69.7 C43.1 71.1 43.0 72.7 42.1 73.5 C41.1 74.3 39.2 74.7 37.7 74.7 C36.3 74.7 34.4 74.3 33.4 73.4 C32.4 72.4 32.0 70.7 31.9 68.9Z" fill="none" stroke="#555" stroke-width="0.7"/>
<path d="M33.5 69.4 C33.4 68.1 33.8 66.1 34.3 64.8 C34.7 63.5 35.5 62.0 36.1 61.5 C36.7 60.9 37.2 61.1 37.8 61.5 C38.4 61.8 39.1 62.7 39.7 63.6 C40.4 64.4 41.4 65.6 41.8 66.7 C42.3 67.7 42.3 69.0 42.3 70.0 C42.2 71.1 42.0 72.3 41.3 72.9 C40.6 73.6 39.1 73.9 38.0 73.9 C36.9 73.9 35.4 73.6 34.6 72.9 C33.9 72.1 33.5 70.8 33.5 69.4Z" fill="none" stroke="#555" stroke-width="0.7"/>
<path d="M34.9 69.9 C34.9 68.9 35.2 67.5 35.5 66.6 C35.9 65.6 36.5 64.5 36.9 64.1 C37.3 63.7 37.7 63.9 38.1 64.1 C38.5 64.4 39.0 65.0 39.5 65.6 C40.0 66.3 40.7 67.1 41.0 67.9 C41.3 68.7 41.4 69.6 41.3 70.3 C41.2 71.1 41.1 72.0 40.6 72.4 C40.1 72.9 39.0 73.1 38.2 73.1 C37.4 73.1 36.3 72.9 35.8 72.4 C35.2 71.8 35.0 70.9 34.9 69.9Z" fill="none" stroke="#555" stroke-width="0.7"/>
<path d="M36.4 70.3 C36.3 69.7 36.5 68.8 36.7 68.2 C36.9 67.6 37.3 67.0 37.6 66.7 C37.9 66.4 38.1 66.5 38.4 66.7 C38.6 66.9 38.9 67.3 39.2 67.7 C39.5 68.1 40.0 68.6 40.2 69.1 C40.4 69.6 40.4 70.1 40.4 70.6 C40.3 71.1 40.3 71.7 40.0 71.9 C39.6 72.2 38.9 72.4 38.4 72.4 C37.9 72.4 37.2 72.2 36.9 71.9 C36.6 71.6 36.4 71.0 36.4 70.3Z" fill="none" stroke="#555" stroke-width="0.7"/>
<path d="M37.7 70.8 C37.7 70.5 37.8 70.1 37.9 69.9 C38.0 69.6 38.2 69.3 38.3 69.2 C38.4 69.1 38.5 69.1 38.6 69.2 C38.7 69.3 38.9 69.4 39.0 69.6 C39.1 69.8 39.3 70.0 39.4 70.2 C39.5 70.4 39.5 70.7 39.5 70.9 C39.5 71.1 39.5 71.3 39.3 71.5 C39.2 71.6 38.9 71.7 38.6 71.7 C38.4 71.7 38.1 71.6 38.0 71.5 C37.8 71.3 37.8 71.0 37.7 70.8Z" fill="none" stroke="#555" stroke-width="0.7"/>
<ellipse cx="38.8" cy="71.1" rx="4.2" ry="4.2" fill="url(#rg)" fill-opacity="0.35"/></g></g>
<line x1="22.9" y1="0" x2="22.9" y2="86.8" stroke="#7a7a7a" stroke-width="0.9"/>
<line x1="0" y1="48" x2="86.8" y2="48" stroke="#7a7a7a" stroke-width="0.9"/>
<rect x="0" y="0" width="86.8" height="86.8" fill="none" stroke="#888" stroke-width="1"/>
<text x="2.4" y="11.6" font-size="13.6" text-anchor="start" fill="#000">13</text>
<text x="85.2" y="11.6" font-size="13.6" text-anchor="end" fill="#000">65</text>
<text x="85.2" y="84.8" font-size="13.6" text-anchor="end" fill="#000">21</text>
</g>
<g transform="translate(220.8,328.5)">
<g clip-path="url(#boxclip)"><g transform="translate(0.2,-0.5)"><g filter="url(#st2)">
<path d="M2.5 29.3 C6.1 26.7 16.0 28.4 23.4 28.1 C30.8 27.8 42.8 24.5 46.8 27.6 C50.9 30.7 47.7 41.4 47.7 46.8 C47.7 52.3 46.8 54.9 46.8 60.2 C46.8 65.5 48.8 75.0 47.7 78.6 C46.6 82.3 45.3 81.8 40.2 82.3 C35.0 82.9 22.6 82.6 16.7 82.0 C10.9 81.4 7.4 81.7 5.0 78.6 C2.6 75.6 3.1 69.4 2.5 63.6 C2.0 57.7 1.7 49.2 1.7 43.5 C1.7 37.8 -1.1 31.8 2.5 29.3Z" fill="#000" fill-opacity="0.255"/>
<path d="M4.2 46.8 C7.4 44.3 20.8 43.2 24.3 48.5 C27.7 53.8 27.5 74.0 25.1 78.6 C22.7 83.2 13.4 78.6 10.0 76.1 C6.6 73.6 5.7 68.5 4.7 63.6 C3.7 58.7 0.9 49.4 4.2 46.8Z" fill="#000" fill-opacity="0.425"/>
<path d="M15.9 49.4 C17.3 47.8 23.7 48.1 25.1 51.0 C26.5 54.0 24.3 62.5 24.3 66.9 C24.3 71.4 25.8 76.5 25.1 77.8 C24.3 79.1 21.2 77.4 19.7 74.5 C18.3 71.5 17.0 64.4 16.4 60.2 C15.8 56.0 14.4 50.9 15.9 49.4Z" fill="#000" fill-opacity="0.612"/>
</g>
<g filter="url(#sd2)">
<path d="M5.0 33.5 C6.4 32.3 10.5 31.2 13.4 31.0 C16.3 30.7 19.9 32.1 22.6 32.1 C25.2 32.1 26.2 31.1 29.3 31.0 C32.3 30.8 38.9 29.7 41.0 31.0 C43.1 32.2 42.1 36.1 41.8 38.5 C41.5 40.9 40.3 43.2 39.3 45.2 C38.3 47.1 36.8 48.8 36.0 50.2 C35.1 51.6 33.6 52.3 34.3 53.5 C35.0 54.8 38.6 55.5 40.2 57.7 C41.7 60.0 43.4 63.9 43.8 66.9 C44.3 70.0 43.8 74.1 42.7 76.1 C41.5 78.1 39.2 78.7 36.8 79.0 C34.4 79.2 30.5 79.0 28.4 77.8 C26.4 76.6 25.5 74.3 24.8 71.9 C24.1 69.6 24.1 66.1 24.3 63.6 C24.5 61.1 26.1 58.7 25.9 56.9 C25.8 55.1 24.7 53.8 23.4 52.7 C22.2 51.6 20.1 51.0 18.4 50.2 C16.7 49.4 15.1 48.9 13.4 47.7 C11.7 46.4 9.7 44.3 8.4 42.7 C7.0 41.0 5.9 39.2 5.4 37.6 C4.8 36.1 3.7 34.6 5.0 33.5Z" fill="none" stroke="#000" stroke-width="4.5" stroke-opacity="0.75"/>
</g>
<path d="M5.0 33.5 C6.4 32.3 10.5 31.2 13.4 31.0 C16.3 30.7 19.9 32.1 22.6 32.1 C25.2 32.1 26.2 31.1 29.3 31.0 C32.3 30.8 38.9 29.7 41.0 31.0 C43.1 32.2 42.1 36.1 41.8 38.5 C41.5 40.9 40.3 43.2 39.3 45.2 C38.3 47.1 36.8 48.8 36.0 50.2 C35.1 51.6 33.6 52.3 34.3 53.5 C35.0 54.8 38.6 55.5 40.2 57.7 C41.7 60.0 43.4 63.9 43.8 66.9 C44.3 70.0 43.8 74.1 42.7 76.1 C41.5 78.1 39.2 78.7 36.8 79.0 C34.4 79.2 30.5 79.0 28.4 77.8 C26.4 76.6 25.5 74.3 24.8 71.9 C24.1 69.6 24.1 66.1 24.3 63.6 C24.5 61.1 26.1 58.7 25.9 56.9 C25.8 55.1 24.7 53.8 23.4 52.7 C22.2 51.6 20.1 51.0 18.4 50.2 C16.7 49.4 15.1 48.9 13.4 47.7 C11.7 46.4 9.7 44.3 8.4 42.7 C7.0 41.0 5.9 39.2 5.4 37.6 C4.8 36.1 3.7 34.6 5.0 33.5Z" fill="#fff" stroke="#333" stroke-width="1.0"/>
<path d="M5.9 34.0 C6.6 32.2 10.7 32.0 13.4 31.8 C16.1 31.6 20.6 30.1 22.1 32.8 C23.6 35.4 23.2 44.9 22.6 47.7 C22.0 50.4 19.9 49.5 18.4 49.4 C16.9 49.2 15.0 48.0 13.4 46.8 C11.8 45.6 10.0 44.3 8.7 42.2 C7.4 40.0 5.1 35.7 5.9 34.0Z" fill="none" stroke="#555" stroke-width="0.7"/>
<path d="M7.7 35.3 C8.3 33.9 11.4 33.8 13.6 33.6 C15.7 33.4 19.2 32.3 20.4 34.4 C21.6 36.5 21.3 43.9 20.8 46.1 C20.3 48.2 18.7 47.5 17.5 47.4 C16.3 47.3 14.8 46.3 13.6 45.4 C12.3 44.5 10.9 43.4 9.9 41.7 C8.9 40.0 7.1 36.7 7.7 35.3Z" fill="none" stroke="#555" stroke-width="0.7"/>
<path d="M9.1 36.4 C9.6 35.3 12.1 35.2 13.7 35.1 C15.4 34.9 18.1 34.0 19.0 35.7 C20.0 37.3 19.7 43.1 19.3 44.7 C18.9 46.4 17.7 45.9 16.8 45.8 C15.8 45.7 14.7 45.0 13.7 44.2 C12.7 43.5 11.6 42.7 10.9 41.4 C10.1 40.1 8.6 37.4 9.1 36.4Z" fill="none" stroke="#555" stroke-width="0.7"/>
<path d="M10.5 37.4 C10.8 36.6 12.6 36.5 13.8 36.4 C15.1 36.3 17.1 35.7 17.8 36.8 C18.4 38.0 18.3 42.3 18.0 43.5 C17.7 44.8 16.8 44.4 16.1 44.3 C15.4 44.2 14.6 43.7 13.8 43.2 C13.1 42.6 12.3 42.0 11.7 41.1 C11.2 40.1 10.1 38.1 10.5 37.4Z" fill="none" stroke="#555" stroke-width="0.7"/>
<path d="M11.7 38.3 C12.0 37.8 13.2 37.7 14.0 37.7 C14.8 37.6 16.1 37.2 16.6 38.0 C17.0 38.8 16.9 41.6 16.7 42.4 C16.5 43.2 15.9 42.9 15.5 42.9 C15.0 42.8 14.5 42.5 14.0 42.1 C13.5 41.8 13.0 41.4 12.6 40.7 C12.2 40.1 11.5 38.8 11.7 38.3Z" fill="none" stroke="#555" stroke-width="0.7"/>
<path d="M13.0 39.2 C13.1 39.0 13.7 38.9 14.1 38.9 C14.5 38.9 15.2 38.7 15.4 39.0 C15.6 39.4 15.6 40.9 15.5 41.3 C15.4 41.7 15.1 41.6 14.8 41.5 C14.6 41.5 14.3 41.3 14.1 41.2 C13.9 41.0 13.6 40.8 13.4 40.5 C13.2 40.1 12.8 39.5 13.0 39.2Z" fill="none" stroke="#555" stroke-width="0.7"/>
<ellipse cx="14.2" cy="40.2" rx="7.5" ry="6.7" fill="url(#rg)" fill-opacity="0.3"/>
<ellipse cx="31.0" cy="39.3" rx="7.5" ry="5.0" fill="url(#rg)" fill-opacity="0.3"/>
<ellipse cx="31.0" cy="39.3" rx="8.0" ry="5.4" fill="none" stroke="#111" stroke-width="1.34"/>
<path d="M25.1 37.6 C26.1 36.6 28.9 35.6 31.0 35.5 C33.0 35.4 36.2 36.1 37.1 37.1 C38.1 38.2 37.8 40.8 36.8 41.8 C35.8 42.9 32.9 43.5 31.0 43.5 C29.0 43.5 26.1 42.8 25.1 41.8 C24.1 40.9 24.1 38.7 25.1 37.6Z" fill="none" stroke="#444" stroke-width="0.7"/>
<path d="M27.4 38.4 C28.0 37.7 29.7 37.1 31.0 37.0 C32.2 37.0 34.1 37.4 34.7 38.1 C35.3 38.7 35.2 40.3 34.5 40.9 C33.9 41.6 32.1 41.9 31.0 41.9 C29.8 41.9 28.0 41.5 27.4 40.9 C26.8 40.3 26.8 39.0 27.4 38.4Z" fill="none" stroke="#444" stroke-width="0.7"/>
<path d="M29.2 38.9 C29.5 38.6 30.3 38.3 31.0 38.3 C31.6 38.3 32.5 38.5 32.8 38.8 C33.1 39.1 33.0 39.9 32.7 40.2 C32.4 40.5 31.5 40.7 31.0 40.7 C30.4 40.7 29.5 40.5 29.2 40.2 C28.9 39.9 28.9 39.3 29.2 38.9Z" fill="none" stroke="#444" stroke-width="0.7"/>
<path d="M25.1 63.6 C25.4 61.2 25.4 59.1 26.8 57.7 C28.2 56.3 31.2 55.1 33.5 55.2 C35.7 55.4 38.5 56.6 40.2 58.6 C41.8 60.5 42.9 64.1 43.2 66.9 C43.4 69.7 43.0 73.5 41.8 75.3 C40.6 77.1 38.1 77.5 36.0 77.8 C33.8 78.1 30.6 77.9 28.8 77.0 C27.0 76.0 25.7 74.2 25.1 71.9 C24.5 69.7 24.8 65.9 25.1 63.6Z" fill="none" stroke="#555" stroke-width="0.7"/>
<path d="M27.1 64.7 C27.3 62.8 27.3 61.1 28.4 60.0 C29.5 58.9 32.0 57.9 33.8 58.0 C35.6 58.1 37.9 59.1 39.2 60.7 C40.5 62.3 41.4 65.2 41.6 67.4 C41.8 69.7 41.5 72.7 40.5 74.1 C39.5 75.6 37.6 75.9 35.8 76.2 C34.1 76.4 31.5 76.3 30.0 75.5 C28.6 74.7 27.6 73.2 27.1 71.4 C26.6 69.7 26.8 66.6 27.1 64.7Z" fill="none" stroke="#555" stroke-width="0.7"/>
<path d="M28.6 65.6 C28.8 64.1 28.8 62.8 29.7 61.9 C30.6 61.0 32.6 60.2 34.1 60.2 C35.5 60.3 37.3 61.1 38.4 62.4 C39.4 63.7 40.1 66.0 40.3 67.8 C40.5 69.6 40.2 72.0 39.5 73.2 C38.7 74.4 37.1 74.7 35.7 74.8 C34.3 75.0 32.2 74.9 31.0 74.3 C29.9 73.7 29.0 72.5 28.6 71.1 C28.3 69.6 28.5 67.2 28.6 65.6Z" fill="none" stroke="#555" stroke-width="0.7"/>
<path d="M30.1 66.5 C30.2 65.3 30.2 64.3 30.9 63.6 C31.6 62.9 33.2 62.2 34.3 62.3 C35.4 62.4 36.8 63.0 37.6 64.0 C38.5 65.0 39.0 66.8 39.2 68.2 C39.3 69.6 39.1 71.5 38.5 72.4 C37.9 73.3 36.6 73.5 35.6 73.6 C34.5 73.8 32.9 73.7 32.0 73.2 C31.0 72.7 30.4 71.8 30.1 70.7 C29.8 69.6 30.0 67.7 30.1 66.5Z" fill="none" stroke="#555" stroke-width="0.7"/>
<path d="M31.5 67.3 C31.6 66.5 31.6 65.7 32.1 65.2 C32.6 64.7 33.7 64.2 34.5 64.3 C35.3 64.3 36.4 64.8 37.0 65.5 C37.5 66.2 37.9 67.5 38.0 68.5 C38.1 69.5 38.0 70.9 37.6 71.6 C37.1 72.2 36.2 72.4 35.4 72.5 C34.6 72.6 33.5 72.5 32.8 72.2 C32.2 71.8 31.7 71.2 31.5 70.3 C31.3 69.5 31.4 68.2 31.5 67.3Z" fill="none" stroke="#555" stroke-width="0.7"/>
<path d="M32.8 68.1 C32.9 67.5 32.9 67.1 33.2 66.7 C33.5 66.4 34.2 66.1 34.8 66.2 C35.3 66.2 35.9 66.5 36.3 66.9 C36.7 67.4 36.9 68.2 37.0 68.9 C37.0 69.5 36.9 70.4 36.7 70.8 C36.4 71.2 35.8 71.3 35.3 71.4 C34.8 71.4 34.1 71.4 33.7 71.2 C33.3 70.9 33.0 70.5 32.8 70.0 C32.7 69.5 32.8 68.6 32.8 68.1Z" fill="none" stroke="#555" stroke-width="0.7"/>
<path d="M34.1 68.8 C34.2 68.6 34.2 68.4 34.3 68.3 C34.4 68.1 34.7 68.0 35.0 68.0 C35.2 68.0 35.5 68.2 35.6 68.3 C35.8 68.5 35.9 68.9 35.9 69.2 C36.0 69.5 35.9 69.8 35.8 70.0 C35.7 70.2 35.4 70.2 35.2 70.3 C35.0 70.3 34.7 70.3 34.5 70.2 C34.3 70.1 34.2 69.9 34.1 69.7 C34.1 69.5 34.1 69.1 34.1 68.8Z" fill="none" stroke="#555" stroke-width="0.7"/>
<ellipse cx="35.1" cy="69.4" rx="5.9" ry="7.0" fill="url(#rg)" fill-opacity="0.35"/></g></g>
<line x1="21.9" y1="0" x2="21.9" y2="86.8" stroke="#7a7a7a" stroke-width="0.9"/>
<line x1="0" y1="48" x2="86.8" y2="48" stroke="#7a7a7a" stroke-width="0.9"/>
<rect x="0" y="0" width="86.8" height="86.8" fill="none" stroke="#888" stroke-width="1"/>
<text x="2.4" y="11.6" font-size="13.6" text-anchor="start" fill="#000">15</text>
<text x="85.2" y="11.6" font-size="13.6" text-anchor="end" fill="#000">53</text>
<text x="85.2" y="84.8" font-size="13.6" text-anchor="end" fill="#000">28</text>
</g>
<g transform="translate(313,328.5)">
<g clip-path="url(#boxclip)"><g transform="translate(0,-0.5)"><g filter="url(#st3)">
<path d="M48.5 13.4 C50.5 9.8 57.7 8.6 60.2 11.7 C62.7 14.8 65.5 28.2 63.6 31.8 C61.6 35.4 51.0 36.5 48.5 33.5 C46.0 30.4 46.6 17.0 48.5 13.4Z" fill="#000" fill-opacity="0.153"/>
<path d="M3.3 35.1 C5.6 31.0 10.3 30.8 16.7 30.1 C23.1 29.4 33.7 31.2 41.8 31.0 C49.9 30.7 60.8 25.2 65.3 28.4 C69.7 31.6 68.2 42.4 68.6 50.2 C69.0 58.0 68.6 69.9 67.8 75.3 C66.9 80.7 67.9 81.4 63.6 82.8 C59.3 84.2 49.6 83.8 41.8 83.7 C34.0 83.5 22.9 83.4 16.7 82.0 C10.6 80.6 7.3 79.8 5.0 75.3 C2.8 70.8 3.6 61.9 3.3 55.2 C3.1 48.5 1.1 39.3 3.3 35.1Z" fill="#000" fill-opacity="0.340"/>
<path d="M10.4 43.8 C10.8 42.6 12.0 40.9 14.2 40.2 C16.4 39.4 20.8 38.9 23.4 39.5 C26.1 40.0 29.8 42.1 30.1 43.5 C30.4 44.9 27.3 46.9 25.1 47.9 C22.9 48.8 19.0 49.2 16.7 49.2 C14.4 49.1 12.4 48.4 11.4 47.5 C10.3 46.6 9.9 45.1 10.4 43.8Z" fill="none" stroke="#000" stroke-width="3.0" stroke-opacity="0.3"/>
<path d="M39.3 43.5 C39.9 41.4 41.4 39.0 43.5 37.6 C45.6 36.3 48.7 35.8 51.9 35.1 C55.1 34.4 60.8 32.3 62.7 33.5 C64.7 34.6 63.9 38.5 63.6 41.8 C63.3 45.2 61.3 49.4 61.1 53.5 C60.8 57.7 62.0 62.9 61.9 66.9 C61.8 71.0 61.6 75.8 60.2 77.8 C58.8 79.8 55.2 79.3 53.5 78.6 C51.9 77.9 51.2 75.8 50.2 73.6 C49.2 71.4 48.9 68.0 47.7 65.3 C46.4 62.5 43.9 59.4 42.7 56.9 C41.4 54.4 40.7 52.4 40.2 50.2 C39.6 48.0 38.8 45.6 39.3 43.5Z" fill="none" stroke="#000" stroke-width="3.0" stroke-opacity="0.3"/>
</g>
<g filter="url(#sd3)">
<path d="M8.0 41.0 C9.0 37.1 10.3 36.7 12.5 35.5 C14.8 34.2 17.7 33.6 21.8 33.5 C25.8 33.4 32.1 34.9 36.8 34.8 C41.5 34.7 45.6 33.8 50.2 33.1 C54.8 32.5 61.7 30.1 64.4 31.0 C67.1 31.8 66.5 34.4 66.6 38.5 C66.7 42.5 65.0 49.9 64.9 55.2 C64.8 60.5 66.4 66.4 66.1 70.3 C65.8 74.2 65.3 76.9 63.2 78.6 C61.2 80.4 57.7 80.5 53.5 81.0 C49.4 81.4 43.5 81.4 38.5 81.3 C33.5 81.2 27.5 81.0 23.4 80.3 C19.4 79.6 16.7 78.8 14.2 77.3 C11.7 75.8 9.6 74.2 8.4 71.1 C7.1 68.0 6.7 63.6 6.7 58.6 C6.6 53.5 7.1 44.8 8.0 41.0Z" fill="#000" fill-opacity="1.000"/>
</g>
<path d="M10.4 43.8 C10.8 42.6 12.0 40.9 14.2 40.2 C16.4 39.4 20.8 38.9 23.4 39.5 C26.1 40.0 29.8 42.1 30.1 43.5 C30.4 44.9 27.3 46.9 25.1 47.9 C22.9 48.8 19.0 49.2 16.7 49.2 C14.4 49.1 12.4 48.4 11.4 47.5 C10.3 46.6 9.9 45.1 10.4 43.8Z" fill="#fff" stroke="#333" stroke-width="1.0"/>
<path d="M12.0 43.8 C12.5 42.9 13.2 41.7 15.1 41.2 C16.9 40.6 20.9 40.3 23.1 40.7 C25.3 41.0 28.2 42.5 28.4 43.5 C28.7 44.5 26.4 46.1 24.4 46.8 C22.5 47.6 18.7 48.0 16.7 48.0 C14.7 48.0 13.2 47.4 12.4 46.7 C11.6 46.0 11.6 44.8 12.0 43.8Z" fill="none" stroke="#555" stroke-width="0.7"/>
<path d="M14.2 44.0 C14.5 43.4 15.0 42.6 16.1 42.2 C17.3 41.9 19.9 41.7 21.3 41.9 C22.7 42.2 24.6 43.1 24.7 43.7 C24.8 44.4 23.4 45.4 22.1 45.9 C20.9 46.4 18.5 46.6 17.2 46.6 C15.9 46.6 14.9 46.2 14.4 45.8 C13.9 45.3 13.9 44.5 14.2 44.0Z" fill="none" stroke="#555" stroke-width="0.7"/>
<path d="M16.0 44.1 C16.1 43.7 16.4 43.3 17.0 43.1 C17.7 42.9 19.0 42.8 19.8 42.9 C20.6 43.1 21.6 43.6 21.7 43.9 C21.8 44.3 21.0 44.8 20.3 45.1 C19.6 45.4 18.3 45.5 17.6 45.5 C16.9 45.5 16.4 45.3 16.1 45.0 C15.8 44.8 15.8 44.4 16.0 44.1Z" fill="none" stroke="#555" stroke-width="0.7"/>
<path d="M39.3 43.5 C39.9 41.4 41.4 39.0 43.5 37.6 C45.6 36.3 48.7 35.8 51.9 35.1 C55.1 34.4 60.8 32.3 62.7 33.5 C64.7 34.6 63.9 38.5 63.6 41.8 C63.3 45.2 61.3 49.4 61.1 53.5 C60.8 57.7 62.0 62.9 61.9 66.9 C61.8 71.0 61.6 75.8 60.2 77.8 C58.8 79.8 55.2 79.3 53.5 78.6 C51.9 77.9 51.2 75.8 50.2 73.6 C49.2 71.4 48.9 68.0 47.7 65.3 C46.4 62.5 43.9 59.4 42.7 56.9 C41.4 54.4 40.7 52.4 40.2 50.2 C39.6 48.0 38.8 45.6 39.3 43.5Z" fill="#fff" stroke="#333" stroke-width="1.0"/>
<path d="M41.8 44.3 C42.4 42.2 43.5 39.2 46.8 37.6 C50.2 36.1 59.3 33.8 61.9 34.8 C64.5 35.8 62.8 39.8 62.2 43.5 C61.7 47.2 60.6 54.9 58.6 56.9 C56.6 58.8 52.7 56.3 50.2 55.2 C47.7 54.1 44.9 52.0 43.5 50.2 C42.1 48.4 41.3 46.4 41.8 44.3Z" fill="none" stroke="#444" stroke-width="0.7"/>
<path d="M44.7 44.5 C45.1 42.9 46.0 40.6 48.6 39.4 C51.2 38.1 58.2 36.4 60.2 37.2 C62.2 37.9 60.9 41.0 60.4 43.9 C60.0 46.7 59.1 52.7 57.6 54.2 C56.1 55.7 53.1 53.8 51.2 52.9 C49.2 52.1 47.1 50.4 46.0 49.0 C44.9 47.6 44.3 46.1 44.7 44.5Z" fill="none" stroke="#444" stroke-width="0.7"/>
<path d="M47.0 44.7 C47.3 43.5 48.0 41.7 50.0 40.8 C51.9 39.8 57.3 38.5 58.8 39.1 C60.3 39.7 59.3 42.0 59.0 44.2 C58.7 46.4 58.0 50.9 56.8 52.0 C55.7 53.2 53.4 51.7 51.9 51.1 C50.4 50.4 48.8 49.2 48.0 48.1 C47.2 47.1 46.7 45.9 47.0 44.7Z" fill="none" stroke="#444" stroke-width="0.7"/>
<path d="M49.1 44.8 C49.4 44.0 49.8 42.7 51.2 42.0 C52.6 41.4 56.4 40.4 57.5 40.8 C58.6 41.3 57.9 42.9 57.7 44.5 C57.4 46.0 57.0 49.2 56.1 50.1 C55.3 50.9 53.7 49.8 52.6 49.4 C51.6 48.9 50.4 48.0 49.8 47.3 C49.3 46.5 48.9 45.7 49.1 44.8Z" fill="none" stroke="#444" stroke-width="0.7"/>
<path d="M51.2 45.0 C51.3 44.4 51.6 43.7 52.5 43.2 C53.3 42.8 55.6 42.3 56.3 42.5 C57.0 42.8 56.5 43.8 56.4 44.7 C56.2 45.7 56.0 47.7 55.4 48.2 C54.9 48.7 53.9 48.0 53.3 47.7 C52.7 47.5 52.0 46.9 51.6 46.5 C51.2 46.0 51.0 45.5 51.2 45.0Z" fill="none" stroke="#444" stroke-width="0.7"/>
<path d="M53.1 45.1 C53.2 44.9 53.3 44.6 53.6 44.4 C54.0 44.3 54.9 44.0 55.1 44.1 C55.4 44.2 55.2 44.6 55.2 45.0 C55.1 45.4 55.0 46.1 54.8 46.3 C54.6 46.5 54.2 46.3 54.0 46.2 C53.7 46.1 53.4 45.9 53.3 45.7 C53.1 45.5 53.1 45.3 53.1 45.1Z" fill="none" stroke="#444" stroke-width="0.7"/>
<path d="M48.5 63.6 C49.2 60.8 53.1 57.7 55.2 56.9 C57.3 56.0 60.1 55.8 61.1 58.6 C62.0 61.3 61.8 70.4 61.1 73.6 C60.4 76.8 58.6 77.8 56.9 77.8 C55.2 77.8 52.4 76.0 51.0 73.6 C49.6 71.2 47.8 66.4 48.5 63.6Z" fill="none" stroke="#555" stroke-width="0.7"/>
<path d="M50.7 65.4 C51.2 63.4 54.0 61.1 55.6 60.5 C57.1 59.9 59.1 59.7 59.8 61.7 C60.6 63.8 60.4 70.4 59.8 72.7 C59.3 75.0 58.0 75.8 56.8 75.8 C55.6 75.8 53.5 74.4 52.5 72.7 C51.5 71.0 50.2 67.4 50.7 65.4Z" fill="none" stroke="#555" stroke-width="0.7"/>
<path d="M52.4 66.8 C52.8 65.4 54.8 63.8 55.9 63.4 C56.9 63.0 58.4 62.8 58.9 64.3 C59.4 65.7 59.2 70.3 58.9 72.0 C58.5 73.6 57.6 74.1 56.7 74.1 C55.9 74.1 54.4 73.2 53.7 72.0 C53.0 70.8 52.1 68.3 52.4 66.8Z" fill="none" stroke="#555" stroke-width="0.7"/>
<path d="M54.1 68.2 C54.3 67.3 55.5 66.4 56.1 66.1 C56.8 65.8 57.7 65.8 58.0 66.6 C58.3 67.5 58.2 70.3 58.0 71.3 C57.7 72.3 57.2 72.6 56.7 72.6 C56.1 72.6 55.3 72.0 54.8 71.3 C54.4 70.6 53.8 69.1 54.1 68.2Z" fill="none" stroke="#555" stroke-width="0.7"/>
<path d="M55.6 69.5 C55.7 69.1 56.1 68.8 56.4 68.7 C56.6 68.6 57.0 68.5 57.1 68.9 C57.2 69.2 57.2 70.3 57.1 70.7 C57.0 71.1 56.8 71.2 56.6 71.2 C56.4 71.2 56.1 71.0 55.9 70.7 C55.7 70.4 55.5 69.8 55.6 69.5Z" fill="none" stroke="#555" stroke-width="0.7"/>
<ellipse cx="54.4" cy="44.8" rx="6.7" ry="8.4" fill="url(#rg)" fill-opacity="0.55"/></g></g>
<line x1="34.8" y1="0" x2="34.8" y2="86.8" stroke="#7a7a7a" stroke-width="0.9"/>
<line x1="0" y1="58" x2="86.8" y2="58" stroke="#7a7a7a" stroke-width="0.9"/>
<rect x="0" y="0" width="86.8" height="86.8" fill="none" stroke="#888" stroke-width="1"/>
<text x="2.4" y="11.6" font-size="13.6" text-anchor="start" fill="#000">4</text>
<text x="85.2" y="11.6" font-size="13.6" text-anchor="end" fill="#000">80</text>
<text x="85.2" y="84.8" font-size="13.6" text-anchor="end" fill="#000">15</text>
</g>
<g transform="translate(404.5,328.5)">
<g clip-path="url(#boxclip)"><g transform="translate(-0.5,-0.5)"><g filter="url(#st0)">
<path d="M1.7 26.8 C5.4 23.7 15.6 25.5 23.4 25.1 C31.2 24.7 44.2 21.2 48.5 24.3 C52.8 27.3 49.5 37.8 49.4 43.5 C49.2 49.2 47.8 52.7 47.7 58.6 C47.5 64.4 50.1 74.6 48.5 78.6 C47.0 82.7 43.8 82.1 38.5 82.8 C33.2 83.5 22.9 83.2 16.7 82.8 C10.6 82.4 4.5 83.5 1.7 80.3 C-1.1 77.1 0.1 69.7 0.0 63.6 C-0.1 57.4 0.6 49.6 0.8 43.5 C1.1 37.4 -2.1 29.8 1.7 26.8Z" fill="#000" fill-opacity="0.255"/>
<path d="M1.7 46.8 C5.4 44.1 19.7 44.5 23.4 50.2 C27.2 55.9 26.8 76.1 24.3 81.1 C21.8 86.2 12.3 83.0 8.4 80.6 C4.5 78.3 2.0 72.6 0.8 66.9 C-0.3 61.3 -2.1 49.6 1.7 46.8Z" fill="#000" fill-opacity="0.468"/>
</g>
<g filter="url(#sd0)">
<path d="M10.0 47.7 C12.7 45.7 25.4 48.3 27.6 51.5 C29.8 54.7 23.8 62.6 23.4 66.9 C23.0 71.2 25.9 75.2 25.1 77.3 C24.3 79.4 20.6 81.8 18.4 79.5 C16.2 77.2 13.1 68.9 11.7 63.6 C10.3 58.3 7.4 49.7 10.0 47.7Z" fill="#000" fill-opacity="0.900"/>
<path d="M5.9 31.5 C7.5 30.0 12.7 29.6 16.7 29.3 C20.8 29.0 25.9 29.9 30.1 29.8 C34.4 29.6 40.5 27.0 42.2 28.4 C43.8 29.8 41.1 35.4 39.8 38.1 C38.5 40.9 36.0 43.1 34.3 44.8 C32.6 46.6 30.7 47.3 29.8 48.5 C28.9 49.7 28.2 50.9 28.8 51.9 C29.4 52.8 31.8 53.1 33.5 54.4 C35.1 55.6 37.4 57.2 38.8 59.4 C40.2 61.6 41.6 65.4 41.8 67.8 C42.1 70.1 41.5 72.3 40.2 73.6 C38.8 74.9 36.0 75.6 33.5 75.6 C31.0 75.7 26.9 75.4 25.1 74.0 C23.3 72.5 22.6 69.6 22.6 66.9 C22.6 64.2 24.4 60.1 25.1 57.7 C25.8 55.4 27.3 53.8 26.8 52.7 C26.2 51.6 23.6 51.7 21.8 51.0 C19.9 50.4 17.8 50.1 15.9 48.9 C14.0 47.7 11.9 45.6 10.4 43.8 C8.8 42.1 7.4 40.2 6.7 38.1 C5.9 36.1 4.2 32.9 5.9 31.5Z" fill="none" stroke="#000" stroke-width="5" stroke-opacity="0.97"/>
</g>
<path d="M5.9 31.5 C7.5 30.0 12.7 29.6 16.7 29.3 C20.8 29.0 25.9 29.9 30.1 29.8 C34.4 29.6 40.5 27.0 42.2 28.4 C43.8 29.8 41.1 35.4 39.8 38.1 C38.5 40.9 36.0 43.1 34.3 44.8 C32.6 46.6 30.7 47.3 29.8 48.5 C28.9 49.7 28.2 50.9 28.8 51.9 C29.4 52.8 31.8 53.1 33.5 54.4 C35.1 55.6 37.4 57.2 38.8 59.4 C40.2 61.6 41.6 65.4 41.8 67.8 C42.1 70.1 41.5 72.3 40.2 73.6 C38.8 74.9 36.0 75.6 33.5 75.6 C31.0 75.7 26.9 75.4 25.1 74.0 C23.3 72.5 22.6 69.6 22.6 66.9 C22.6 64.2 24.4 60.1 25.1 57.7 C25.8 55.4 27.3 53.8 26.8 52.7 C26.2 51.6 23.6 51.7 21.8 51.0 C19.9 50.4 17.8 50.1 15.9 48.9 C14.0 47.7 11.9 45.6 10.4 43.8 C8.8 42.1 7.4 40.2 6.7 38.1 C5.9 36.1 4.2 32.9 5.9 31.5Z" fill="#fff" stroke="#333" stroke-width="1.0"/>
<path d="M6.7 32.1 C8.3 30.8 14.1 30.3 16.7 30.1 C19.4 29.9 21.6 27.7 22.6 31.0 C23.6 34.2 23.7 46.5 22.6 49.4 C21.5 52.2 17.9 49.2 15.9 48.2 C13.9 47.2 12.2 44.9 10.7 43.2 C9.3 41.4 7.9 39.7 7.2 37.8 C6.5 36.0 5.1 33.4 6.7 32.1Z" fill="none" stroke="#555" stroke-width="0.7"/>
<path d="M8.9 34.0 C10.0 33.1 14.1 32.7 16.0 32.6 C17.9 32.4 19.4 30.9 20.1 33.2 C20.8 35.4 20.9 44.1 20.1 46.2 C19.3 48.2 16.8 46.1 15.4 45.3 C14.0 44.6 12.8 43.0 11.7 41.8 C10.7 40.6 9.7 39.3 9.3 38.0 C8.8 36.7 7.8 34.9 8.9 34.0Z" fill="none" stroke="#555" stroke-width="0.7"/>
<path d="M10.7 35.5 C11.4 34.9 14.2 34.7 15.4 34.6 C16.6 34.5 17.7 33.4 18.1 35.0 C18.6 36.5 18.7 42.2 18.1 43.6 C17.6 44.9 15.9 43.5 15.0 43.0 C14.1 42.5 13.3 41.5 12.6 40.7 C11.9 39.9 11.2 39.0 10.9 38.2 C10.6 37.3 9.9 36.1 10.7 35.5Z" fill="none" stroke="#555" stroke-width="0.7"/>
<path d="M12.3 36.9 C12.7 36.6 14.2 36.4 14.8 36.4 C15.5 36.3 16.1 35.8 16.3 36.6 C16.6 37.4 16.6 40.5 16.3 41.2 C16.0 41.9 15.1 41.2 14.6 40.9 C14.1 40.6 13.7 40.1 13.3 39.7 C13.0 39.2 12.6 38.8 12.5 38.3 C12.3 37.9 11.9 37.2 12.3 36.9Z" fill="none" stroke="#555" stroke-width="0.7"/>
<path d="M23.4 31.0 C24.5 27.9 27.1 30.7 30.1 30.5 C33.1 30.2 40.0 28.2 41.5 29.4 C43.0 30.7 40.4 35.4 39.2 37.8 C37.9 40.3 35.6 42.5 33.8 44.2 C32.0 45.8 30.2 46.9 28.4 47.7 C26.7 48.5 24.3 51.6 23.4 48.9 C22.6 46.1 22.3 34.0 23.4 31.0Z" fill="none" stroke="#333" stroke-width="0.7"/>
<path d="M25.1 32.2 C26.0 29.8 28.0 32.0 30.3 31.8 C32.6 31.6 38.0 30.1 39.1 31.0 C40.3 32.0 38.3 35.6 37.3 37.5 C36.3 39.4 34.5 41.2 33.2 42.4 C31.8 43.7 30.3 44.6 29.0 45.2 C27.7 45.8 25.8 48.2 25.1 46.1 C24.5 43.9 24.2 34.6 25.1 32.2Z" fill="none" stroke="#333" stroke-width="0.7"/>
<path d="M26.5 33.2 C27.1 31.4 28.7 33.0 30.5 32.9 C32.2 32.7 36.3 31.6 37.2 32.3 C38.1 33.0 36.6 35.8 35.8 37.3 C35.1 38.7 33.7 40.1 32.6 41.1 C31.6 42.0 30.5 42.7 29.5 43.2 C28.4 43.6 27.0 45.5 26.5 43.9 C26.0 42.2 25.8 35.0 26.5 33.2Z" fill="none" stroke="#333" stroke-width="0.7"/>
<path d="M27.7 34.1 C28.2 32.8 29.3 34.0 30.6 33.9 C31.9 33.8 34.8 32.9 35.5 33.5 C36.1 34.0 35.0 36.0 34.5 37.0 C33.9 38.1 32.9 39.1 32.2 39.8 C31.4 40.5 30.6 41.0 29.9 41.3 C29.1 41.6 28.1 43.0 27.7 41.8 C27.4 40.6 27.2 35.4 27.7 34.1Z" fill="none" stroke="#333" stroke-width="0.7"/>
<path d="M28.9 35.0 C29.2 34.1 29.9 34.9 30.7 34.8 C31.5 34.8 33.4 34.2 33.8 34.6 C34.2 34.9 33.5 36.2 33.2 36.8 C32.8 37.5 32.2 38.1 31.7 38.6 C31.2 39.0 30.7 39.3 30.3 39.5 C29.8 39.7 29.1 40.6 28.9 39.8 C28.7 39.1 28.6 35.8 28.9 35.0Z" fill="none" stroke="#333" stroke-width="0.7"/>
<path d="M30.0 35.8 C30.2 35.4 30.5 35.8 30.9 35.8 C31.2 35.7 32.0 35.5 32.2 35.6 C32.4 35.8 32.1 36.3 31.9 36.6 C31.8 36.9 31.5 37.2 31.3 37.4 C31.1 37.6 30.9 37.7 30.7 37.8 C30.4 37.9 30.1 38.3 30.0 38.0 C29.9 37.6 29.9 36.2 30.0 35.8Z" fill="none" stroke="#333" stroke-width="0.7"/>
<ellipse cx="31.0" cy="36.5" rx="8.4" ry="5.0" fill="url(#rg)" fill-opacity="0.55"/>
<path d="M23.4 66.9 C23.4 64.5 24.6 60.6 25.4 58.2 C26.3 55.9 27.1 53.2 28.4 52.7 C29.8 52.2 31.8 54.0 33.5 55.2 C35.1 56.4 36.9 57.8 38.1 59.9 C39.4 62.0 40.6 65.6 40.8 67.8 C41.0 69.9 40.7 71.8 39.5 72.9 C38.3 74.1 35.8 74.6 33.5 74.6 C31.1 74.6 27.1 74.2 25.4 72.9 C23.8 71.7 23.4 69.4 23.4 66.9Z" fill="none" stroke="#555" stroke-width="0.7"/>
<path d="M25.6 67.6 C25.6 65.6 26.5 62.5 27.2 60.6 C27.8 58.7 28.5 56.6 29.6 56.1 C30.7 55.7 32.3 57.2 33.6 58.2 C34.9 59.1 36.4 60.3 37.4 61.9 C38.4 63.6 39.4 66.5 39.5 68.3 C39.7 70.0 39.5 71.5 38.5 72.4 C37.5 73.3 35.5 73.8 33.6 73.8 C31.7 73.8 28.5 73.5 27.2 72.4 C25.8 71.4 25.6 69.6 25.6 67.6Z" fill="none" stroke="#555" stroke-width="0.7"/>
<path d="M27.3 68.1 C27.3 66.5 28.0 64.0 28.6 62.5 C29.1 61.0 29.6 59.2 30.5 58.9 C31.4 58.6 32.7 59.8 33.8 60.5 C34.8 61.3 36.0 62.2 36.8 63.6 C37.6 64.9 38.4 67.2 38.5 68.6 C38.7 70.1 38.4 71.3 37.6 72.0 C36.9 72.7 35.3 73.1 33.8 73.1 C32.2 73.1 29.6 72.8 28.6 72.0 C27.5 71.2 27.3 69.7 27.3 68.1Z" fill="none" stroke="#555" stroke-width="0.7"/>
<path d="M28.9 68.6 C28.9 67.4 29.4 65.4 29.9 64.2 C30.3 63.1 30.7 61.7 31.4 61.5 C32.0 61.2 33.1 62.1 33.9 62.7 C34.7 63.3 35.6 64.0 36.2 65.1 C36.8 66.1 37.5 67.9 37.6 69.0 C37.7 70.1 37.5 71.0 36.9 71.6 C36.3 72.2 35.1 72.4 33.9 72.4 C32.7 72.4 30.7 72.3 29.9 71.6 C29.0 71.0 28.9 69.8 28.9 68.6Z" fill="none" stroke="#555" stroke-width="0.7"/>
<path d="M30.4 69.1 C30.4 68.2 30.8 66.8 31.1 65.9 C31.4 65.0 31.7 64.1 32.2 63.9 C32.7 63.7 33.4 64.4 34.0 64.8 C34.6 65.2 35.2 65.8 35.7 66.5 C36.1 67.3 36.6 68.6 36.7 69.4 C36.7 70.1 36.6 70.8 36.2 71.2 C35.7 71.7 34.8 71.8 34.0 71.8 C33.1 71.8 31.7 71.7 31.1 71.2 C30.5 70.8 30.4 69.9 30.4 69.1Z" fill="none" stroke="#555" stroke-width="0.7"/>
<path d="M31.8 69.5 C31.8 68.9 32.1 68.1 32.3 67.5 C32.5 67.0 32.6 66.4 33.0 66.2 C33.3 66.1 33.7 66.5 34.1 66.8 C34.5 67.1 34.9 67.4 35.2 67.9 C35.5 68.4 35.7 69.2 35.8 69.7 C35.8 70.2 35.8 70.6 35.5 70.9 C35.2 71.1 34.6 71.3 34.1 71.3 C33.6 71.3 32.6 71.2 32.3 70.9 C31.9 70.6 31.8 70.1 31.8 69.5Z" fill="none" stroke="#555" stroke-width="0.7"/>
<path d="M33.2 69.9 C33.2 69.7 33.3 69.3 33.4 69.1 C33.5 68.8 33.6 68.6 33.7 68.5 C33.8 68.5 34.1 68.6 34.2 68.8 C34.4 68.9 34.6 69.0 34.7 69.2 C34.8 69.4 34.9 69.8 35.0 70.0 C35.0 70.2 34.9 70.4 34.8 70.5 C34.7 70.7 34.4 70.7 34.2 70.7 C34.0 70.7 33.6 70.7 33.4 70.5 C33.2 70.4 33.2 70.2 33.2 69.9Z" fill="none" stroke="#555" stroke-width="0.7"/>
<ellipse cx="34.3" cy="70.3" rx="4.2" ry="4.2" fill="url(#rg)" fill-opacity="0.35"/></g></g>
<line x1="21.8" y1="0" x2="21.8" y2="86.8" stroke="#7a7a7a" stroke-width="0.9"/>
<line x1="0" y1="48" x2="86.8" y2="48" stroke="#7a7a7a" stroke-width="0.9"/>
<rect x="0" y="0" width="86.8" height="86.8" fill="none" stroke="#888" stroke-width="1"/>
<text x="2.4" y="11.6" font-size="13.6" text-anchor="start" fill="#000">13</text>
<text x="85.2" y="11.6" font-size="13.6" text-anchor="end" fill="#000">64</text>
<text x="85.2" y="84.8" font-size="13.6" text-anchor="end" fill="#000">21</text>
</g>
<g transform="translate(37.3,423)">
<g clip-path="url(#boxclip)"><g transform="translate(-0.3,0)"><g filter="url(#st0)">
<path d="M1.7 25.1 C4.7 22.9 14.8 23.8 20.1 23.4 C25.4 23.0 28.6 22.9 33.5 22.6 C38.3 22.3 47.0 19.4 49.4 21.8 C51.7 24.1 48.5 32.6 47.7 36.8 C46.8 41.0 44.6 43.5 44.3 46.8 C44.1 50.2 45.3 53.5 46.0 56.9 C46.7 60.2 48.5 63.3 48.5 66.9 C48.5 70.5 48.5 76.3 46.0 78.6 C43.5 81.0 37.2 80.7 33.5 81.1 C29.7 81.6 27.0 81.1 23.4 81.1 C19.8 81.1 14.6 82.1 11.7 81.1 C8.8 80.2 6.8 79.1 5.9 75.3 C4.9 71.5 6.0 63.3 5.9 58.6 C5.7 53.8 5.7 50.5 5.0 46.8 C4.3 43.2 2.2 40.4 1.7 36.8 C1.1 33.2 -1.4 27.3 1.7 25.1Z" fill="#000" fill-opacity="0.383"/>
<path d="M6.7 30.1 C8.4 29.0 13.7 28.5 16.7 28.4 C19.8 28.4 22.0 29.9 25.1 29.8 C28.2 29.6 31.9 28.1 35.1 27.6 C38.3 27.1 43.2 25.2 44.3 26.8 C45.5 28.3 42.7 33.9 41.8 36.8 C41.0 39.7 40.7 42.5 39.3 44.3 C37.9 46.1 35.4 47.0 33.5 47.7 C31.5 48.4 29.0 47.8 27.6 48.5 C26.2 49.2 25.6 50.2 25.1 51.9 C24.6 53.5 24.5 57.0 24.8 58.6 C25.0 60.1 25.6 60.8 26.8 61.1 C27.9 61.3 30.3 60.5 31.8 60.2 C33.3 60.0 34.3 59.0 36.0 59.4 C37.6 59.8 40.6 60.9 41.8 62.7 C43.1 64.6 43.8 68.2 43.5 70.3 C43.2 72.4 41.8 74.3 40.2 75.3 C38.5 76.3 35.7 76.4 33.5 76.1 C31.2 75.8 28.4 73.9 26.8 73.6 C25.1 73.3 24.8 74.0 23.4 74.5 C22.0 74.9 20.1 76.1 18.4 76.1 C16.7 76.1 14.4 76.0 13.4 74.5 C12.4 72.9 12.7 70.1 12.5 66.9 C12.4 63.7 12.7 58.6 12.5 55.2 C12.4 51.9 12.4 49.4 11.7 46.8 C11.0 44.3 9.2 42.1 8.4 40.2 C7.5 38.2 7.0 36.8 6.7 35.1 C6.4 33.5 5.0 31.2 6.7 30.1Z" fill="none" stroke="#000" stroke-width="3.0" stroke-opacity="0.3"/>
</g>
<g filter="url(#sd0)">
<path d="M3.3 26.8 C6.0 24.8 15.1 25.5 20.1 25.1 C25.1 24.7 28.9 24.5 33.5 24.3 C38.1 24.0 45.7 21.3 47.7 23.4 C49.6 25.5 46.1 32.9 45.2 36.8 C44.2 40.7 42.1 43.5 41.8 46.8 C41.5 50.2 42.8 53.5 43.5 56.9 C44.2 60.2 46.0 63.6 46.0 66.9 C46.0 70.3 45.6 75.0 43.5 77.0 C41.4 78.9 36.8 78.4 33.5 78.6 C30.1 78.9 26.8 78.6 23.4 78.6 C20.1 78.6 15.9 79.5 13.4 78.6 C10.9 77.8 9.2 77.0 8.4 73.6 C7.5 70.3 8.6 63.0 8.4 58.6 C8.1 54.1 7.4 50.5 6.7 46.8 C6.0 43.2 4.7 40.2 4.2 36.8 C3.6 33.5 0.7 28.7 3.3 26.8Z" fill="#000" fill-opacity="0.970"/>
</g>
<path d="M6.7 30.1 C8.4 29.0 13.7 28.5 16.7 28.4 C19.8 28.4 22.0 29.9 25.1 29.8 C28.2 29.6 31.9 28.1 35.1 27.6 C38.3 27.1 43.2 25.2 44.3 26.8 C45.5 28.3 42.7 33.9 41.8 36.8 C41.0 39.7 40.7 42.5 39.3 44.3 C37.9 46.1 35.4 47.0 33.5 47.7 C31.5 48.4 29.0 47.8 27.6 48.5 C26.2 49.2 25.6 50.2 25.1 51.9 C24.6 53.5 24.5 57.0 24.8 58.6 C25.0 60.1 25.6 60.8 26.8 61.1 C27.9 61.3 30.3 60.5 31.8 60.2 C33.3 60.0 34.3 59.0 36.0 59.4 C37.6 59.8 40.6 60.9 41.8 62.7 C43.1 64.6 43.8 68.2 43.5 70.3 C43.2 72.4 41.8 74.3 40.2 75.3 C38.5 76.3 35.7 76.4 33.5 76.1 C31.2 75.8 28.4 73.9 26.8 73.6 C25.1 73.3 24.8 74.0 23.4 74.5 C22.0 74.9 20.1 76.1 18.4 76.1 C16.7 76.1 14.4 76.0 13.4 74.5 C12.4 72.9 12.7 70.1 12.5 66.9 C12.4 63.7 12.7 58.6 12.5 55.2 C12.4 51.9 12.4 49.4 11.7 46.8 C11.0 44.3 9.2 42.1 8.4 40.2 C7.5 38.2 7.0 36.8 6.7 35.1 C6.4 33.5 5.0 31.2 6.7 30.1Z" fill="#fff" stroke="#333" stroke-width="1.0"/>
<path d="M23.4 31.0 C24.8 28.9 30.1 28.5 33.5 27.9 C36.8 27.4 42.2 26.0 43.5 27.6 C44.8 29.2 42.7 35.3 41.0 37.6 C39.3 40.0 36.1 41.4 33.5 41.8 C30.8 42.2 26.8 42.0 25.1 40.2 C23.4 38.3 22.0 33.0 23.4 31.0Z" fill="none" stroke="#333" stroke-width="0.7"/>
<path d="M25.5 31.5 C26.6 29.9 30.7 29.6 33.3 29.2 C35.9 28.7 40.1 27.7 41.1 28.9 C42.0 30.2 40.4 34.9 39.1 36.7 C37.8 38.5 35.3 39.6 33.3 40.0 C31.2 40.3 28.1 40.1 26.8 38.7 C25.5 37.2 24.4 33.1 25.5 31.5Z" fill="none" stroke="#333" stroke-width="0.7"/>
<path d="M27.1 32.0 C28.0 30.8 31.1 30.5 33.1 30.2 C35.1 29.8 38.4 29.0 39.1 30.0 C39.9 30.9 38.6 34.5 37.6 36.0 C36.6 37.4 34.7 38.2 33.1 38.4 C31.5 38.7 29.1 38.5 28.1 37.5 C27.1 36.4 26.3 33.2 27.1 32.0Z" fill="none" stroke="#333" stroke-width="0.7"/>
<path d="M28.7 32.4 C29.3 31.5 31.5 31.3 33.0 31.1 C34.4 30.8 36.8 30.2 37.3 30.9 C37.8 31.6 36.9 34.2 36.2 35.3 C35.5 36.3 34.1 36.9 33.0 37.1 C31.8 37.2 30.1 37.1 29.4 36.3 C28.7 35.6 28.1 33.3 28.7 32.4Z" fill="none" stroke="#333" stroke-width="0.7"/>
<path d="M30.1 32.8 C30.5 32.2 31.9 32.1 32.9 32.0 C33.8 31.8 35.2 31.4 35.6 31.9 C35.9 32.3 35.4 34.0 34.9 34.6 C34.4 35.2 33.6 35.6 32.9 35.7 C32.1 35.9 31.0 35.8 30.6 35.3 C30.1 34.8 29.7 33.3 30.1 32.8Z" fill="none" stroke="#333" stroke-width="0.7"/>
<path d="M31.5 33.2 C31.7 32.9 32.3 32.9 32.7 32.8 C33.1 32.7 33.8 32.6 33.9 32.8 C34.1 33.0 33.8 33.7 33.6 34.0 C33.4 34.2 33.0 34.4 32.7 34.5 C32.4 34.5 31.9 34.5 31.7 34.3 C31.5 34.0 31.4 33.4 31.5 33.2Z" fill="none" stroke="#333" stroke-width="0.7"/>
<path d="M7.5 31.0 C8.9 28.4 17.4 28.9 20.1 30.1 C22.7 31.4 23.4 35.7 23.4 38.5 C23.4 41.3 22.0 45.7 20.1 46.8 C18.1 48.0 13.8 47.8 11.7 45.2 C9.6 42.5 6.1 33.5 7.5 31.0Z" fill="none" stroke="#555" stroke-width="0.7"/>
<path d="M10.2 33.3 C11.1 31.6 16.9 31.9 18.8 32.7 C20.6 33.6 21.1 36.6 21.1 38.5 C21.1 40.4 20.1 43.5 18.8 44.2 C17.4 45.0 14.5 44.9 13.0 43.1 C11.6 41.3 9.2 35.0 10.2 33.3Z" fill="none" stroke="#555" stroke-width="0.7"/>
<path d="M12.3 35.2 C12.9 34.1 16.6 34.3 17.7 34.9 C18.9 35.4 19.2 37.3 19.2 38.5 C19.2 39.7 18.6 41.6 17.7 42.1 C16.9 42.6 15.0 42.5 14.1 41.4 C13.2 40.2 11.7 36.3 12.3 35.2Z" fill="none" stroke="#555" stroke-width="0.7"/>
<path d="M14.2 37.0 C14.5 36.5 16.2 36.6 16.7 36.8 C17.3 37.1 17.4 37.9 17.4 38.5 C17.4 39.0 17.1 39.9 16.7 40.2 C16.3 40.4 15.5 40.3 15.1 39.8 C14.6 39.3 13.9 37.5 14.2 37.0Z" fill="none" stroke="#555" stroke-width="0.7"/>
<path d="M13.4 48.5 C14.8 46.6 20.1 46.0 21.8 48.5 C23.4 51.0 23.4 59.3 23.4 63.6 C23.4 67.9 23.3 72.6 21.8 74.5 C20.2 76.3 15.7 76.8 14.2 74.5 C12.8 72.1 13.2 64.6 13.1 60.2 C12.9 55.9 11.9 50.5 13.4 48.5Z" fill="none" stroke="#555" stroke-width="0.7"/>
<path d="M14.4 54.3 C15.4 53.0 19.0 52.6 20.2 54.3 C21.3 56.0 21.3 61.7 21.3 64.6 C21.3 67.6 21.2 70.8 20.2 72.1 C19.1 73.3 16.0 73.7 15.0 72.1 C14.0 70.5 14.3 65.3 14.2 62.3 C14.1 59.4 13.4 55.6 14.4 54.3Z" fill="none" stroke="#555" stroke-width="0.7"/>
<path d="M15.3 59.0 C15.9 58.1 18.2 57.9 18.9 59.0 C19.6 60.0 19.6 63.6 19.6 65.5 C19.6 67.3 19.6 69.4 18.9 70.2 C18.2 71.0 16.3 71.2 15.6 70.2 C15.0 69.2 15.2 65.9 15.1 64.0 C15.1 62.2 14.7 59.8 15.3 59.0Z" fill="none" stroke="#555" stroke-width="0.7"/>
<path d="M16.1 63.2 C16.4 62.9 17.4 62.7 17.7 63.2 C18.1 63.7 18.1 65.4 18.1 66.3 C18.1 67.1 18.0 68.1 17.7 68.4 C17.4 68.8 16.5 68.9 16.2 68.4 C15.9 68.0 16.0 66.4 16.0 65.6 C16.0 64.7 15.8 63.6 16.1 63.2Z" fill="none" stroke="#555" stroke-width="0.7"/>
<path d="M27.6 62.7 C28.7 60.3 34.3 59.8 36.8 59.9 C39.3 60.0 41.6 61.7 42.7 63.6 C43.7 65.4 43.7 69.2 43.2 71.1 C42.6 73.1 41.5 74.7 39.3 75.3 C37.1 75.8 32.1 76.5 30.1 74.5 C28.2 72.4 26.5 65.2 27.6 62.7Z" fill="none" stroke="#555" stroke-width="0.7"/>
<path d="M30.3 65.0 C31.1 63.2 35.0 62.9 36.8 63.0 C38.6 63.1 40.2 64.2 40.9 65.5 C41.7 66.9 41.7 69.5 41.3 70.9 C40.9 72.2 40.1 73.4 38.6 73.8 C37.0 74.2 33.5 74.7 32.1 73.2 C30.7 71.7 29.5 66.7 30.3 65.0Z" fill="none" stroke="#555" stroke-width="0.7"/>
<path d="M32.5 66.7 C33.0 65.6 35.6 65.3 36.8 65.4 C38.0 65.5 39.1 66.3 39.6 67.1 C40.0 68.0 40.0 69.7 39.8 70.7 C39.5 71.6 39.0 72.4 38.0 72.6 C37.0 72.9 34.6 73.2 33.7 72.2 C32.8 71.2 32.0 67.9 32.5 66.7Z" fill="none" stroke="#555" stroke-width="0.7"/>
<path d="M34.5 68.4 C34.8 67.8 36.2 67.6 36.8 67.7 C37.4 67.7 38.0 68.1 38.3 68.6 C38.5 69.1 38.5 70.0 38.4 70.5 C38.3 71.0 38.0 71.4 37.4 71.5 C36.9 71.7 35.6 71.8 35.1 71.3 C34.6 70.8 34.2 69.0 34.5 68.4Z" fill="none" stroke="#555" stroke-width="0.7"/>
<ellipse cx="32.6" cy="33.5" rx="8.4" ry="5.9" fill="url(#rg)" fill-opacity="0.7"/></g></g>
<line x1="22" y1="0" x2="22" y2="86.8" stroke="#7a7a7a" stroke-width="0.9"/>
<line x1="0" y1="47" x2="86.8" y2="47" stroke="#7a7a7a" stroke-width="0.9"/>
<rect x="0" y="0" width="86.8" height="86.8" fill="none" stroke="#888" stroke-width="1"/>
<text x="2.4" y="11.6" font-size="13.6" text-anchor="start" fill="#000">8</text>
<text x="85.2" y="11.6" font-size="13.6" text-anchor="end" fill="#000">73</text>
<text x="85.2" y="84.8" font-size="13.6" text-anchor="end" fill="#000">10</text>
</g>
<g transform="translate(128.5,423)">
<g clip-path="url(#boxclip)"><g transform="translate(-0.5,0)"><g filter="url(#st1)">
<path d="M1.7 23.4 C5.3 20.2 16.5 22.4 23.4 22.6 C30.4 22.7 39.9 21.3 43.5 24.3 C47.1 27.2 44.6 35.8 45.2 40.2 C45.7 44.5 46.0 46.3 46.8 50.2 C47.7 54.1 49.6 58.8 50.2 63.6 C50.8 68.3 51.6 75.6 50.2 78.6 C48.8 81.7 46.0 81.7 41.8 82.0 C37.6 82.3 29.8 80.9 25.1 80.3 C20.4 79.8 16.7 80.0 13.4 78.6 C10.0 77.2 6.7 75.8 5.0 71.9 C3.3 68.0 3.9 60.2 3.3 55.2 C2.8 50.2 2.0 47.1 1.7 41.8 C1.4 36.5 -2.0 26.6 1.7 23.4Z" fill="#000" fill-opacity="0.187"/>
<path d="M5.0 41.8 C11.2 39.6 35.4 39.6 41.8 41.8 C48.2 44.1 44.9 53.3 43.5 55.2 C42.1 57.2 36.5 53.3 33.5 53.5 C30.4 53.8 27.9 55.2 25.1 56.9 C22.3 58.6 19.2 62.5 16.7 63.6 C14.2 64.7 12.0 65.0 10.0 63.6 C8.1 62.2 5.9 58.8 5.0 55.2 C4.2 51.6 -1.1 44.1 5.0 41.8Z" fill="#000" fill-opacity="0.255"/>
<path d="M3.3 26.8 C4.5 25.4 7.5 24.5 10.0 24.3 C12.5 24.0 16.3 24.3 18.4 25.1 C20.5 25.9 21.9 27.2 22.6 29.3 C23.3 31.4 23.1 35.6 22.6 37.6 C22.0 39.7 21.1 40.7 19.2 41.5 C17.4 42.2 14.1 42.5 11.7 42.2 C9.3 41.8 6.5 40.9 5.0 39.3 C3.6 37.7 3.3 34.7 3.0 32.6 C2.7 30.5 2.2 28.2 3.3 26.8Z" fill="none" stroke="#000" stroke-width="2.5" stroke-opacity="0.35"/>
<path d="M23.4 28.4 C24.6 26.4 29.0 26.7 31.8 26.4 C34.6 26.2 38.3 25.9 40.2 27.1 C42.1 28.3 43.1 31.3 43.2 33.5 C43.2 35.6 42.4 38.6 40.5 39.8 C38.6 41.0 34.4 41.0 31.8 40.8 C29.2 40.7 26.2 40.9 24.8 38.8 C23.4 36.8 22.3 30.5 23.4 28.4Z" fill="none" stroke="#000" stroke-width="2.5" stroke-opacity="0.35"/>
<path d="M12.5 64.4 C13.4 62.8 16.4 62.7 18.4 61.6 C20.4 60.5 22.5 59.3 24.8 57.7 C27.0 56.2 29.2 53.3 31.8 52.2 C34.4 51.1 37.7 50.4 40.2 51.0 C42.6 51.7 45.0 53.4 46.5 56.0 C48.0 58.7 49.1 63.6 49.4 66.9 C49.6 70.3 49.1 74.0 48.2 76.1 C47.3 78.3 45.7 79.3 43.8 80.0 C41.9 80.6 39.1 80.6 36.8 80.0 C34.5 79.3 32.1 77.1 30.1 76.1 C28.2 75.1 27.0 74.3 25.1 74.0 C23.1 73.6 20.4 74.4 18.4 74.0 C16.4 73.5 14.0 72.7 13.1 71.1 C12.1 69.5 11.7 66.0 12.5 64.4Z" fill="none" stroke="#000" stroke-width="2.5" stroke-opacity="0.35"/>
</g>
<path d="M3.3 26.8 C4.5 25.4 7.5 24.5 10.0 24.3 C12.5 24.0 16.3 24.3 18.4 25.1 C20.5 25.9 21.9 27.2 22.6 29.3 C23.3 31.4 23.1 35.6 22.6 37.6 C22.0 39.7 21.1 40.7 19.2 41.5 C17.4 42.2 14.1 42.5 11.7 42.2 C9.3 41.8 6.5 40.9 5.0 39.3 C3.6 37.7 3.3 34.7 3.0 32.6 C2.7 30.5 2.2 28.2 3.3 26.8Z" fill="#fff" stroke="#333" stroke-width="1.0"/>
<path d="M4.0 27.1 C5.1 25.8 7.7 25.2 10.0 24.9 C12.4 24.7 16.1 25.0 18.1 25.8 C20.0 26.5 21.3 27.7 21.9 29.6 C22.6 31.5 22.4 35.4 21.9 37.3 C21.4 39.2 20.6 40.1 18.9 40.8 C17.2 41.5 14.0 41.8 11.7 41.5 C9.5 41.2 6.7 40.3 5.4 38.8 C4.0 37.3 3.9 34.6 3.7 32.6 C3.5 30.7 3.0 28.4 4.0 27.1Z" fill="none" stroke="#333" stroke-width="0.7"/>
<path d="M5.6 28.1 C6.4 27.1 8.5 26.5 10.4 26.3 C12.3 26.2 15.3 26.4 16.9 27.0 C18.5 27.6 19.5 28.6 20.0 30.1 C20.5 31.7 20.4 34.8 20.0 36.3 C19.6 37.8 18.9 38.6 17.6 39.1 C16.2 39.7 13.6 39.9 11.8 39.7 C10.0 39.4 7.7 38.7 6.7 37.5 C5.6 36.3 5.5 34.1 5.3 32.5 C5.1 31.0 4.7 29.1 5.6 28.1Z" fill="none" stroke="#333" stroke-width="0.7"/>
<path d="M6.9 28.9 C7.5 28.1 9.2 27.6 10.7 27.5 C12.3 27.3 14.7 27.5 15.9 28.0 C17.2 28.5 18.0 29.3 18.4 30.5 C18.8 31.7 18.7 34.3 18.4 35.5 C18.1 36.7 17.6 37.3 16.5 37.7 C15.4 38.2 13.3 38.4 11.8 38.2 C10.4 38.0 8.6 37.4 7.7 36.4 C6.9 35.5 6.8 33.7 6.6 32.4 C6.5 31.2 6.2 29.7 6.9 28.9Z" fill="none" stroke="#333" stroke-width="0.7"/>
<path d="M8.0 29.6 C8.6 29.0 9.9 28.6 11.0 28.5 C12.2 28.4 14.1 28.5 15.1 28.9 C16.1 29.3 16.7 29.9 17.0 30.9 C17.3 31.8 17.2 33.8 17.0 34.7 C16.7 35.7 16.3 36.1 15.5 36.5 C14.6 36.8 13.0 37.0 11.9 36.8 C10.7 36.6 9.4 36.2 8.7 35.5 C8.0 34.7 8.0 33.4 7.9 32.4 C7.7 31.4 7.5 30.3 8.0 29.6Z" fill="none" stroke="#333" stroke-width="0.7"/>
<path d="M9.1 30.3 C9.5 29.8 10.5 29.6 11.3 29.5 C12.2 29.4 13.5 29.5 14.2 29.8 C14.9 30.1 15.4 30.5 15.6 31.2 C15.9 31.9 15.8 33.3 15.6 34.0 C15.4 34.7 15.1 35.0 14.5 35.3 C13.9 35.5 12.7 35.6 11.9 35.5 C11.1 35.4 10.1 35.1 9.6 34.5 C9.1 34.0 9.1 33.0 9.0 32.3 C8.9 31.6 8.8 30.8 9.1 30.3Z" fill="none" stroke="#333" stroke-width="0.7"/>
<path d="M10.2 31.0 C10.4 30.7 11.0 30.5 11.6 30.5 C12.1 30.4 13.0 30.5 13.4 30.7 C13.9 30.8 14.2 31.1 14.3 31.5 C14.5 32.0 14.4 32.9 14.3 33.3 C14.2 33.7 14.0 34.0 13.6 34.1 C13.2 34.3 12.5 34.3 12.0 34.3 C11.5 34.2 10.8 34.0 10.5 33.7 C10.2 33.3 10.2 32.7 10.1 32.2 C10.1 31.8 10.0 31.3 10.2 31.0Z" fill="none" stroke="#333" stroke-width="0.7"/>
<path d="M11.2 31.6 C11.3 31.5 11.6 31.4 11.8 31.4 C12.1 31.4 12.5 31.4 12.6 31.5 C12.8 31.6 13.0 31.7 13.0 31.9 C13.1 32.1 13.1 32.5 13.0 32.6 C13.0 32.8 12.9 32.9 12.7 33.0 C12.6 33.1 12.2 33.1 12.0 33.1 C11.8 33.0 11.5 32.9 11.4 32.8 C11.2 32.6 11.2 32.4 11.2 32.2 C11.2 32.0 11.1 31.7 11.2 31.6Z" fill="none" stroke="#333" stroke-width="0.7"/>
<circle cx="12.0" cy="31.8" r="12.4" fill="url(#rw)" fill-opacity="1"/>
<path d="M23.4 28.4 C24.6 26.4 29.0 26.7 31.8 26.4 C34.6 26.2 38.3 25.9 40.2 27.1 C42.1 28.3 43.1 31.3 43.2 33.5 C43.2 35.6 42.4 38.6 40.5 39.8 C38.6 41.0 34.4 41.0 31.8 40.8 C29.2 40.7 26.2 40.9 24.8 38.8 C23.4 36.8 22.3 30.5 23.4 28.4Z" fill="#fff" stroke="#333" stroke-width="1.0"/>
<path d="M24.1 28.8 C25.2 26.9 29.2 27.3 31.8 27.1 C34.4 26.9 38.0 26.7 39.8 27.8 C41.6 28.8 42.5 31.6 42.5 33.5 C42.5 35.4 41.8 38.0 40.0 39.2 C38.2 40.3 34.2 40.3 31.8 40.2 C29.3 40.0 26.5 40.2 25.3 38.3 C24.0 36.4 23.0 30.6 24.1 28.8Z" fill="none" stroke="#333" stroke-width="0.7"/>
<path d="M26.2 29.8 C27.0 28.4 30.1 28.7 32.2 28.5 C34.2 28.4 37.0 28.2 38.4 29.0 C39.8 29.9 40.5 32.0 40.5 33.5 C40.5 34.9 39.9 37.0 38.5 37.9 C37.1 38.7 34.1 38.8 32.2 38.7 C30.3 38.5 28.1 38.7 27.1 37.2 C26.1 35.8 25.3 31.3 26.2 29.8Z" fill="none" stroke="#333" stroke-width="0.7"/>
<path d="M27.9 30.7 C28.5 29.6 30.9 29.8 32.5 29.7 C34.0 29.6 36.2 29.4 37.3 30.1 C38.3 30.7 38.8 32.3 38.8 33.5 C38.9 34.6 38.4 36.2 37.4 36.9 C36.3 37.5 33.9 37.5 32.5 37.5 C31.0 37.4 29.3 37.5 28.6 36.4 C27.8 35.2 27.2 31.8 27.9 30.7Z" fill="none" stroke="#333" stroke-width="0.7"/>
<path d="M29.4 31.4 C29.9 30.6 31.6 30.8 32.7 30.7 C33.9 30.7 35.4 30.6 36.2 31.0 C37.0 31.5 37.3 32.6 37.3 33.5 C37.4 34.3 37.0 35.4 36.3 35.9 C35.5 36.4 33.8 36.4 32.7 36.3 C31.7 36.3 30.5 36.4 29.9 35.5 C29.4 34.7 29.0 32.3 29.4 31.4Z" fill="none" stroke="#333" stroke-width="0.7"/>
<path d="M30.9 32.2 C31.2 31.7 32.3 31.8 33.0 31.7 C33.7 31.7 34.7 31.6 35.2 31.9 C35.7 32.2 35.9 32.9 35.9 33.5 C35.9 34.0 35.7 34.7 35.2 35.0 C34.8 35.3 33.7 35.3 33.0 35.3 C32.3 35.2 31.6 35.3 31.2 34.8 C30.9 34.3 30.6 32.7 30.9 32.2Z" fill="none" stroke="#333" stroke-width="0.7"/>
<path d="M32.3 32.9 C32.5 32.7 32.9 32.7 33.3 32.7 C33.6 32.7 34.0 32.7 34.2 32.8 C34.4 32.9 34.5 33.2 34.5 33.5 C34.5 33.7 34.5 34.0 34.2 34.1 C34.0 34.3 33.6 34.3 33.3 34.3 C33.0 34.2 32.6 34.3 32.5 34.0 C32.3 33.8 32.2 33.1 32.3 32.9Z" fill="none" stroke="#333" stroke-width="0.7"/>
<ellipse cx="33.5" cy="33.8" rx="8.4" ry="5.4" fill="url(#rg)" fill-opacity="1.0"/>
<path d="M3.0 34.3 C3.1 35.7 2.5 41.0 3.7 42.7 C4.9 44.4 6.7 44.3 10.0 44.5 C13.3 44.8 19.5 44.4 23.4 44.2 C27.3 43.9 30.4 43.7 33.5 43.2 C36.5 42.6 40.1 42.5 41.8 41.0 C43.6 39.5 43.5 35.4 43.8 34.3" fill="none" stroke="#555" stroke-width="0.7"/>
<path d="M12.5 64.4 C13.4 62.8 16.4 62.7 18.4 61.6 C20.4 60.5 22.5 59.3 24.8 57.7 C27.0 56.2 29.2 53.3 31.8 52.2 C34.4 51.1 37.7 50.4 40.2 51.0 C42.6 51.7 45.0 53.4 46.5 56.0 C48.0 58.7 49.1 63.6 49.4 66.9 C49.6 70.3 49.1 74.0 48.2 76.1 C47.3 78.3 45.7 79.3 43.8 80.0 C41.9 80.6 39.1 80.6 36.8 80.0 C34.5 79.3 32.1 77.1 30.1 76.1 C28.2 75.1 27.0 74.3 25.1 74.0 C23.1 73.6 20.4 74.4 18.4 74.0 C16.4 73.5 14.0 72.7 13.1 71.1 C12.1 69.5 11.7 66.0 12.5 64.4Z" fill="#fff" stroke="#333" stroke-width="1.0"/>
<path d="M25.1 58.6 C26.1 55.7 29.6 54.3 32.1 53.2 C34.6 52.1 37.9 51.6 40.2 52.2 C42.4 52.8 44.3 54.4 45.7 56.9 C47.1 59.3 48.2 63.8 48.5 66.9 C48.8 70.0 48.2 73.6 47.3 75.6 C46.5 77.6 45.3 78.4 43.5 79.0 C41.7 79.5 39.0 79.6 36.8 79.0 C34.7 78.4 32.4 76.7 30.6 75.3 C28.8 73.8 26.9 73.1 25.9 70.3 C25.0 67.5 24.1 61.4 25.1 58.6Z" fill="none" stroke="#444" stroke-width="0.7"/>
<path d="M28.1 60.9 C28.9 58.6 31.7 57.5 33.7 56.6 C35.7 55.8 38.3 55.3 40.2 55.8 C42.0 56.3 43.5 57.6 44.6 59.6 C45.7 61.5 46.7 65.1 46.9 67.6 C47.1 70.2 46.6 73.0 45.9 74.6 C45.3 76.3 44.3 76.9 42.8 77.3 C41.4 77.8 39.2 77.8 37.5 77.3 C35.7 76.8 33.9 75.5 32.5 74.4 C31.0 73.2 29.5 72.6 28.7 70.3 C28.0 68.1 27.2 63.2 28.1 60.9Z" fill="none" stroke="#444" stroke-width="0.7"/>
<path d="M30.4 62.8 C31.1 61.0 33.3 60.0 35.0 59.4 C36.6 58.7 38.7 58.3 40.2 58.7 C41.6 59.1 42.8 60.2 43.7 61.7 C44.6 63.3 45.4 66.2 45.6 68.2 C45.7 70.2 45.3 72.6 44.8 73.8 C44.3 75.1 43.5 75.6 42.3 76.0 C41.2 76.4 39.4 76.4 38.0 76.0 C36.6 75.6 35.2 74.6 34.0 73.6 C32.8 72.7 31.6 72.2 31.0 70.4 C30.4 68.6 29.8 64.7 30.4 62.8Z" fill="none" stroke="#444" stroke-width="0.7"/>
<path d="M32.6 64.6 C33.1 63.1 34.9 62.4 36.1 61.9 C37.4 61.4 39.0 61.1 40.2 61.4 C41.3 61.7 42.2 62.5 42.9 63.7 C43.6 65.0 44.2 67.2 44.3 68.8 C44.5 70.3 44.2 72.1 43.8 73.1 C43.3 74.1 42.7 74.5 41.8 74.8 C40.9 75.1 39.6 75.1 38.5 74.8 C37.4 74.5 36.3 73.7 35.4 72.9 C34.5 72.2 33.5 71.8 33.0 70.4 C32.6 69.0 32.1 66.0 32.6 64.6Z" fill="none" stroke="#444" stroke-width="0.7"/>
<path d="M34.7 66.2 C35.1 65.2 36.3 64.7 37.2 64.3 C38.2 63.9 39.3 63.7 40.2 63.9 C41.0 64.2 41.6 64.7 42.2 65.6 C42.7 66.5 43.1 68.1 43.2 69.3 C43.3 70.4 43.1 71.7 42.8 72.4 C42.5 73.2 42.0 73.4 41.4 73.6 C40.7 73.8 39.7 73.9 38.9 73.6 C38.2 73.4 37.4 72.8 36.7 72.3 C36.0 71.8 35.3 71.5 35.0 70.5 C34.7 69.5 34.3 67.3 34.7 66.2Z" fill="none" stroke="#444" stroke-width="0.7"/>
<path d="M36.7 67.8 C36.9 67.2 37.7 66.9 38.3 66.6 C38.9 66.4 39.6 66.2 40.2 66.4 C40.7 66.5 41.1 66.9 41.4 67.5 C41.7 68.0 42.0 69.0 42.1 69.8 C42.1 70.5 42.0 71.3 41.8 71.8 C41.6 72.2 41.3 72.4 40.9 72.5 C40.5 72.6 39.9 72.7 39.4 72.5 C38.9 72.4 38.4 72.0 38.0 71.7 C37.6 71.3 37.1 71.2 36.9 70.5 C36.7 69.9 36.5 68.5 36.7 67.8Z" fill="none" stroke="#444" stroke-width="0.7"/>
<path d="M38.6 69.4 C38.8 69.1 39.1 69.0 39.4 68.9 C39.6 68.8 39.9 68.7 40.2 68.8 C40.4 68.8 40.6 69.0 40.7 69.2 C40.8 69.5 41.0 69.9 41.0 70.2 C41.0 70.5 41.0 70.9 40.9 71.1 C40.8 71.3 40.7 71.4 40.5 71.4 C40.3 71.5 40.0 71.5 39.8 71.4 C39.6 71.4 39.4 71.2 39.2 71.1 C39.0 70.9 38.8 70.8 38.7 70.6 C38.6 70.3 38.5 69.7 38.6 69.4Z" fill="none" stroke="#444" stroke-width="0.7"/>
<circle cx="40.2" cy="70.3" r="15.1" fill="url(#rw)" fill-opacity="1"/>
<path d="M13.7 65.3 C14.6 64.0 17.1 63.2 18.7 62.7 C20.4 62.2 22.5 61.0 23.4 62.2 C24.3 63.5 25.1 68.5 24.3 70.3 C23.4 72.0 20.2 72.8 18.4 72.8 C16.6 72.8 14.5 71.5 13.7 70.3 C12.9 69.0 12.9 66.5 13.7 65.3Z" fill="none" stroke="#555" stroke-width="0.7"/></g></g>
<line x1="23.4" y1="0" x2="23.4" y2="86.8" stroke="#7a7a7a" stroke-width="0.9"/>
<line x1="0" y1="47.7" x2="86.8" y2="47.7" stroke="#7a7a7a" stroke-width="0.9"/>
<rect x="0" y="0" width="86.8" height="86.8" fill="none" stroke="#888" stroke-width="1"/>
<text x="2.4" y="11.6" font-size="13.6" text-anchor="start" fill="#000">37</text>
<text x="85.2" y="11.6" font-size="13.6" text-anchor="end" fill="#000">14</text>
<text x="85.2" y="84.8" font-size="13.6" text-anchor="end" fill="#000">45</text>
</g>
<g transform="translate(220.8,423)">
<g clip-path="url(#boxclip)"><g transform="translate(0.2,0)"><g filter="url(#st2)">
<path d="M5.0 26.8 C7.8 23.4 15.3 24.1 20.1 23.4 C24.8 22.7 28.7 22.9 33.5 22.6 C38.2 22.3 46.1 19.4 48.5 21.8 C50.9 24.1 48.4 32.1 47.7 36.8 C47.0 41.5 44.9 45.2 44.3 50.2 C43.8 55.2 44.6 61.6 44.3 66.9 C44.1 72.2 45.9 79.3 42.7 82.0 C39.5 84.6 30.8 83.1 25.1 82.8 C19.4 82.5 11.7 83.5 8.4 80.3 C5.0 77.1 5.9 69.7 5.0 63.6 C4.2 57.4 3.3 49.6 3.3 43.5 C3.3 37.4 2.2 30.1 5.0 26.8Z" fill="#000" fill-opacity="0.297"/>
<path d="M15.9 33.5 C17.1 31.5 20.5 31.1 23.4 30.1 C26.4 29.1 30.0 28.3 33.5 27.6 C36.9 26.9 42.8 24.7 44.3 25.9 C45.9 27.2 43.5 32.2 42.7 35.1 C41.8 38.1 40.4 40.9 39.3 43.5 C38.2 46.1 37.5 49.6 36.0 51.0 C34.4 52.4 32.2 51.9 30.1 51.9 C28.0 51.9 25.4 51.6 23.4 51.0 C21.5 50.5 19.7 50.1 18.4 48.5 C17.1 47.0 16.3 44.3 15.9 41.8 C15.5 39.3 14.6 35.4 15.9 33.5Z" fill="none" stroke="#000" stroke-width="3.0" stroke-opacity="0.3"/>
</g>
<g filter="url(#sd2)">
<path d="M6.7 30.1 C9.2 27.3 15.6 27.6 20.1 26.8 C24.5 25.9 29.0 25.7 33.5 25.1 C37.9 24.5 44.9 21.5 46.8 23.4 C48.8 25.4 46.0 32.3 45.2 36.8 C44.3 41.3 42.4 45.2 41.8 50.2 C41.3 55.2 42.1 62.2 41.8 66.9 C41.5 71.7 42.9 76.4 40.2 78.6 C37.4 80.9 30.1 80.6 25.1 80.3 C20.1 80.0 13.1 79.8 10.0 77.0 C7.0 74.2 7.5 69.2 6.7 63.6 C5.9 58.0 5.0 49.1 5.0 43.5 C5.0 37.9 4.2 32.9 6.7 30.1Z" fill="#000" fill-opacity="0.970"/>
</g>
<path d="M15.9 33.5 C17.1 31.5 20.5 31.1 23.4 30.1 C26.4 29.1 30.0 28.3 33.5 27.6 C36.9 26.9 42.8 24.7 44.3 25.9 C45.9 27.2 43.5 32.2 42.7 35.1 C41.8 38.1 40.4 40.9 39.3 43.5 C38.2 46.1 37.5 49.6 36.0 51.0 C34.4 52.4 32.2 51.9 30.1 51.9 C28.0 51.9 25.4 51.6 23.4 51.0 C21.5 50.5 19.7 50.1 18.4 48.5 C17.1 47.0 16.3 44.3 15.9 41.8 C15.5 39.3 14.6 35.4 15.9 33.5Z" fill="#fff" stroke="#333" stroke-width="1.0"/>
<path d="M16.7 34.0 C17.9 32.2 21.0 31.9 23.8 31.0 C26.5 30.0 30.2 29.1 33.5 28.4 C36.7 27.8 41.8 26.0 43.2 27.1 C44.6 28.2 42.6 32.5 41.8 35.1 C41.0 37.8 39.6 40.7 38.5 43.2 C37.4 45.6 36.5 48.6 35.1 49.9 C33.7 51.1 32.0 50.6 30.1 50.5 C28.2 50.5 25.6 50.2 23.8 49.7 C21.9 49.2 20.4 49.0 19.2 47.7 C18.1 46.4 17.1 44.1 16.7 41.8 C16.3 39.5 15.6 35.8 16.7 34.0Z" fill="none" stroke="#666" stroke-width="0.7"/>
<path d="M20.9 34.4 C21.7 33.1 23.9 32.9 26.0 32.2 C28.0 31.5 30.7 30.8 33.0 30.4 C35.3 29.9 39.0 28.6 40.0 29.4 C41.0 30.2 39.6 33.3 39.1 35.2 C38.5 37.2 37.4 39.3 36.6 41.0 C35.8 42.8 35.2 45.0 34.2 45.9 C33.2 46.8 32.0 46.4 30.6 46.4 C29.2 46.4 27.3 46.1 26.0 45.8 C24.7 45.4 23.5 45.3 22.7 44.3 C21.8 43.4 21.2 41.7 20.9 40.1 C20.6 38.4 20.0 35.7 20.9 34.4Z" fill="none" stroke="#666" stroke-width="0.7"/>
<path d="M24.2 34.7 C24.8 33.8 26.3 33.7 27.7 33.2 C29.1 32.7 31.0 32.3 32.6 31.9 C34.3 31.6 36.8 30.7 37.5 31.3 C38.2 31.8 37.2 34.0 36.8 35.3 C36.5 36.6 35.7 38.1 35.2 39.3 C34.6 40.6 34.2 42.1 33.5 42.7 C32.8 43.3 31.9 43.1 30.9 43.1 C30.0 43.0 28.7 42.9 27.7 42.6 C26.8 42.4 26.1 42.3 25.5 41.6 C24.9 41.0 24.4 39.8 24.2 38.7 C24.0 37.5 23.6 35.6 24.2 34.7Z" fill="none" stroke="#666" stroke-width="0.7"/>
<path d="M27.3 35.0 C27.6 34.5 28.5 34.4 29.4 34.1 C30.2 33.8 31.3 33.6 32.3 33.4 C33.3 33.2 34.8 32.6 35.2 33.0 C35.6 33.3 35.0 34.6 34.8 35.4 C34.6 36.2 34.1 37.0 33.8 37.8 C33.5 38.5 33.2 39.4 32.8 39.8 C32.4 40.2 31.9 40.0 31.3 40.0 C30.7 40.0 29.9 39.9 29.4 39.7 C28.8 39.6 28.4 39.5 28.0 39.1 C27.7 38.7 27.4 38.1 27.3 37.4 C27.1 36.7 26.9 35.6 27.3 35.0Z" fill="none" stroke="#666" stroke-width="0.7"/>
<ellipse cx="31.8" cy="35.5" rx="6.4" ry="5.4" fill="url(#rg)" fill-opacity="0.55"/>
<ellipse cx="31.0" cy="33.5" rx="2.0" ry="1.7" fill="url(#rg)" fill-opacity="0.9"/>
<ellipse cx="32.1" cy="38.1" rx="2.0" ry="1.7" fill="url(#rg)" fill-opacity="0.9"/></g></g>
<line x1="21.5" y1="0" x2="21.5" y2="86.8" stroke="#7a7a7a" stroke-width="0.9"/>
<line x1="0" y1="47.3" x2="86.8" y2="47.3" stroke="#7a7a7a" stroke-width="0.9"/>
<rect x="0" y="0" width="86.8" height="86.8" fill="none" stroke="#888" stroke-width="1"/>
<text x="2.4" y="11.6" font-size="13.6" text-anchor="start" fill="#000">4</text>
<text x="85.2" y="11.6" font-size="13.6" text-anchor="end" fill="#000">91</text>
<text x="85.2" y="84.8" font-size="13.6" text-anchor="end" fill="#000">4</text>
</g>
<g transform="translate(313,423)">
<g clip-path="url(#boxclip)"><g transform="translate(0,0)"><g filter="url(#st3)">
<path d="M25.1 16.7 C31.5 13.9 57.2 13.9 63.6 16.7 C70.0 19.5 70.0 30.7 63.6 33.5 C57.2 36.3 31.5 36.3 25.1 33.5 C18.7 30.7 18.7 19.5 25.1 16.7Z" fill="#000" fill-opacity="0.051"/>
<path d="M13.4 36.0 C21.8 32.2 54.7 30.3 63.6 32.6 C72.5 35.0 66.5 42.2 66.9 50.2 C67.3 58.1 68.9 75.3 66.1 80.3 C63.3 85.3 58.4 81.1 50.2 80.3 C42.0 79.5 22.9 79.5 16.7 75.3 C10.6 71.1 13.9 61.8 13.4 55.2 C12.8 48.7 5.0 39.7 13.4 36.0Z" fill="#000" fill-opacity="0.170"/>
<path d="M16.7 50.2 C19.5 46.8 28.2 49.4 33.5 50.2 C38.8 51.0 45.7 51.0 48.5 55.2 C51.3 59.4 54.1 71.9 50.2 75.3 C46.3 78.6 30.7 76.1 25.1 75.3 C19.5 74.5 18.1 74.5 16.7 70.3 C15.3 66.1 13.9 53.5 16.7 50.2Z" fill="#000" fill-opacity="0.383"/>
<path d="M33.5 50.2 C35.1 49.9 45.7 51.3 48.5 55.2 C51.3 59.1 51.0 71.1 50.2 73.6 C49.4 76.1 45.5 73.1 43.5 70.3 C41.5 67.5 40.2 60.2 38.5 56.9 C36.8 53.5 31.8 50.5 33.5 50.2Z" fill="#000" fill-opacity="0.510"/>
</g>
<g filter="url(#sd3)">
<path d="M15.9 41.0 C16.6 39.0 18.8 37.4 21.8 36.8 C24.7 36.2 30.5 36.4 33.5 37.1 C36.4 37.8 37.4 40.2 39.3 41.0 C41.3 41.8 43.4 42.2 45.2 41.8 C47.0 41.4 48.0 39.3 50.2 38.5 C52.4 37.7 56.6 36.9 58.6 37.1 C60.6 37.4 61.7 38.0 62.2 40.2 C62.8 42.3 62.2 47.4 61.9 50.2 C61.6 53.0 60.1 54.1 60.2 56.9 C60.4 59.7 62.3 63.9 62.7 66.9 C63.2 70.0 63.6 73.3 62.7 75.3 C61.9 77.2 59.5 78.6 57.7 78.6 C55.9 78.6 53.3 77.2 51.9 75.3 C50.5 73.3 49.9 69.7 49.4 66.9 C48.8 64.1 49.2 60.8 48.5 58.6 C47.8 56.3 46.7 55.2 45.2 53.5 C43.6 51.9 41.3 49.1 39.3 48.5 C37.4 48.0 35.8 49.8 33.5 50.2 C31.1 50.6 27.7 51.3 25.1 51.0 C22.4 50.8 19.1 50.2 17.6 48.5 C16.0 46.8 15.2 42.9 15.9 41.0Z" fill="none" stroke="#000" stroke-width="4" stroke-opacity="0.92"/>
</g>
<path d="M15.9 41.0 C16.6 39.0 18.8 37.4 21.8 36.8 C24.7 36.2 30.5 36.4 33.5 37.1 C36.4 37.8 37.4 40.2 39.3 41.0 C41.3 41.8 43.4 42.2 45.2 41.8 C47.0 41.4 48.0 39.3 50.2 38.5 C52.4 37.7 56.6 36.9 58.6 37.1 C60.6 37.4 61.7 38.0 62.2 40.2 C62.8 42.3 62.2 47.4 61.9 50.2 C61.6 53.0 60.1 54.1 60.2 56.9 C60.4 59.7 62.3 63.9 62.7 66.9 C63.2 70.0 63.6 73.3 62.7 75.3 C61.9 77.2 59.5 78.6 57.7 78.6 C55.9 78.6 53.3 77.2 51.9 75.3 C50.5 73.3 49.9 69.7 49.4 66.9 C48.8 64.1 49.2 60.8 48.5 58.6 C47.8 56.3 46.7 55.2 45.2 53.5 C43.6 51.9 41.3 49.1 39.3 48.5 C37.4 48.0 35.8 49.8 33.5 50.2 C31.1 50.6 27.7 51.3 25.1 51.0 C22.4 50.8 19.1 50.2 17.6 48.5 C16.0 46.8 15.2 42.9 15.9 41.0Z" fill="#fff" stroke="#333" stroke-width="1.0"/>
<path d="M16.7 41.5 C17.3 39.8 19.0 38.4 21.8 37.8 C24.5 37.3 30.4 37.5 33.1 38.1 C35.9 38.8 37.5 40.0 38.1 41.5 C38.8 43.0 38.0 45.9 37.1 47.2 C36.3 48.5 35.1 48.7 33.1 49.2 C31.1 49.6 27.6 50.1 25.1 49.9 C22.6 49.6 19.5 49.1 18.1 47.7 C16.7 46.3 16.1 43.1 16.7 41.5Z" fill="none" stroke="#555" stroke-width="0.7"/>
<path d="M19.6 42.2 C20.0 41.1 21.2 40.1 23.1 39.7 C24.9 39.3 29.0 39.5 30.9 39.9 C32.7 40.4 33.8 41.2 34.3 42.2 C34.8 43.3 34.2 45.2 33.6 46.1 C33.0 47.0 32.2 47.2 30.9 47.5 C29.5 47.8 27.1 48.1 25.4 48.0 C23.6 47.8 21.5 47.4 20.5 46.5 C19.6 45.5 19.2 43.4 19.6 42.2Z" fill="none" stroke="#555" stroke-width="0.7"/>
<path d="M21.9 42.8 C22.2 42.1 22.9 41.5 24.1 41.2 C25.3 41.0 27.9 41.1 29.0 41.4 C30.2 41.6 30.9 42.2 31.2 42.8 C31.5 43.5 31.2 44.7 30.8 45.3 C30.4 45.8 29.9 46.0 29.0 46.2 C28.2 46.3 26.7 46.6 25.6 46.4 C24.5 46.3 23.1 46.1 22.5 45.5 C21.9 44.9 21.7 43.5 21.9 42.8Z" fill="none" stroke="#555" stroke-width="0.7"/>
<path d="M24.1 43.4 C24.2 43.0 24.5 42.7 25.1 42.6 C25.6 42.5 26.8 42.6 27.4 42.7 C27.9 42.8 28.2 43.1 28.4 43.4 C28.5 43.7 28.3 44.2 28.2 44.5 C28.0 44.8 27.8 44.8 27.4 44.9 C27.0 45.0 26.3 45.1 25.8 45.0 C25.3 45.0 24.6 44.9 24.4 44.6 C24.1 44.3 24.0 43.7 24.1 43.4Z" fill="none" stroke="#555" stroke-width="0.7"/>
<path d="M47.7 40.2 C49.1 38.1 54.6 37.4 56.9 37.6 C59.2 37.9 61.0 39.2 61.6 41.8 C62.1 44.5 61.6 51.3 60.2 53.5 C58.9 55.8 55.5 55.8 53.5 55.2 C51.6 54.7 49.5 52.7 48.5 50.2 C47.5 47.7 46.3 42.2 47.7 40.2Z" fill="none" stroke="#333" stroke-width="0.7"/>
<path d="M49.7 41.6 C50.7 40.0 54.7 39.5 56.4 39.7 C58.2 39.9 59.5 40.8 59.9 42.8 C60.3 44.7 59.9 49.8 58.9 51.4 C57.9 53.1 55.4 53.1 54.0 52.7 C52.5 52.3 51.0 50.8 50.3 49.0 C49.5 47.1 48.6 43.1 49.7 41.6Z" fill="none" stroke="#333" stroke-width="0.7"/>
<path d="M51.2 42.7 C52.0 41.6 54.9 41.2 56.1 41.4 C57.3 41.5 58.3 42.2 58.6 43.6 C58.9 45.0 58.6 48.6 57.9 49.8 C57.2 50.9 55.4 50.9 54.3 50.6 C53.3 50.3 52.2 49.3 51.7 48.0 C51.2 46.7 50.5 43.8 51.2 42.7Z" fill="none" stroke="#333" stroke-width="0.7"/>
<path d="M52.7 43.7 C53.2 43.0 55.0 42.8 55.8 42.9 C56.5 43.0 57.2 43.4 57.3 44.3 C57.5 45.2 57.3 47.4 56.9 48.2 C56.4 48.9 55.3 48.9 54.7 48.8 C54.0 48.6 53.3 47.9 53.0 47.1 C52.6 46.2 52.2 44.4 52.7 43.7Z" fill="none" stroke="#333" stroke-width="0.7"/>
<path d="M54.1 44.7 C54.3 44.4 55.1 44.3 55.5 44.3 C55.8 44.4 56.1 44.6 56.2 45.0 C56.2 45.4 56.2 46.4 56.0 46.7 C55.8 47.0 55.3 47.0 55.0 47.0 C54.7 46.9 54.4 46.6 54.2 46.2 C54.1 45.8 53.9 45.0 54.1 44.7Z" fill="none" stroke="#333" stroke-width="0.7"/>
<circle cx="55.2" cy="45.2" r="12.0" fill="url(#rw)" fill-opacity="1"/>
<ellipse cx="54.9" cy="46.0" rx="5.9" ry="8.4" fill="none" stroke="#222" stroke-width="1.00"/>
<path d="M51.0 63.6 C52.3 61.6 56.7 59.7 58.6 60.2 C60.4 60.8 61.8 64.1 62.2 66.9 C62.7 69.7 62.2 75.1 61.1 77.0 C59.9 78.8 56.9 78.6 55.2 77.8 C53.5 77.0 51.7 74.3 51.0 71.9 C50.3 69.6 49.8 65.5 51.0 63.6Z" fill="none" stroke="#333" stroke-width="0.7"/>
<path d="M52.9 65.3 C53.8 63.9 57.0 62.4 58.4 62.9 C59.8 63.3 60.8 65.7 61.1 67.8 C61.5 69.9 61.1 73.9 60.3 75.2 C59.4 76.5 57.2 76.4 56.0 75.8 C54.7 75.2 53.4 73.3 52.9 71.5 C52.4 69.8 51.9 66.8 52.9 65.3Z" fill="none" stroke="#333" stroke-width="0.7"/>
<path d="M54.3 66.7 C55.0 65.7 57.3 64.7 58.3 65.0 C59.3 65.3 60.0 67.0 60.3 68.5 C60.5 70.0 60.3 72.8 59.6 73.8 C59.0 74.8 57.4 74.7 56.6 74.2 C55.7 73.8 54.7 72.4 54.3 71.2 C54.0 69.9 53.7 67.8 54.3 66.7Z" fill="none" stroke="#333" stroke-width="0.7"/>
<path d="M55.7 68.0 C56.1 67.4 57.6 66.7 58.2 66.9 C58.8 67.1 59.3 68.2 59.5 69.2 C59.6 70.1 59.5 71.9 59.1 72.5 C58.7 73.1 57.7 73.1 57.1 72.8 C56.5 72.5 55.9 71.6 55.7 70.8 C55.5 70.0 55.3 68.7 55.7 68.0Z" fill="none" stroke="#333" stroke-width="0.7"/>
<path d="M57.0 69.3 C57.2 69.0 57.9 68.7 58.1 68.8 C58.4 68.8 58.6 69.3 58.7 69.8 C58.7 70.2 58.7 71.0 58.5 71.3 C58.3 71.5 57.9 71.5 57.6 71.4 C57.4 71.3 57.1 70.9 57.0 70.5 C56.9 70.2 56.8 69.6 57.0 69.3Z" fill="none" stroke="#333" stroke-width="0.7"/>
<circle cx="58.1" cy="70.3" r="12.0" fill="url(#rw)" fill-opacity="1"/>
<ellipse cx="57.7" cy="70.3" rx="5.9" ry="8.0" fill="none" stroke="#222" stroke-width="1.00"/></g></g>
<line x1="34.8" y1="0" x2="34.8" y2="86.8" stroke="#7a7a7a" stroke-width="0.9"/>
<line x1="0" y1="56.9" x2="86.8" y2="56.9" stroke="#7a7a7a" stroke-width="0.9"/>
<rect x="0" y="0" width="86.8" height="86.8" fill="none" stroke="#888" stroke-width="1"/>
<text x="2.4" y="11.6" font-size="13.6" text-anchor="start" fill="#000">12</text>
<text x="85.2" y="11.6" font-size="13.6" text-anchor="end" fill="#000">45</text>
<text x="85.2" y="84.8" font-size="13.6" text-anchor="end" fill="#000">42</text>
</g>
<g transform="translate(404.5,423)">
<g clip-path="url(#boxclip)"><g transform="translate(-0.5,0)"><g filter="url(#st0)">
<path d="M6.7 48.5 C12.8 46.0 35.7 45.5 41.8 48.5 C48.0 51.6 44.1 61.9 43.5 66.9 C42.9 71.9 44.1 76.7 38.5 78.6 C32.9 80.6 15.6 81.1 10.0 78.6 C4.5 76.1 5.6 68.6 5.0 63.6 C4.5 58.6 0.6 51.0 6.7 48.5Z" fill="#000" fill-opacity="0.068"/>
</g>
<path d="M14.2 32.6 C13.8 33.0 12.0 33.3 11.7 35.1 C11.4 36.9 12.0 41.4 12.5 43.5 C13.1 45.6 14.8 45.2 15.1 47.7 C15.3 50.2 14.5 55.1 14.2 58.6 C13.9 62.0 13.0 66.7 13.4 68.6 C13.8 70.5 15.3 69.9 16.7 69.9 C18.1 69.9 20.8 70.5 21.8 68.6 C22.7 66.7 22.6 60.8 22.6 58.6 C22.6 56.3 21.3 56.0 21.8 55.2 C22.2 54.4 23.4 53.5 25.1 53.5 C26.8 53.5 29.7 55.1 31.8 55.2 C33.9 55.4 36.8 55.5 37.6 54.4 C38.5 53.3 37.0 49.8 37.1 48.5 C37.3 47.3 38.3 47.1 38.5 46.8" fill="none" stroke="#555" stroke-width="0.8"/>
<path d="M15.1 31.8 C14.7 32.5 13.2 34.3 13.1 36.0 C12.9 37.6 13.3 40.3 14.2 41.8 C15.1 43.3 17.7 44.3 18.4 44.8" fill="none" stroke="#666" stroke-width="0.7"/>
<path d="M14.2 33.5 C14.8 30.3 18.5 28.4 21.8 26.8 C25.0 25.1 29.8 23.7 33.5 23.4 C37.1 23.1 41.5 23.4 43.5 25.1 C45.5 26.8 45.7 30.4 45.2 33.5 C44.6 36.5 42.7 41.0 40.2 43.5 C37.6 46.0 33.7 48.1 30.1 48.5 C26.5 48.9 21.1 48.5 18.4 46.0 C15.8 43.5 13.7 36.7 14.2 33.5Z" fill="#888" fill-opacity="0.45"/>
<path d="M14.2 33.5 C14.8 30.3 18.5 28.4 21.8 26.8 C25.0 25.1 29.8 23.7 33.5 23.4 C37.1 23.1 41.5 23.4 43.5 25.1 C45.5 26.8 45.7 30.4 45.2 33.5 C44.6 36.5 42.7 41.0 40.2 43.5 C37.6 46.0 33.7 48.1 30.1 48.5 C26.5 48.9 21.1 48.5 18.4 46.0 C15.8 43.5 13.7 36.7 14.2 33.5Z" fill="none" stroke="#555" stroke-width="0.7"/>
<path d="M17.0 33.7 C17.4 31.1 20.5 29.6 23.2 28.2 C25.8 26.8 29.9 25.7 32.9 25.4 C35.9 25.2 39.6 25.4 41.2 26.8 C42.8 28.2 43.0 31.2 42.6 33.7 C42.1 36.3 40.5 40.0 38.4 42.1 C36.3 44.1 33.1 45.9 30.1 46.2 C27.1 46.6 22.6 46.2 20.4 44.1 C18.2 42.1 16.5 36.4 17.0 33.7Z" fill="none" stroke="#555" stroke-width="0.7"/>
<path d="M19.2 34.0 C19.5 31.8 22.1 30.5 24.3 29.4 C26.6 28.2 29.9 27.2 32.4 27.1 C34.9 26.9 38.0 27.1 39.3 28.2 C40.7 29.4 40.9 31.9 40.5 34.0 C40.1 36.1 38.8 39.2 37.0 40.9 C35.3 42.6 32.6 44.1 30.1 44.4 C27.6 44.7 23.9 44.4 22.0 42.6 C20.2 40.9 18.8 36.2 19.2 34.0Z" fill="none" stroke="#555" stroke-width="0.7"/>
<path d="M21.2 34.2 C21.5 32.4 23.6 31.4 25.4 30.4 C27.2 29.5 30.0 28.7 32.0 28.6 C34.0 28.4 36.5 28.6 37.6 29.5 C38.7 30.4 38.9 32.5 38.6 34.2 C38.3 35.9 37.2 38.4 35.8 39.8 C34.3 41.2 32.2 42.4 30.1 42.7 C28.1 42.9 25.0 42.7 23.5 41.2 C22.0 39.8 20.9 36.0 21.2 34.2Z" fill="none" stroke="#555" stroke-width="0.7"/>
<path d="M23.1 34.4 C23.4 33.0 25.0 32.2 26.4 31.4 C27.8 30.7 30.0 30.1 31.6 30.0 C33.2 29.9 35.2 30.0 36.0 30.7 C36.9 31.4 37.0 33.0 36.8 34.4 C36.5 35.7 35.6 37.7 34.5 38.8 C33.4 39.9 31.7 40.8 30.1 41.0 C28.5 41.2 26.1 41.0 25.0 39.9 C23.8 38.8 22.9 35.8 23.1 34.4Z" fill="none" stroke="#555" stroke-width="0.7"/>
<path d="M25.0 34.6 C25.1 33.6 26.4 33.0 27.4 32.4 C28.4 31.9 30.0 31.4 31.2 31.3 C32.4 31.3 33.8 31.3 34.5 31.9 C35.1 32.4 35.2 33.6 35.0 34.6 C34.8 35.6 34.2 37.0 33.4 37.8 C32.6 38.7 31.3 39.3 30.1 39.5 C28.9 39.6 27.2 39.5 26.3 38.7 C25.5 37.8 24.8 35.6 25.0 34.6Z" fill="none" stroke="#555" stroke-width="0.7"/>
<path d="M26.8 34.8 C26.9 34.1 27.7 33.7 28.4 33.4 C29.0 33.0 30.1 32.7 30.8 32.7 C31.6 32.6 32.5 32.7 32.9 33.0 C33.3 33.4 33.4 34.1 33.3 34.8 C33.2 35.4 32.8 36.4 32.2 36.9 C31.7 37.4 30.9 37.9 30.1 38.0 C29.4 38.0 28.2 38.0 27.6 37.4 C27.1 36.9 26.7 35.5 26.8 34.8Z" fill="none" stroke="#555" stroke-width="0.7"/>
<path d="M28.5 35.0 C28.6 34.6 29.0 34.5 29.3 34.3 C29.6 34.1 30.1 34.0 30.5 34.0 C30.8 33.9 31.3 34.0 31.5 34.1 C31.6 34.3 31.7 34.7 31.6 35.0 C31.6 35.3 31.4 35.7 31.1 36.0 C30.9 36.2 30.5 36.4 30.1 36.5 C29.8 36.5 29.2 36.5 28.9 36.2 C28.7 36.0 28.5 35.3 28.5 35.0Z" fill="none" stroke="#555" stroke-width="0.7"/>
<circle cx="30.1" cy="35.1" r="15.1" fill="url(#rw)" fill-opacity="0.95"/></g></g>
<line x1="21.8" y1="0" x2="21.8" y2="86.8" stroke="#7a7a7a" stroke-width="0.9"/>
<line x1="0" y1="47.2" x2="86.8" y2="47.2" stroke="#7a7a7a" stroke-width="0.9"/>
<rect x="0" y="0" width="86.8" height="86.8" fill="none" stroke="#888" stroke-width="1"/>
<text x="2.4" y="11.6" font-size="13.6" text-anchor="start" fill="#000">10</text>
<text x="85.2" y="11.6" font-size="13.6" text-anchor="end" fill="#000">82</text>
<text x="85.2" y="84.8" font-size="13.6" text-anchor="end" fill="#000">4</text>
</g>
<path d="M75.6 586.2 V755.6 H244.6" fill="none" stroke="#000" stroke-width="1.5"/>
<line x1="71.3" y1="755.6" x2="75.6" y2="755.6" stroke="#000" stroke-width="1.3"/>
<text x="66.1" y="768.6" font-size="17.5" text-anchor="end" fill="#000">0</text>
<line x1="71.3" y1="713.25" x2="75.6" y2="713.25" stroke="#000" stroke-width="1.3"/>
<text x="66.1" y="726.25" font-size="17.5" text-anchor="end" fill="#000">25</text>
<line x1="71.3" y1="670.9000000000001" x2="75.6" y2="670.9000000000001" stroke="#000" stroke-width="1.3"/>
<text x="66.1" y="683.9000000000001" font-size="17.5" text-anchor="end" fill="#000">50</text>
<line x1="71.3" y1="628.5500000000001" x2="75.6" y2="628.5500000000001" stroke="#000" stroke-width="1.3"/>
<text x="66.1" y="641.5500000000001" font-size="17.5" text-anchor="end" fill="#000">75</text>
<line x1="71.3" y1="586.2" x2="75.6" y2="586.2" stroke="#000" stroke-width="1.3"/>
<text x="66.1" y="599.2" font-size="17.5" text-anchor="end" fill="#000">100</text>
<line x1="92.3" y1="755.6" x2="92.3" y2="758.9" stroke="#000" stroke-width="1.3"/>
<line x1="126.3" y1="755.6" x2="126.3" y2="758.9" stroke="#000" stroke-width="1.3"/>
<line x1="160" y1="755.6" x2="160" y2="758.9" stroke="#000" stroke-width="1.3"/>
<line x1="193.5" y1="755.6" x2="193.5" y2="758.9" stroke="#000" stroke-width="1.3"/>
<line x1="227.7" y1="755.6" x2="227.7" y2="758.9" stroke="#000" stroke-width="1.3"/>
<line x1="86.2" y1="627.5" x2="86.2" y2="636.2" stroke="#333" stroke-width="1.2"/>
<line x1="83.60000000000001" y1="627.5" x2="88.8" y2="627.5" stroke="#000" stroke-width="1.6"/>
<rect x="81.2" y="636.2" width="10.0" height="119.39999999999998" fill="#000"/>
<line x1="98.85" y1="629.2" x2="98.85" y2="635.2" stroke="#333" stroke-width="1.2"/>
<line x1="96.25" y1="629.2" x2="101.44999999999999" y2="629.2" stroke="#000" stroke-width="1.6"/>
<rect x="94.6" y="635.8000000000001" width="8.500000000000004" height="119.79999999999998" fill="#6c6c6c" stroke="#000" stroke-width="1.2"/>
<line x1="119.80000000000001" y1="719.2" x2="119.80000000000001" y2="726.9" stroke="#333" stroke-width="1.2"/>
<line x1="117.20000000000002" y1="719.2" x2="122.4" y2="719.2" stroke="#000" stroke-width="1.6"/>
<rect x="115.2" y="726.9" width="9.200000000000003" height="28.700000000000045" fill="#000"/>
<line x1="132.2" y1="632.2" x2="132.2" y2="641.4" stroke="#333" stroke-width="1.2"/>
<line x1="129.6" y1="632.2" x2="134.79999999999998" y2="632.2" stroke="#000" stroke-width="1.6"/>
<rect x="128.0" y="642.0" width="8.399999999999995" height="113.60000000000005" fill="#6c6c6c" stroke="#000" stroke-width="1.2"/>
<line x1="153.55" y1="610.8" x2="153.55" y2="618" stroke="#333" stroke-width="1.2"/>
<line x1="150.95000000000002" y1="610.8" x2="156.15" y2="610.8" stroke="#000" stroke-width="1.6"/>
<rect x="148.5" y="618" width="10.099999999999994" height="137.60000000000002" fill="#000"/>
<line x1="166.05" y1="650.3" x2="166.05" y2="657.4" stroke="#333" stroke-width="1.2"/>
<line x1="163.45000000000002" y1="650.3" x2="168.65" y2="650.3" stroke="#000" stroke-width="1.6"/>
<rect x="161.79999999999998" y="658.0" width="8.500000000000018" height="97.60000000000005" fill="#6c6c6c" stroke="#000" stroke-width="1.2"/>
<line x1="187.15" y1="629.6" x2="187.15" y2="639.8" stroke="#333" stroke-width="1.2"/>
<line x1="184.55" y1="629.6" x2="189.75" y2="629.6" stroke="#000" stroke-width="1.6"/>
<rect x="182.3" y="639.8" width="9.699999999999989" height="115.80000000000007" fill="#000"/>
<line x1="200.10000000000002" y1="639.3" x2="200.10000000000002" y2="648.4" stroke="#333" stroke-width="1.2"/>
<line x1="197.50000000000003" y1="639.3" x2="202.70000000000002" y2="639.3" stroke="#000" stroke-width="1.6"/>
<rect x="196.0" y="649.0" width="8.200000000000006" height="106.60000000000005" fill="#6c6c6c" stroke="#000" stroke-width="1.2"/>
<line x1="221.05" y1="616.3" x2="221.05" y2="637.7" stroke="#333" stroke-width="1.2"/>
<line x1="218.45000000000002" y1="616.3" x2="223.65" y2="616.3" stroke="#000" stroke-width="1.6"/>
<rect x="216.2" y="637.7" width="9.700000000000017" height="117.89999999999998" fill="#000"/>
<line x1="234.15" y1="634.3" x2="234.15" y2="643.4" stroke="#333" stroke-width="1.2"/>
<line x1="231.55" y1="634.3" x2="236.75" y2="634.3" stroke="#000" stroke-width="1.6"/>
<rect x="229.9" y="644.0" width="8.49999999999999" height="111.60000000000005" fill="#6c6c6c" stroke="#000" stroke-width="1.2"/>
<text x="146.6" y="582.5" font-size="20" text-anchor="start" fill="#000">DP</text>
<text x="95.6" y="773.3000000000001" font-size="18.5" text-anchor="end" fill="#000" transform="rotate(-45 95.6 773.3000000000001)">ctl</text>
<text x="129.6" y="773.3000000000001" font-size="18.5" text-anchor="end" fill="#000" transform="rotate(-45 129.6 773.3000000000001)">CD117</text>
<text x="163.3" y="773.3000000000001" font-size="18.5" text-anchor="end" fill="#000" transform="rotate(-45 163.3 773.3000000000001)">CD127</text>
<text x="196.8" y="773.3000000000001" font-size="18.5" text-anchor="end" fill="#000" transform="rotate(-45 196.8 773.3000000000001)">CD90</text>
<text x="231.0" y="773.3000000000001" font-size="18.5" text-anchor="end" fill="#000" transform="rotate(-45 231.0 773.3000000000001)">triple</text>
<path d="M297.6 586.5 V755.2 H465.8" fill="none" stroke="#000" stroke-width="1.5"/>
<line x1="293.3" y1="755.2" x2="297.6" y2="755.2" stroke="#000" stroke-width="1.3"/>
<text x="288.1" y="768.2" font-size="17.5" text-anchor="end" fill="#000">0</text>
<line x1="293.3" y1="713.0250000000001" x2="297.6" y2="713.0250000000001" stroke="#000" stroke-width="1.3"/>
<text x="288.1" y="726.0250000000001" font-size="17.5" text-anchor="end" fill="#000">25</text>
<line x1="293.3" y1="670.85" x2="297.6" y2="670.85" stroke="#000" stroke-width="1.3"/>
<text x="288.1" y="683.85" font-size="17.5" text-anchor="end" fill="#000">50</text>
<line x1="293.3" y1="628.675" x2="297.6" y2="628.675" stroke="#000" stroke-width="1.3"/>
<text x="288.1" y="641.675" font-size="17.5" text-anchor="end" fill="#000">75</text>
<line x1="293.3" y1="586.5" x2="297.6" y2="586.5" stroke="#000" stroke-width="1.3"/>
<text x="288.1" y="599.5" font-size="17.5" text-anchor="end" fill="#000">100</text>
<line x1="313.2" y1="755.2" x2="313.2" y2="758.5" stroke="#000" stroke-width="1.3"/>
<line x1="347" y1="755.2" x2="347" y2="758.5" stroke="#000" stroke-width="1.3"/>
<line x1="380.7" y1="755.2" x2="380.7" y2="758.5" stroke="#000" stroke-width="1.3"/>
<line x1="414.5" y1="755.2" x2="414.5" y2="758.5" stroke="#000" stroke-width="1.3"/>
<line x1="448.2" y1="755.2" x2="448.2" y2="758.5" stroke="#000" stroke-width="1.3"/>
<line x1="307.0" y1="715.5" x2="307.0" y2="722.5" stroke="#333" stroke-width="1.2"/>
<line x1="304.4" y1="715.5" x2="309.6" y2="715.5" stroke="#000" stroke-width="1.6"/>
<rect x="302" y="722.5" width="10" height="32.700000000000045" fill="#000"/>
<line x1="319.75" y1="709.2" x2="319.75" y2="716.2" stroke="#333" stroke-width="1.2"/>
<line x1="317.15" y1="709.2" x2="322.35" y2="709.2" stroke="#000" stroke-width="1.6"/>
<rect x="315.6" y="716.8000000000001" width="8.3" height="38.4" fill="#6c6c6c" stroke="#000" stroke-width="1.2"/>
<line x1="340.85" y1="627.6" x2="340.85" y2="640.3" stroke="#333" stroke-width="1.2"/>
<line x1="338.25" y1="627.6" x2="343.45000000000005" y2="627.6" stroke="#000" stroke-width="1.6"/>
<rect x="336.2" y="640.3" width="9.300000000000011" height="114.90000000000009" fill="#000"/>
<line x1="353.65" y1="695.8" x2="353.65" y2="707.5" stroke="#333" stroke-width="1.2"/>
<line x1="351.04999999999995" y1="695.8" x2="356.25" y2="695.8" stroke="#000" stroke-width="1.6"/>
<rect x="349.6" y="708.1" width="8.100000000000012" height="47.100000000000044" fill="#6c6c6c" stroke="#000" stroke-width="1.2"/>
<line x1="374.65" y1="727.5" x2="374.65" y2="733" stroke="#333" stroke-width="1.2"/>
<line x1="372.04999999999995" y1="727.5" x2="377.25" y2="727.5" stroke="#000" stroke-width="1.6"/>
<rect x="370" y="733" width="9.300000000000011" height="22.200000000000045" fill="#000"/>
<line x1="387.75" y1="688.2" x2="387.75" y2="697" stroke="#333" stroke-width="1.2"/>
<line x1="385.15" y1="688.2" x2="390.35" y2="688.2" stroke="#000" stroke-width="1.6"/>
<rect x="383.6" y="697.6" width="8.3" height="57.600000000000044" fill="#6c6c6c" stroke="#000" stroke-width="1.2"/>
<line x1="408.1" y1="703.7" x2="408.1" y2="715.7" stroke="#333" stroke-width="1.2"/>
<line x1="405.5" y1="703.7" x2="410.70000000000005" y2="703.7" stroke="#000" stroke-width="1.6"/>
<rect x="403" y="715.7" width="10.199999999999989" height="39.5" fill="#000"/>
<line x1="420.95" y1="689.5" x2="420.95" y2="698.8" stroke="#333" stroke-width="1.2"/>
<line x1="418.34999999999997" y1="689.5" x2="423.55" y2="689.5" stroke="#000" stroke-width="1.6"/>
<rect x="416.8" y="699.4" width="8.3" height="55.80000000000009" fill="#6c6c6c" stroke="#000" stroke-width="1.2"/>
<line x1="442.25" y1="691.7" x2="442.25" y2="711.2" stroke="#333" stroke-width="1.2"/>
<line x1="439.65" y1="691.7" x2="444.85" y2="691.7" stroke="#000" stroke-width="1.6"/>
<rect x="437.5" y="711.2" width="9.5" height="44.0" fill="#000"/>
<line x1="454.75" y1="694.2" x2="454.75" y2="703" stroke="#333" stroke-width="1.2"/>
<line x1="452.15" y1="694.2" x2="457.35" y2="694.2" stroke="#000" stroke-width="1.6"/>
<rect x="450.6" y="703.6" width="8.3" height="51.600000000000044" fill="#6c6c6c" stroke="#000" stroke-width="1.2"/>
<text x="366.5" y="582.5" font-size="20" text-anchor="start" fill="#000">SP</text>
<text x="316.5" y="772.9000000000001" font-size="18.5" text-anchor="end" fill="#000" transform="rotate(-45 316.5 772.9000000000001)">ctl</text>
<text x="350.3" y="772.9000000000001" font-size="18.5" text-anchor="end" fill="#000" transform="rotate(-45 350.3 772.9000000000001)">CD117</text>
<text x="384.0" y="772.9000000000001" font-size="18.5" text-anchor="end" fill="#000" transform="rotate(-45 384.0 772.9000000000001)">CD127</text>
<text x="417.8" y="772.9000000000001" font-size="18.5" text-anchor="end" fill="#000" transform="rotate(-45 417.8 772.9000000000001)">CD90</text>
<text x="451.5" y="772.9000000000001" font-size="18.5" text-anchor="end" fill="#000" transform="rotate(-45 451.5 772.9000000000001)">triple</text>
<text x="30.1" y="664.8" font-size="15.8" text-anchor="middle" fill="#000" transform="rotate(-90 30.1 664.8)">frequency [%]</text>
<line x1="98.8" y1="593.5" x2="165.3" y2="593.5" stroke="#000" stroke-width="1.5"/>
<polygon points="131.00,585.20 131.79,587.21 133.95,587.34 132.28,588.72 132.82,590.81 131.00,589.65 129.18,590.81 129.72,588.72 128.05,587.34 130.21,587.21" fill="#000"/>
<line x1="85.7" y1="605" x2="153" y2="605" stroke="#000" stroke-width="1.5"/>
<polygon points="119.10,597.50 119.89,599.51 122.05,599.64 120.38,601.02 120.92,603.11 119.10,601.95 117.28,603.11 117.82,601.02 116.15,599.64 118.31,599.51" fill="#000"/>
<line x1="85.7" y1="618.6" x2="119.6" y2="618.6" stroke="#000" stroke-width="1.5"/>
<polygon points="96.50,610.90 97.29,612.91 99.45,613.04 97.78,614.42 98.32,616.51 96.50,615.35 94.68,616.51 95.22,614.42 93.55,613.04 95.71,612.91" fill="#000"/>
<polygon points="102.80,610.90 103.59,612.91 105.75,613.04 104.08,614.42 104.62,616.51 102.80,615.35 100.98,616.51 101.52,614.42 99.85,613.04 102.01,612.91" fill="#000"/>
<polygon points="109.10,610.90 109.89,612.91 112.05,613.04 110.38,614.42 110.92,616.51 109.10,615.35 107.28,616.51 107.82,614.42 106.15,613.04 108.31,612.91" fill="#000"/>
<line x1="307.7" y1="617.7" x2="341.2" y2="617.7" stroke="#000" stroke-width="1.5"/>
<polygon points="318.50,609.90 319.29,611.91 321.45,612.04 319.78,613.42 320.32,615.51 318.50,614.35 316.68,615.51 317.22,613.42 315.55,612.04 317.71,611.91" fill="#000"/>
<polygon points="324.80,609.90 325.59,611.91 327.75,612.04 326.08,613.42 326.62,615.51 324.80,614.35 322.98,615.51 323.52,613.42 321.85,612.04 324.01,611.91" fill="#000"/>
<polygon points="331.10,609.90 331.89,611.91 334.05,612.04 332.38,613.42 332.92,615.51 331.10,614.35 329.28,615.51 329.82,613.42 328.15,612.04 330.31,611.91" fill="#000"/>
<rect x="367.5" y="608.5" width="19.5" height="13.5" fill="#000"/>
<rect x="368.1" y="632" width="18.3" height="12" fill="#6c6c6c" stroke="#000" stroke-width="1.2"/>
<text x="395.5" y="620.6" font-size="15.5" text-anchor="start" fill="#000">test</text>
<text x="395.5" y="643.5" font-size="15.5" text-anchor="start" fill="#000">competitor</text>
<line x1="77" y1="816.3" x2="471" y2="816.3" stroke="#333" stroke-width="1.1"/>
<text x="268.8" y="837" font-size="15.9" text-anchor="middle" fill="#000">depleted population</text>
</svg></body></html>
